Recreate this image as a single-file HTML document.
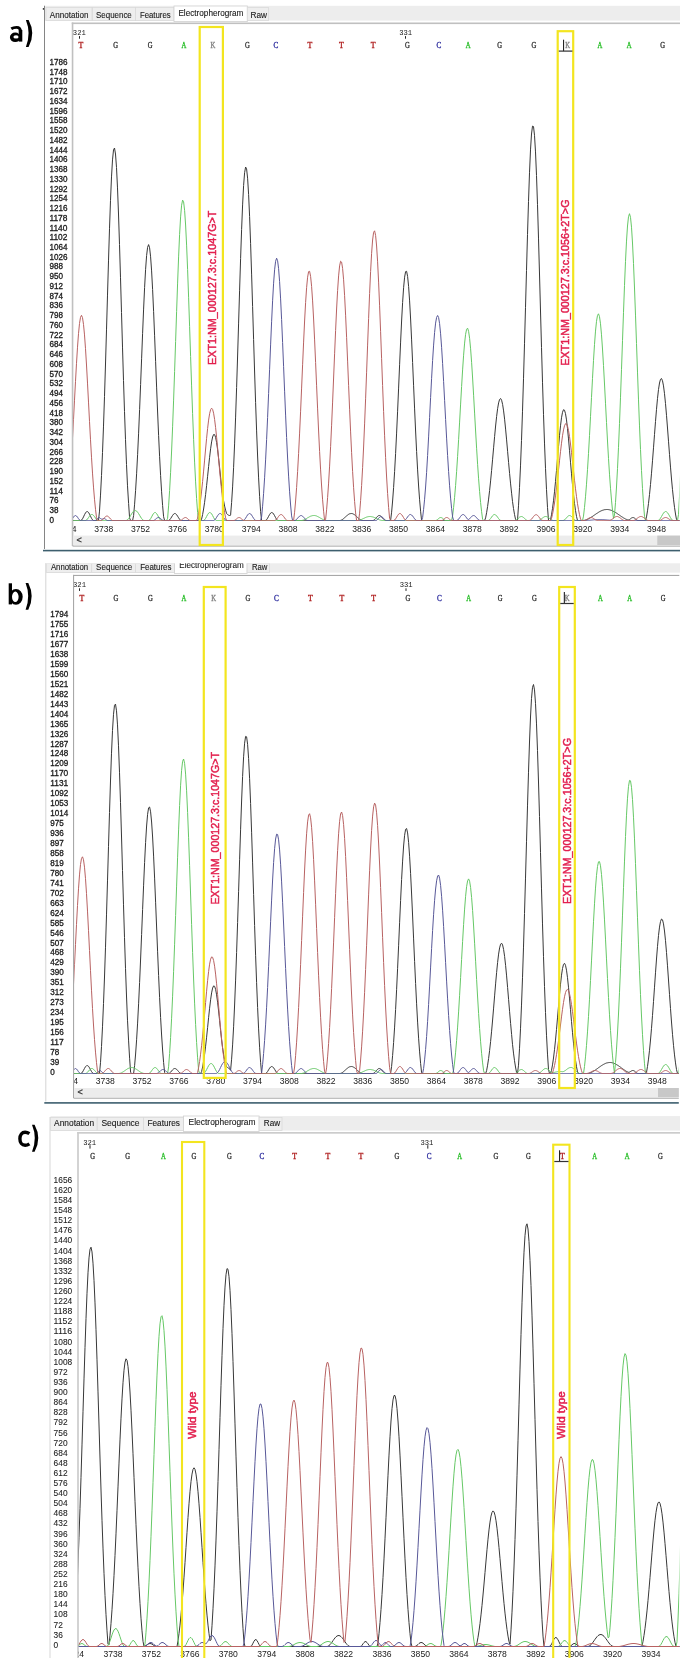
<!DOCTYPE html><html><head><meta charset="utf-8"><style>html,body{margin:0;padding:0;background:#fff;overflow:hidden;width:685px;height:1658px;}svg{display:block;will-change:transform;}</style></head><body>
<svg width="685" height="1658" viewBox="0 0 685 1658" font-family="Liberation Sans, sans-serif">
<rect width="685" height="1658" fill="#fff"/>
<rect x="44" y="5.7" width="1" height="543.3" fill="#858585"/>
<rect x="42.8" y="8" width="1.2" height="1.8" fill="#444"/>
<rect x="45" y="5.8" width="635" height="14.8" fill="#ededed"/>
<rect x="46" y="7.5" width="46" height="13.100000000000001" fill="#eeeeee" stroke="#dadada" stroke-width="0.8"/>
<text x="49.8" y="17.5" font-size="9" textLength="38.6" lengthAdjust="spacingAndGlyphs" fill="#202020" stroke="#202020" stroke-width="0.12">Annotation</text>
<rect x="92.5" y="7.5" width="43.0" height="13.100000000000001" fill="#eeeeee" stroke="#dadada" stroke-width="0.8"/>
<text x="96" y="17.5" font-size="9" textLength="35.8" lengthAdjust="spacingAndGlyphs" fill="#202020" stroke="#202020" stroke-width="0.12">Sequence</text>
<rect x="135.5" y="7.5" width="38.5" height="13.100000000000001" fill="#eeeeee" stroke="#dadada" stroke-width="0.8"/>
<text x="139.9" y="17.5" font-size="9" textLength="30.8" lengthAdjust="spacingAndGlyphs" fill="#202020" stroke="#202020" stroke-width="0.12">Features</text>
<rect x="174" y="6" width="73.30000000000001" height="15.600000000000001" fill="#ffffff" stroke="#d0d0d0" stroke-width="0.8"/>
<text x="178.4" y="16.3" font-size="9" textLength="65" lengthAdjust="spacingAndGlyphs" fill="#202020" stroke="#202020" stroke-width="0.12">Electropherogram</text>
<rect x="247.3" y="7.5" width="21.19999999999999" height="13.100000000000001" fill="#eeeeee" stroke="#dadada" stroke-width="0.8"/>
<text x="250.5" y="17.5" font-size="9" textLength="16.5" lengthAdjust="spacingAndGlyphs" fill="#202020" stroke="#202020" stroke-width="0.12">Raw</text>
<rect x="71.75" y="22.5" width="608.25" height="1.6" fill="#c0c0c0"/>
<rect x="71.75" y="22.5" width="1.6" height="523.5" fill="#c0c0c0"/>
<text x="49.4" y="64.8" font-size="8.5" textLength="18.00" lengthAdjust="spacingAndGlyphs" fill="#1a1a1a" stroke="#1a1a1a" stroke-width="0.3">1786</text>
<text x="49.4" y="74.5" font-size="8.5" textLength="18.00" lengthAdjust="spacingAndGlyphs" fill="#1a1a1a" stroke="#1a1a1a" stroke-width="0.3">1748</text>
<text x="49.4" y="84.3" font-size="8.5" textLength="18.00" lengthAdjust="spacingAndGlyphs" fill="#1a1a1a" stroke="#1a1a1a" stroke-width="0.3">1710</text>
<text x="49.4" y="94.0" font-size="8.5" textLength="18.00" lengthAdjust="spacingAndGlyphs" fill="#1a1a1a" stroke="#1a1a1a" stroke-width="0.3">1672</text>
<text x="49.4" y="103.8" font-size="8.5" textLength="18.00" lengthAdjust="spacingAndGlyphs" fill="#1a1a1a" stroke="#1a1a1a" stroke-width="0.3">1634</text>
<text x="49.4" y="113.5" font-size="8.5" textLength="18.00" lengthAdjust="spacingAndGlyphs" fill="#1a1a1a" stroke="#1a1a1a" stroke-width="0.3">1596</text>
<text x="49.4" y="123.3" font-size="8.5" textLength="18.00" lengthAdjust="spacingAndGlyphs" fill="#1a1a1a" stroke="#1a1a1a" stroke-width="0.3">1558</text>
<text x="49.4" y="133.0" font-size="8.5" textLength="18.00" lengthAdjust="spacingAndGlyphs" fill="#1a1a1a" stroke="#1a1a1a" stroke-width="0.3">1520</text>
<text x="49.4" y="142.8" font-size="8.5" textLength="18.00" lengthAdjust="spacingAndGlyphs" fill="#1a1a1a" stroke="#1a1a1a" stroke-width="0.3">1482</text>
<text x="49.4" y="152.5" font-size="8.5" textLength="18.00" lengthAdjust="spacingAndGlyphs" fill="#1a1a1a" stroke="#1a1a1a" stroke-width="0.3">1444</text>
<text x="49.4" y="162.2" font-size="8.5" textLength="18.00" lengthAdjust="spacingAndGlyphs" fill="#1a1a1a" stroke="#1a1a1a" stroke-width="0.3">1406</text>
<text x="49.4" y="172.0" font-size="8.5" textLength="18.00" lengthAdjust="spacingAndGlyphs" fill="#1a1a1a" stroke="#1a1a1a" stroke-width="0.3">1368</text>
<text x="49.4" y="181.7" font-size="8.5" textLength="18.00" lengthAdjust="spacingAndGlyphs" fill="#1a1a1a" stroke="#1a1a1a" stroke-width="0.3">1330</text>
<text x="49.4" y="191.5" font-size="8.5" textLength="18.00" lengthAdjust="spacingAndGlyphs" fill="#1a1a1a" stroke="#1a1a1a" stroke-width="0.3">1292</text>
<text x="49.4" y="201.2" font-size="8.5" textLength="18.00" lengthAdjust="spacingAndGlyphs" fill="#1a1a1a" stroke="#1a1a1a" stroke-width="0.3">1254</text>
<text x="49.4" y="211.0" font-size="8.5" textLength="18.00" lengthAdjust="spacingAndGlyphs" fill="#1a1a1a" stroke="#1a1a1a" stroke-width="0.3">1216</text>
<text x="49.4" y="220.7" font-size="8.5" textLength="18.00" lengthAdjust="spacingAndGlyphs" fill="#1a1a1a" stroke="#1a1a1a" stroke-width="0.3">1178</text>
<text x="49.4" y="230.5" font-size="8.5" textLength="18.00" lengthAdjust="spacingAndGlyphs" fill="#1a1a1a" stroke="#1a1a1a" stroke-width="0.3">1140</text>
<text x="49.4" y="240.2" font-size="8.5" textLength="18.00" lengthAdjust="spacingAndGlyphs" fill="#1a1a1a" stroke="#1a1a1a" stroke-width="0.3">1102</text>
<text x="49.4" y="250.0" font-size="8.5" textLength="18.00" lengthAdjust="spacingAndGlyphs" fill="#1a1a1a" stroke="#1a1a1a" stroke-width="0.3">1064</text>
<text x="49.4" y="259.7" font-size="8.5" textLength="18.00" lengthAdjust="spacingAndGlyphs" fill="#1a1a1a" stroke="#1a1a1a" stroke-width="0.3">1026</text>
<text x="49.4" y="269.4" font-size="8.5" textLength="13.50" lengthAdjust="spacingAndGlyphs" fill="#1a1a1a" stroke="#1a1a1a" stroke-width="0.3">988</text>
<text x="49.4" y="279.2" font-size="8.5" textLength="13.50" lengthAdjust="spacingAndGlyphs" fill="#1a1a1a" stroke="#1a1a1a" stroke-width="0.3">950</text>
<text x="49.4" y="288.9" font-size="8.5" textLength="13.50" lengthAdjust="spacingAndGlyphs" fill="#1a1a1a" stroke="#1a1a1a" stroke-width="0.3">912</text>
<text x="49.4" y="298.7" font-size="8.5" textLength="13.50" lengthAdjust="spacingAndGlyphs" fill="#1a1a1a" stroke="#1a1a1a" stroke-width="0.3">874</text>
<text x="49.4" y="308.4" font-size="8.5" textLength="13.50" lengthAdjust="spacingAndGlyphs" fill="#1a1a1a" stroke="#1a1a1a" stroke-width="0.3">836</text>
<text x="49.4" y="318.2" font-size="8.5" textLength="13.50" lengthAdjust="spacingAndGlyphs" fill="#1a1a1a" stroke="#1a1a1a" stroke-width="0.3">798</text>
<text x="49.4" y="327.9" font-size="8.5" textLength="13.50" lengthAdjust="spacingAndGlyphs" fill="#1a1a1a" stroke="#1a1a1a" stroke-width="0.3">760</text>
<text x="49.4" y="337.7" font-size="8.5" textLength="13.50" lengthAdjust="spacingAndGlyphs" fill="#1a1a1a" stroke="#1a1a1a" stroke-width="0.3">722</text>
<text x="49.4" y="347.4" font-size="8.5" textLength="13.50" lengthAdjust="spacingAndGlyphs" fill="#1a1a1a" stroke="#1a1a1a" stroke-width="0.3">684</text>
<text x="49.4" y="357.1" font-size="8.5" textLength="13.50" lengthAdjust="spacingAndGlyphs" fill="#1a1a1a" stroke="#1a1a1a" stroke-width="0.3">646</text>
<text x="49.4" y="366.9" font-size="8.5" textLength="13.50" lengthAdjust="spacingAndGlyphs" fill="#1a1a1a" stroke="#1a1a1a" stroke-width="0.3">608</text>
<text x="49.4" y="376.6" font-size="8.5" textLength="13.50" lengthAdjust="spacingAndGlyphs" fill="#1a1a1a" stroke="#1a1a1a" stroke-width="0.3">570</text>
<text x="49.4" y="386.4" font-size="8.5" textLength="13.50" lengthAdjust="spacingAndGlyphs" fill="#1a1a1a" stroke="#1a1a1a" stroke-width="0.3">532</text>
<text x="49.4" y="396.1" font-size="8.5" textLength="13.50" lengthAdjust="spacingAndGlyphs" fill="#1a1a1a" stroke="#1a1a1a" stroke-width="0.3">494</text>
<text x="49.4" y="405.9" font-size="8.5" textLength="13.50" lengthAdjust="spacingAndGlyphs" fill="#1a1a1a" stroke="#1a1a1a" stroke-width="0.3">456</text>
<text x="49.4" y="415.6" font-size="8.5" textLength="13.50" lengthAdjust="spacingAndGlyphs" fill="#1a1a1a" stroke="#1a1a1a" stroke-width="0.3">418</text>
<text x="49.4" y="425.4" font-size="8.5" textLength="13.50" lengthAdjust="spacingAndGlyphs" fill="#1a1a1a" stroke="#1a1a1a" stroke-width="0.3">380</text>
<text x="49.4" y="435.1" font-size="8.5" textLength="13.50" lengthAdjust="spacingAndGlyphs" fill="#1a1a1a" stroke="#1a1a1a" stroke-width="0.3">342</text>
<text x="49.4" y="444.9" font-size="8.5" textLength="13.50" lengthAdjust="spacingAndGlyphs" fill="#1a1a1a" stroke="#1a1a1a" stroke-width="0.3">304</text>
<text x="49.4" y="454.6" font-size="8.5" textLength="13.50" lengthAdjust="spacingAndGlyphs" fill="#1a1a1a" stroke="#1a1a1a" stroke-width="0.3">266</text>
<text x="49.4" y="464.3" font-size="8.5" textLength="13.50" lengthAdjust="spacingAndGlyphs" fill="#1a1a1a" stroke="#1a1a1a" stroke-width="0.3">228</text>
<text x="49.4" y="474.1" font-size="8.5" textLength="13.50" lengthAdjust="spacingAndGlyphs" fill="#1a1a1a" stroke="#1a1a1a" stroke-width="0.3">190</text>
<text x="49.4" y="483.8" font-size="8.5" textLength="13.50" lengthAdjust="spacingAndGlyphs" fill="#1a1a1a" stroke="#1a1a1a" stroke-width="0.3">152</text>
<text x="49.4" y="493.6" font-size="8.5" textLength="13.50" lengthAdjust="spacingAndGlyphs" fill="#1a1a1a" stroke="#1a1a1a" stroke-width="0.3">114</text>
<text x="49.4" y="503.3" font-size="8.5" textLength="9.00" lengthAdjust="spacingAndGlyphs" fill="#1a1a1a" stroke="#1a1a1a" stroke-width="0.3">76</text>
<text x="49.4" y="513.1" font-size="8.5" textLength="9.00" lengthAdjust="spacingAndGlyphs" fill="#1a1a1a" stroke="#1a1a1a" stroke-width="0.3">38</text>
<text x="49.4" y="522.8" font-size="8.5" textLength="4.50" lengthAdjust="spacingAndGlyphs" fill="#1a1a1a" stroke="#1a1a1a" stroke-width="0.3">0</text>
<clipPath id="ca"><rect x="73.14999999999999" y="23.900000000000002" width="606.25" height="511.70000000000005"/></clipPath>
<g clip-path="url(#ca)">
<text x="67.0" y="532" font-size="8.6" text-anchor="middle" fill="#1a1a1a">3724</text>
<text x="103.8" y="532" font-size="8.6" text-anchor="middle" fill="#1a1a1a">3738</text>
<text x="140.6" y="532" font-size="8.6" text-anchor="middle" fill="#1a1a1a">3752</text>
<text x="177.5" y="532" font-size="8.6" text-anchor="middle" fill="#1a1a1a">3766</text>
<text x="214.3" y="532" font-size="8.6" text-anchor="middle" fill="#1a1a1a">3780</text>
<text x="251.2" y="532" font-size="8.6" text-anchor="middle" fill="#1a1a1a">3794</text>
<text x="288.0" y="532" font-size="8.6" text-anchor="middle" fill="#1a1a1a">3808</text>
<text x="324.9" y="532" font-size="8.6" text-anchor="middle" fill="#1a1a1a">3822</text>
<text x="361.7" y="532" font-size="8.6" text-anchor="middle" fill="#1a1a1a">3836</text>
<text x="398.6" y="532" font-size="8.6" text-anchor="middle" fill="#1a1a1a">3850</text>
<text x="435.4" y="532" font-size="8.6" text-anchor="middle" fill="#1a1a1a">3864</text>
<text x="472.3" y="532" font-size="8.6" text-anchor="middle" fill="#1a1a1a">3878</text>
<text x="509.1" y="532" font-size="8.6" text-anchor="middle" fill="#1a1a1a">3892</text>
<text x="546.0" y="532" font-size="8.6" text-anchor="middle" fill="#1a1a1a">3906</text>
<text x="582.8" y="532" font-size="8.6" text-anchor="middle" fill="#1a1a1a">3920</text>
<text x="619.7" y="532" font-size="8.6" text-anchor="middle" fill="#1a1a1a">3934</text>
<text x="656.5" y="532" font-size="8.6" text-anchor="middle" fill="#1a1a1a">3948</text>
<text x="693.4" y="532" font-size="8.6" text-anchor="middle" fill="#1a1a1a">3962</text>
<text x="81" y="48.3" font-family="Liberation Serif" font-size="8.2" text-anchor="middle" textLength="4.8" lengthAdjust="spacingAndGlyphs" fill="#b02020" stroke="#b02020" stroke-width="0.35">T</text>
<text x="115.6" y="48.3" font-family="Liberation Serif" font-size="8.2" text-anchor="middle" textLength="4.8" lengthAdjust="spacingAndGlyphs" fill="#303030" stroke="#303030" stroke-width="0.35">G</text>
<text x="150.1" y="48.3" font-family="Liberation Serif" font-size="8.2" text-anchor="middle" textLength="4.8" lengthAdjust="spacingAndGlyphs" fill="#303030" stroke="#303030" stroke-width="0.35">G</text>
<text x="183.8" y="48.3" font-family="Liberation Serif" font-size="8.2" text-anchor="middle" textLength="4.8" lengthAdjust="spacingAndGlyphs" fill="#30c030" stroke="#30c030" stroke-width="0.35">A</text>
<text x="213" y="48.3" font-family="Liberation Serif" font-size="8.2" text-anchor="middle" textLength="4.8" lengthAdjust="spacingAndGlyphs" fill="#808080" stroke="#808080" stroke-width="0.35">K</text>
<text x="247.3" y="48.3" font-family="Liberation Serif" font-size="8.2" text-anchor="middle" textLength="4.8" lengthAdjust="spacingAndGlyphs" fill="#303030" stroke="#303030" stroke-width="0.35">G</text>
<text x="276" y="48.3" font-family="Liberation Serif" font-size="8.2" text-anchor="middle" textLength="4.8" lengthAdjust="spacingAndGlyphs" fill="#3030a0" stroke="#3030a0" stroke-width="0.35">C</text>
<text x="310" y="48.3" font-family="Liberation Serif" font-size="8.2" text-anchor="middle" textLength="4.8" lengthAdjust="spacingAndGlyphs" fill="#b02020" stroke="#b02020" stroke-width="0.35">T</text>
<text x="341.5" y="48.3" font-family="Liberation Serif" font-size="8.2" text-anchor="middle" textLength="4.8" lengthAdjust="spacingAndGlyphs" fill="#b02020" stroke="#b02020" stroke-width="0.35">T</text>
<text x="373.2" y="48.3" font-family="Liberation Serif" font-size="8.2" text-anchor="middle" textLength="4.8" lengthAdjust="spacingAndGlyphs" fill="#b02020" stroke="#b02020" stroke-width="0.35">T</text>
<text x="407.4" y="48.3" font-family="Liberation Serif" font-size="8.2" text-anchor="middle" textLength="4.8" lengthAdjust="spacingAndGlyphs" fill="#303030" stroke="#303030" stroke-width="0.35">G</text>
<text x="438.9" y="48.3" font-family="Liberation Serif" font-size="8.2" text-anchor="middle" textLength="4.8" lengthAdjust="spacingAndGlyphs" fill="#3030a0" stroke="#3030a0" stroke-width="0.35">C</text>
<text x="468.1" y="48.3" font-family="Liberation Serif" font-size="8.2" text-anchor="middle" textLength="4.8" lengthAdjust="spacingAndGlyphs" fill="#30c030" stroke="#30c030" stroke-width="0.35">A</text>
<text x="499.7" y="48.3" font-family="Liberation Serif" font-size="8.2" text-anchor="middle" textLength="4.8" lengthAdjust="spacingAndGlyphs" fill="#303030" stroke="#303030" stroke-width="0.35">G</text>
<text x="533.8" y="48.3" font-family="Liberation Serif" font-size="8.2" text-anchor="middle" textLength="4.8" lengthAdjust="spacingAndGlyphs" fill="#303030" stroke="#303030" stroke-width="0.35">G</text>
<text x="567.6" y="48.3" font-family="Liberation Serif" font-size="8.2" text-anchor="middle" textLength="4.8" lengthAdjust="spacingAndGlyphs" fill="#808080" stroke="#808080" stroke-width="0.35">K</text>
<text x="600" y="48.3" font-family="Liberation Serif" font-size="8.2" text-anchor="middle" textLength="4.8" lengthAdjust="spacingAndGlyphs" fill="#30c030" stroke="#30c030" stroke-width="0.35">A</text>
<text x="629.2" y="48.3" font-family="Liberation Serif" font-size="8.2" text-anchor="middle" textLength="4.8" lengthAdjust="spacingAndGlyphs" fill="#30c030" stroke="#30c030" stroke-width="0.35">A</text>
<text x="662.7" y="48.3" font-family="Liberation Serif" font-size="8.2" text-anchor="middle" textLength="4.8" lengthAdjust="spacingAndGlyphs" fill="#303030" stroke="#303030" stroke-width="0.35">G</text>
<text x="72.8" y="34.8" font-family="Liberation Mono" font-size="7.6" textLength="13" lengthAdjust="spacingAndGlyphs" fill="#1a1a1a">321</text>
<text x="399.2" y="34.8" font-family="Liberation Mono" font-size="7.6" textLength="13" lengthAdjust="spacingAndGlyphs" fill="#1a1a1a">331</text>
<rect x="79" y="36.1" width="1" height="2.6" fill="#222"/>
<rect x="405" y="36.1" width="1" height="2.6" fill="#222"/>
<path d="M70.5,520.5 L71.5,520.5 L72.5,520.5 L73.5,520.5 L74.5,520.5 L75.5,520.5 L76.5,520.5 L77.5,520.5 L78.5,520.5 L79.5,520.5 L80.5,520.5 L81.5,520.1 L82.5,518.8 L83.5,516.9 L84.5,514.7 L85.5,512.9 L86.5,511.7 L87.5,511.6 L88.5,512.4 L89.5,514.1 L90.5,516.2 L91.5,518.3 L92.5,519.8 L93.5,520.5 L94.5,520.5 L95.5,520.5 L96.5,520.5 L97.5,520.5 L98.5,520.5 L99.5,511.1 L100.5,495.1 L101.5,475.6 L102.5,452.6 L103.5,426.1 L104.5,396.4 L105.5,364.0 L106.5,329.9 L107.5,295.1 L108.5,260.9 L109.5,228.8 L110.5,200.3 L111.5,176.9 L112.5,159.9 L113.5,150.0 L114.5,148.0 L115.5,154.0 L116.5,167.5 L117.5,187.9 L118.5,214.0 L119.5,244.5 L120.5,277.8 L121.5,312.5 L122.5,347.1 L123.5,380.5 L124.5,411.6 L125.5,439.7 L126.5,464.5 L127.5,485.8 L128.6,503.5 L129.6,518.0 L130.6,520.5 L131.6,520.5 L132.6,520.5 L133.6,515.6 L134.6,504.2 L135.6,490.3 L136.6,473.8 L137.6,454.7 L138.6,433.2 L139.6,409.6 L140.6,384.5 L141.6,358.8 L142.6,333.3 L143.6,309.1 L144.6,287.4 L145.6,269.3 L146.6,255.6 L147.6,247.3 L148.6,244.6 L149.6,247.8 L150.6,256.8 L151.6,270.9 L152.6,289.5 L153.6,311.4 L154.6,335.8 L155.6,361.3 L156.6,387.1 L157.6,412.0 L158.6,435.4 L159.6,456.7 L160.6,475.6 L161.6,491.8 L162.6,505.5 L163.6,516.7 L164.6,520.5 L165.6,520.5 L166.6,520.5 L167.6,520.5 L168.6,520.5 L169.6,519.9 L170.6,518.6 L171.6,517.0 L172.6,515.4 L173.6,514.1 L174.6,513.5 L175.6,513.7 L176.6,514.7 L177.6,516.2 L178.6,517.8 L179.6,519.3 L180.6,520.3 L181.6,520.5 L182.6,520.5 L183.6,520.5 L184.6,520.5 L185.6,520.5 L186.6,520.5 L187.6,520.5 L188.6,520.5 L189.6,520.5 L190.6,520.5 L191.6,520.5 L192.6,520.5 L193.6,520.5 L194.6,520.5 L195.6,520.5 L196.6,520.5 L197.6,520.5 L198.6,520.5 L199.6,520.5 L200.6,520.5 L201.6,519.0 L202.6,514.6 L203.6,509.0 L204.6,502.3 L205.6,494.5 L206.6,485.7 L207.6,476.3 L208.6,466.6 L209.6,457.3 L210.6,448.8 L211.6,441.9 L212.6,437.0 L213.6,434.5 L214.6,434.6 L215.6,437.3 L216.6,442.5 L217.6,449.6 L218.6,458.2 L219.6,467.6 L220.6,477.2 L221.6,486.5 L222.6,494.4 L223.6,500.9 L224.6,506.1 L225.6,510.2 L226.6,513.6 L227.6,514.5 L228.6,515.0 L229.6,516.0 L230.6,514.9 L231.6,502.6 L232.6,486.9 L233.6,467.3 L234.6,443.9 L235.6,417.1 L236.6,387.6 L237.6,356.0 L238.6,323.1 L239.6,290.2 L240.6,258.5 L241.6,229.6 L242.6,204.9 L243.6,185.5 L244.6,172.7 L245.6,167.0 L246.6,168.9 L247.6,178.2 L248.6,194.4 L249.6,216.6 L250.6,243.7 L251.6,274.1 L252.6,306.6 L253.6,339.6 L254.6,372.0 L255.6,402.7 L256.6,430.9 L257.6,456.0 L258.6,477.9 L259.6,496.3 L260.6,511.6 L261.6,520.5 L262.6,520.5 L263.6,520.5 L264.6,520.5 L265.6,520.4 L266.6,519.7 L267.6,518.2 L268.6,516.3 L269.6,514.5 L270.6,513.1 L271.6,512.5 L272.6,512.8 L273.6,514.0 L274.6,515.7 L275.6,517.6 L276.6,519.3 L277.6,520.3 L278.6,520.5 L279.6,520.5 L280.6,520.5 L281.6,520.5 L282.6,520.5 L283.6,520.5 L284.6,520.5 L285.6,520.5 L286.6,520.5 L287.6,520.5 L288.6,520.5 L289.6,520.5 L290.6,520.5 L291.6,520.5 L292.6,520.5 L293.6,520.5 L294.6,520.5 L295.6,520.5 L296.6,520.5 L297.6,520.5 L298.6,520.5 L299.6,520.5 L300.6,520.5 L301.6,520.5 L302.6,520.5 L303.6,520.5 L304.6,520.5 L305.6,520.5 L306.6,520.5 L307.6,520.5 L308.6,520.5 L309.6,520.5 L310.6,520.5 L311.6,520.5 L312.6,520.5 L313.6,520.5 L314.6,520.5 L315.6,520.5 L316.6,520.5 L317.6,520.5 L318.6,520.5 L319.6,520.5 L320.6,520.5 L321.6,520.5 L322.6,520.5 L323.6,520.5 L324.6,520.5 L325.6,520.5 L326.6,520.5 L327.6,520.5 L328.6,520.5 L329.6,520.5 L330.6,520.5 L331.6,520.5 L332.6,520.5 L333.6,520.5 L334.6,520.5 L335.6,520.5 L336.6,520.5 L337.6,520.5 L338.6,520.5 L339.6,520.5 L340.6,520.4 L341.6,520.0 L342.6,519.4 L343.6,518.6 L344.6,517.7 L345.6,516.8 L346.6,515.9 L347.6,515.1 L348.6,514.3 L349.6,513.8 L350.6,513.6 L351.6,513.5 L352.6,513.7 L353.6,514.2 L354.6,514.8 L355.6,515.6 L356.6,516.5 L357.6,517.5 L358.6,518.4 L359.6,519.2 L360.6,519.8 L361.6,520.3 L362.6,520.5 L363.6,520.5 L364.6,520.5 L365.6,520.5 L366.6,520.5 L367.6,520.5 L368.6,520.5 L369.6,520.5 L370.6,520.5 L371.6,520.5 L372.6,520.5 L373.6,520.3 L374.6,519.6 L375.6,518.5 L376.6,517.3 L377.6,516.3 L378.6,515.6 L379.6,515.5 L380.6,516.0 L381.6,516.9 L382.6,518.1 L383.6,519.3 L384.6,520.1 L385.6,520.5 L386.6,520.5 L387.6,520.5 L388.6,520.5 L389.6,520.5 L390.6,520.5 L391.6,512.2 L392.6,501.0 L393.6,487.5 L394.6,471.6 L395.6,453.4 L396.6,433.1 L397.6,411.2 L398.6,388.1 L399.6,364.8 L400.6,342.1 L401.6,321.0 L402.6,302.6 L403.6,287.7 L404.6,277.2 L405.6,271.6 L406.6,271.3 L407.6,276.4 L408.6,286.4 L409.6,300.9 L410.6,319.0 L411.6,339.9 L412.6,362.5 L413.6,385.8 L414.6,408.9 L415.6,431.0 L416.6,451.5 L417.6,469.9 L418.6,486.0 L419.6,499.8 L420.6,511.2 L421.6,520.5 L422.6,520.5 L423.6,520.5 L424.6,520.5 L425.6,520.5 L426.6,520.5 L427.6,520.5 L428.6,520.5 L429.6,520.5 L430.6,520.5 L431.6,520.5 L432.6,520.5 L433.6,520.5 L434.6,520.5 L435.6,520.5 L436.6,520.5 L437.6,520.5 L438.6,520.5 L439.6,520.5 L440.6,520.5 L441.6,520.5 L442.6,520.5 L443.6,520.5 L444.6,520.5 L445.6,520.5 L446.6,520.5 L447.6,520.5 L448.6,520.5 L449.6,520.5 L450.6,520.5 L451.6,520.5 L452.6,520.5 L453.6,520.5 L454.6,520.5 L455.6,520.5 L456.6,520.5 L457.6,520.5 L458.6,520.5 L459.6,520.5 L460.6,520.5 L461.6,520.5 L462.6,520.5 L463.6,520.5 L464.6,520.5 L465.6,520.5 L466.6,520.5 L467.6,520.5 L468.6,520.5 L469.6,520.5 L470.6,520.5 L471.6,520.5 L472.6,520.5 L473.6,520.5 L474.6,520.5 L475.6,520.5 L476.6,520.5 L477.6,520.5 L478.6,520.5 L479.6,520.5 L480.6,520.5 L481.6,520.5 L482.6,520.5 L483.6,520.5 L484.6,520.5 L485.6,517.9 L486.6,512.7 L487.6,506.5 L488.6,499.1 L489.6,490.5 L490.6,480.9 L491.6,470.4 L492.6,459.2 L493.6,447.8 L494.6,436.6 L495.6,426.0 L496.6,416.6 L497.6,408.7 L498.6,402.9 L499.6,399.4 L500.6,398.5 L501.6,400.2 L502.6,404.4 L503.6,410.9 L504.6,419.2 L505.6,429.1 L506.6,439.9 L507.6,451.3 L508.6,462.6 L509.6,473.6 L510.6,483.9 L511.6,493.2 L512.5,501.4 L513.5,508.5 L514.5,514.4 L515.5,519.2 L516.5,520.5 L517.5,520.5 L518.5,505.8 L519.5,487.7 L520.5,465.9 L521.5,440.4 L522.5,411.2 L523.5,378.8 L524.5,343.8 L525.5,307.3 L526.5,270.4 L527.5,234.6 L528.5,201.6 L529.5,172.8 L530.5,149.9 L531.5,134.0 L532.5,126.1 L533.5,126.5 L534.5,135.3 L535.5,151.9 L536.5,175.5 L537.5,204.7 L538.5,238.1 L539.5,274.0 L540.5,311.0 L541.5,347.4 L542.5,382.2 L543.5,414.3 L544.5,443.1 L545.5,468.3 L546.5,489.7 L547.5,507.4 L548.5,520.5 L549.5,520.5 L550.5,519.8 L551.5,514.8 L552.5,508.5 L553.5,500.8 L554.5,491.8 L555.5,481.6 L556.5,470.4 L557.5,458.6 L558.5,446.8 L559.5,435.7 L560.5,425.8 L561.5,417.8 L562.5,412.3 L563.5,409.7 L564.5,410.2 L565.5,413.7 L566.5,419.9 L567.5,428.6 L568.5,438.9 L569.5,450.3 L570.5,462.2 L571.5,473.8 L572.5,484.8 L573.5,494.7 L574.5,503.3 L575.5,510.5 L576.5,516.4 L577.5,520.5 L578.5,520.5 L579.5,520.5 L580.5,520.5 L581.5,520.5 L582.5,520.5 L583.5,520.4 L584.5,520.3 L585.5,520.0 L586.5,519.7 L587.5,519.3 L588.5,518.8 L589.5,518.3 L590.5,517.7 L591.5,517.0 L592.5,516.4 L593.5,515.7 L594.5,515.0 L595.5,514.3 L596.5,513.6 L597.5,513.0 L598.5,512.3 L599.5,511.7 L600.5,511.2 L601.5,510.7 L602.5,510.3 L603.5,510.0 L604.5,509.7 L605.5,509.6 L606.5,509.5 L607.5,509.5 L608.5,509.6 L609.5,509.8 L610.5,510.1 L611.5,510.4 L612.5,510.9 L613.5,511.4 L614.5,511.9 L615.5,512.5 L616.5,513.1 L617.5,513.8 L618.5,514.5 L619.5,515.2 L620.5,515.9 L621.5,516.6 L622.5,517.2 L623.5,517.9 L624.5,518.4 L625.5,519.0 L626.5,519.4 L627.5,519.8 L628.5,519.9 L629.5,519.6 L630.5,518.8 L631.5,518.0 L632.5,517.6 L633.5,517.6 L634.5,518.1 L635.5,519.0 L636.5,519.8 L637.5,520.4 L638.5,520.5 L639.5,520.5 L640.5,520.5 L641.5,520.5 L642.5,520.5 L643.5,520.5 L644.5,520.5 L645.5,520.5 L646.5,516.9 L647.5,510.8 L648.5,503.4 L649.5,494.6 L650.5,484.5 L651.5,473.2 L652.5,460.8 L653.5,447.8 L654.5,434.5 L655.5,421.5 L656.5,409.3 L657.5,398.4 L658.5,389.5 L659.5,383.0 L660.5,379.3 L661.5,378.5 L662.5,380.8 L663.5,385.9 L664.5,393.7 L665.5,403.6 L666.5,415.3 L667.5,428.0 L668.5,441.2 L669.5,454.4 L670.5,467.1 L671.5,479.0 L672.5,489.7 L673.5,499.2 L674.5,507.3 L675.5,514.0 L676.5,519.5 L677.5,520.5 L678.5,520.5 L679.5,520.5 L680.5,520.5 L681.5,520.5 L682.0,520.5" fill="none" stroke="#383838" stroke-width="1" stroke-linejoin="round"/>
<path d="M70.5,520.5 L71.5,520.5 L72.5,520.5 L73.5,520.5 L74.5,520.5 L75.5,520.5 L76.5,520.5 L77.5,520.5 L78.5,520.5 L79.5,520.5 L80.5,520.5 L81.5,520.5 L82.5,520.5 L83.5,520.5 L84.5,520.5 L85.5,520.5 L86.5,520.0 L87.5,519.0 L88.5,517.6 L89.5,516.2 L90.5,515.1 L91.5,514.5 L92.5,514.6 L93.5,515.4 L94.5,516.6 L95.5,518.1 L96.5,519.4 L97.5,520.3 L98.5,520.5 L99.5,520.5 L100.5,520.5 L101.5,520.5 L102.5,520.5 L103.5,520.5 L104.5,520.5 L105.5,520.5 L106.5,520.5 L107.5,520.5 L108.5,520.5 L109.5,520.5 L110.5,520.5 L111.5,520.5 L112.5,520.5 L113.5,520.5 L114.5,520.5 L115.5,520.5 L116.5,520.5 L117.5,520.5 L118.5,520.5 L119.5,520.5 L120.5,520.5 L121.5,520.5 L122.5,520.5 L123.5,520.5 L124.5,520.5 L125.5,520.5 L126.5,520.4 L127.5,519.8 L128.6,518.7 L129.6,517.2 L130.6,515.5 L131.6,513.8 L132.6,512.3 L133.6,511.2 L134.6,510.6 L135.6,510.6 L136.6,511.1 L137.6,512.2 L138.6,513.6 L139.6,515.3 L140.6,517.0 L141.6,518.5 L142.6,519.7 L143.6,520.4 L144.6,520.5 L145.6,520.5 L146.6,520.5 L147.6,520.5 L148.6,520.5 L149.6,520.0 L150.6,518.7 L151.6,516.9 L152.6,515.0 L153.6,513.4 L154.6,512.6 L155.6,512.6 L156.6,513.6 L157.6,515.2 L158.6,517.1 L159.6,518.9 L160.6,520.1 L161.6,520.5 L162.6,520.5 L163.6,520.5 L164.6,520.5 L165.6,520.5 L166.6,520.5 L167.6,518.3 L168.6,505.9 L169.6,490.6 L170.6,472.3 L171.6,451.0 L172.6,426.8 L173.6,400.1 L174.6,371.4 L175.6,341.6 L176.6,311.7 L177.6,283.1 L178.6,256.9 L179.6,234.4 L180.6,216.9 L181.6,205.2 L182.6,200.1 L183.6,201.8 L184.6,210.3 L185.6,225.0 L186.6,245.1 L187.6,269.6 L188.6,297.2 L189.6,326.6 L190.6,356.5 L191.6,385.9 L192.6,413.7 L193.6,439.3 L194.6,462.1 L195.6,481.9 L196.6,498.6 L197.6,512.4 L198.6,520.5 L199.6,520.5 L200.6,520.5 L201.6,520.5 L202.6,520.5 L203.6,520.5 L204.6,519.8 L205.6,518.4 L206.6,516.5 L207.6,514.6 L208.6,513.2 L209.6,512.5 L210.6,512.8 L211.6,513.8 L212.6,515.5 L213.6,517.5 L214.6,519.2 L215.6,520.2 L216.6,520.5 L217.6,520.5 L218.6,520.5 L219.6,520.5 L220.6,520.5 L221.6,520.5 L222.6,520.5 L223.6,520.5 L224.6,520.5 L225.6,520.5 L226.6,520.5 L227.6,520.5 L228.6,520.5 L229.6,520.5 L230.6,520.5 L231.6,520.5 L232.6,520.5 L233.6,520.5 L234.6,520.5 L235.6,520.5 L236.6,520.5 L237.6,520.5 L238.6,520.5 L239.6,520.5 L240.6,520.5 L241.6,520.5 L242.6,520.5 L243.6,520.5 L244.6,520.5 L245.6,520.5 L246.6,520.5 L247.6,520.5 L248.6,520.5 L249.6,520.5 L250.6,520.5 L251.6,520.5 L252.6,520.5 L253.6,520.5 L254.6,520.5 L255.6,520.5 L256.6,520.5 L257.6,520.5 L258.6,520.5 L259.6,520.5 L260.6,520.5 L261.6,520.5 L262.6,520.5 L263.6,520.5 L264.6,520.5 L265.6,520.5 L266.6,520.5 L267.6,520.5 L268.6,520.5 L269.6,520.5 L270.6,520.5 L271.6,520.5 L272.6,520.5 L273.6,520.5 L274.6,520.5 L275.6,520.5 L276.6,520.5 L277.6,520.5 L278.6,520.5 L279.6,520.5 L280.6,520.5 L281.6,520.5 L282.6,520.5 L283.6,520.5 L284.6,520.5 L285.6,520.5 L286.6,520.5 L287.6,520.5 L288.6,520.5 L289.6,520.5 L290.6,520.5 L291.6,520.5 L292.6,520.5 L293.6,520.5 L294.6,520.5 L295.6,520.5 L296.6,520.5 L297.6,520.5 L298.6,520.5 L299.6,520.5 L300.6,520.5 L301.6,520.5 L302.6,520.3 L303.6,520.0 L304.6,519.5 L305.6,519.0 L306.6,518.5 L307.6,517.8 L308.6,517.3 L309.6,516.7 L310.6,516.2 L311.6,515.9 L312.6,515.6 L313.6,515.5 L314.6,515.5 L315.6,515.7 L316.6,516.0 L317.6,516.5 L318.6,517.0 L319.6,517.5 L320.6,518.2 L321.6,518.7 L322.6,519.3 L323.6,519.8 L324.6,520.1 L325.6,520.4 L326.6,520.5 L327.6,520.5 L328.6,520.5 L329.6,520.5 L330.6,520.5 L331.6,520.5 L332.6,520.5 L333.6,520.5 L334.6,520.5 L335.6,520.5 L336.6,520.5 L337.6,520.5 L338.6,520.5 L339.6,520.5 L340.6,520.5 L341.6,520.5 L342.6,520.5 L343.6,520.5 L344.6,520.5 L345.6,520.5 L346.6,520.5 L347.6,520.5 L348.6,520.5 L349.6,520.5 L350.6,520.5 L351.6,520.5 L352.6,520.5 L353.6,520.5 L354.6,520.5 L355.6,520.5 L356.6,520.5 L357.6,520.5 L358.6,520.3 L359.6,520.1 L360.6,519.8 L361.6,519.4 L362.6,518.9 L363.6,518.4 L364.6,518.0 L365.6,517.5 L366.6,517.1 L367.6,516.8 L368.6,516.6 L369.6,516.5 L370.6,516.5 L371.6,516.7 L372.6,516.9 L373.6,517.2 L374.6,517.6 L375.6,518.1 L376.6,518.6 L377.6,519.0 L378.6,519.5 L379.6,519.9 L380.6,520.2 L381.6,520.4 L382.6,520.5 L383.6,520.5 L384.6,520.5 L385.6,520.5 L386.6,520.5 L387.6,520.5 L388.6,520.5 L389.6,520.5 L390.6,520.5 L391.6,520.5 L392.6,520.5 L393.6,520.5 L394.6,520.5 L395.6,520.5 L396.6,520.5 L397.6,520.5 L398.6,520.5 L399.6,520.5 L400.6,520.5 L401.6,520.5 L402.6,520.5 L403.6,520.5 L404.6,520.5 L405.6,520.5 L406.6,520.5 L407.6,520.5 L408.6,520.5 L409.6,520.5 L410.6,520.5 L411.6,520.5 L412.6,520.5 L413.6,520.5 L414.6,520.5 L415.6,520.5 L416.6,520.5 L417.6,520.5 L418.6,520.5 L419.6,520.5 L420.6,520.5 L421.6,520.5 L422.6,520.5 L423.6,520.5 L424.6,520.5 L425.6,520.5 L426.6,520.5 L427.6,520.5 L428.6,520.5 L429.6,520.5 L430.6,520.5 L431.6,520.5 L432.6,520.5 L433.6,520.5 L434.6,520.5 L435.6,520.5 L436.6,520.2 L437.6,519.5 L438.6,518.6 L439.6,517.8 L440.6,517.5 L441.6,517.7 L442.6,518.3 L443.6,519.2 L444.6,520.0 L445.6,520.5 L446.6,520.5 L447.6,520.5 L448.6,520.5 L449.6,520.5 L450.6,520.5 L451.6,520.5 L452.6,515.7 L453.6,507.4 L454.6,497.3 L455.6,485.4 L456.6,471.7 L457.6,456.4 L458.6,439.7 L459.6,422.1 L460.6,404.1 L461.6,386.5 L462.6,369.9 L463.6,355.2 L464.6,343.1 L465.6,334.3 L466.6,329.3 L467.6,328.2 L468.6,331.3 L469.6,338.3 L470.6,348.8 L471.6,362.3 L472.6,378.0 L473.6,395.2 L474.6,413.1 L475.6,431.0 L476.6,448.2 L477.6,464.3 L478.6,478.8 L479.6,491.6 L480.6,502.6 L481.6,511.7 L482.6,519.2 L483.6,520.5 L484.6,520.5 L485.6,520.5 L486.6,520.5 L487.6,520.5 L488.6,520.4 L489.6,519.7 L490.6,518.5 L491.6,517.1 L492.6,515.7 L493.6,514.8 L494.6,514.5 L495.6,514.9 L496.6,515.9 L497.6,517.2 L498.6,518.6 L499.6,519.8 L500.6,520.4 L501.6,520.5 L502.6,520.5 L503.6,520.5 L504.6,520.5 L505.6,520.5 L506.6,520.5 L507.6,520.5 L508.6,520.5 L509.6,520.5 L510.6,520.5 L511.6,520.5 L512.5,520.5 L513.5,520.5 L514.5,520.5 L515.5,520.4 L516.5,519.9 L517.5,519.1 L518.5,518.1 L519.5,517.2 L520.5,516.7 L521.5,516.5 L522.5,516.8 L523.5,517.5 L524.5,518.4 L525.5,519.3 L526.5,520.1 L527.5,520.5 L528.5,520.5 L529.5,520.5 L530.5,520.5 L531.5,520.5 L532.5,520.5 L533.5,520.5 L534.5,520.5 L535.5,520.5 L536.5,520.5 L537.5,520.5 L538.5,520.5 L539.5,520.1 L540.5,519.5 L541.5,518.8 L542.5,518.0 L543.5,517.3 L544.5,516.7 L545.5,516.5 L546.5,516.6 L547.5,517.0 L548.5,517.6 L549.5,518.4 L550.5,519.2 L551.5,519.9 L552.5,520.3 L553.5,520.5 L554.5,520.5 L555.5,520.5 L556.5,520.5 L557.5,520.5 L558.5,520.5 L559.5,520.5 L560.5,520.5 L561.5,520.5 L562.5,520.5 L563.5,520.4 L564.5,519.9 L565.5,518.9 L566.5,517.8 L567.5,516.6 L568.5,515.8 L569.5,515.5 L570.5,515.8 L571.5,516.5 L572.5,517.6 L573.5,518.8 L574.5,519.8 L575.5,520.4 L576.5,520.5 L577.5,520.5 L578.5,520.5 L579.5,520.5 L580.5,520.5 L581.5,520.5 L582.5,520.5 L583.5,516.1 L584.5,507.4 L585.5,496.8 L586.5,484.2 L587.5,469.7 L588.5,453.4 L589.5,435.6 L590.5,416.7 L591.5,397.4 L592.5,378.4 L593.5,360.4 L594.5,344.4 L595.5,331.1 L596.5,321.3 L597.5,315.4 L598.5,313.8 L599.5,316.7 L600.5,323.8 L601.5,334.8 L602.5,349.0 L603.5,365.6 L604.5,384.0 L605.5,403.2 L606.5,422.4 L607.5,441.0 L608.5,458.4 L609.5,474.2 L610.5,488.2 L611.5,500.1 L612.5,510.2 L613.5,518.4 L614.5,515.1 L615.5,502.4 L616.5,487.0 L617.5,468.6 L618.5,447.3 L619.5,423.4 L620.5,397.2 L621.5,369.3 L622.5,340.7 L623.5,312.3 L624.5,285.4 L625.5,261.3 L626.5,241.1 L627.5,226.0 L628.5,216.7 L629.5,213.7 L630.5,217.3 L631.5,227.2 L632.5,243.0 L633.5,263.6 L634.5,288.0 L635.5,315.1 L636.5,343.5 L637.5,372.1 L638.5,399.9 L639.5,425.9 L640.5,449.6 L641.5,470.6 L642.5,488.6 L643.5,503.8 L644.5,516.2 L645.5,520.5 L646.5,520.5 L647.5,520.5 L648.5,520.5 L649.5,520.5 L650.5,520.5 L651.5,520.5 L652.5,520.5 L653.5,520.5 L654.5,520.5 L655.5,520.5 L656.5,520.5 L657.5,520.5 L658.5,520.3 L659.5,519.5 L660.5,518.2 L661.5,516.5 L662.5,514.7 L663.5,513.1 L664.5,512.0 L665.5,511.5 L666.5,511.8 L667.5,512.7 L668.5,514.2 L669.5,515.9 L670.5,517.7 L671.5,519.2 L672.5,520.2 L673.5,520.5 L674.5,520.5 L675.5,520.5 L676.5,520.5 L677.5,520.5 L678.5,514.4 L679.5,496.5 L680.5,474.7 L681.5,448.8 L682.0,435.8" fill="none" stroke="#66c866" stroke-width="1" stroke-linejoin="round"/>
<path d="M70.5,520.5 L71.5,519.8 L72.5,518.5 L73.5,517.0 L74.5,515.9 L75.5,515.5 L76.5,516.0 L77.5,517.2 L78.5,518.7 L79.5,519.9 L80.5,520.5 L81.5,520.5 L82.5,520.5 L83.5,520.5 L84.5,520.5 L85.5,520.5 L86.5,520.5 L87.5,520.5 L88.5,520.5 L89.5,520.5 L90.5,520.5 L91.5,520.5 L92.5,520.5 L93.5,520.5 L94.5,520.5 L95.5,520.4 L96.5,519.6 L97.5,518.4 L98.5,517.6 L99.5,517.6 L100.5,518.5 L101.5,519.1 L102.5,519.0 L103.5,518.6 L104.5,518.6 L105.5,519.2 L106.5,520.0 L107.5,520.5 L108.5,520.5 L109.5,520.5 L110.5,520.5 L111.5,520.5 L112.5,520.5 L113.5,520.5 L114.5,520.5 L115.5,520.5 L116.5,520.5 L117.5,520.5 L118.5,520.5 L119.5,520.5 L120.5,520.5 L121.5,520.5 L122.5,520.5 L123.5,520.5 L124.5,520.5 L125.5,520.5 L126.5,520.5 L127.5,520.5 L128.6,520.5 L129.6,520.5 L130.6,520.5 L131.6,520.5 L132.6,520.5 L133.6,520.5 L134.6,520.5 L135.6,520.5 L136.6,520.5 L137.6,520.5 L138.6,520.5 L139.6,520.5 L140.6,520.5 L141.6,520.5 L142.6,520.5 L143.6,520.5 L144.6,520.5 L145.6,520.5 L146.6,520.5 L147.6,520.5 L148.6,520.5 L149.6,520.5 L150.6,520.5 L151.6,520.5 L152.6,520.5 L153.6,520.5 L154.6,520.0 L155.6,519.2 L156.6,518.3 L157.6,517.7 L158.6,517.5 L159.6,517.8 L160.6,518.6 L161.6,519.5 L162.6,520.2 L163.6,520.5 L164.6,520.5 L165.6,520.5 L166.6,520.5 L167.6,520.5 L168.6,520.5 L169.6,520.5 L170.6,520.5 L171.6,520.5 L172.6,520.5 L173.6,520.5 L174.6,520.5 L175.6,520.5 L176.6,520.5 L177.6,520.5 L178.6,520.5 L179.6,520.5 L180.6,520.5 L181.6,520.5 L182.6,520.5 L183.6,520.5 L184.6,520.5 L185.6,520.5 L186.6,520.5 L187.6,520.5 L188.6,520.5 L189.6,520.5 L190.6,520.5 L191.6,520.5 L192.6,520.5 L193.6,520.5 L194.6,520.5 L195.6,520.5 L196.6,520.5 L197.6,520.5 L198.6,520.5 L199.6,520.5 L200.6,520.5 L201.6,520.5 L202.6,520.5 L203.6,520.5 L204.6,520.5 L205.6,520.5 L206.6,520.5 L207.6,520.5 L208.6,520.5 L209.6,520.5 L210.6,520.5 L211.6,520.5 L212.6,520.5 L213.6,520.5 L214.6,520.1 L215.6,518.9 L216.6,517.3 L217.6,515.7 L218.6,514.3 L219.6,513.6 L220.6,513.6 L221.6,514.4 L222.6,515.8 L223.6,517.5 L224.6,519.1 L225.6,520.1 L226.6,520.5 L227.6,520.5 L228.6,520.5 L229.6,520.5 L230.6,520.5 L231.6,520.5 L232.6,520.5 L233.6,520.5 L234.6,520.5 L235.6,520.5 L236.6,520.5 L237.6,520.5 L238.6,520.5 L239.6,520.5 L240.6,520.5 L241.6,520.5 L242.6,520.5 L243.6,520.4 L244.6,519.6 L245.6,518.2 L246.6,516.5 L247.6,514.9 L248.6,513.9 L249.6,513.5 L250.6,513.9 L251.6,515.1 L252.6,516.7 L253.6,518.3 L254.6,519.7 L255.6,520.4 L256.6,520.5 L257.6,520.5 L258.6,520.5 L259.6,520.5 L260.6,520.5 L261.6,516.9 L262.6,506.2 L263.6,493.3 L264.6,477.8 L265.6,459.9 L266.6,439.6 L267.6,417.4 L268.6,393.6 L269.6,369.2 L270.6,344.9 L271.6,321.8 L272.6,300.8 L273.6,283.2 L274.6,269.8 L275.6,261.3 L276.6,258.2 L277.6,260.7 L278.6,268.7 L279.6,281.7 L280.6,298.9 L281.6,319.5 L282.6,342.5 L283.6,366.7 L284.6,391.2 L285.6,415.1 L286.6,437.5 L287.6,458.0 L288.6,476.1 L289.6,491.8 L290.6,505.0 L291.6,515.9 L292.6,520.5 L293.6,520.5 L294.6,520.5 L295.6,520.2 L296.6,519.4 L297.6,518.2 L298.6,517.1 L299.6,516.1 L300.6,515.6 L301.6,515.6 L302.6,516.2 L303.6,517.2 L304.6,518.4 L305.6,519.5 L306.6,520.2 L307.6,520.5 L308.6,520.5 L309.6,520.5 L310.6,520.5 L311.6,520.5 L312.6,520.5 L313.6,520.5 L314.6,520.5 L315.6,520.5 L316.6,520.5 L317.6,520.5 L318.6,520.5 L319.6,520.5 L320.6,520.5 L321.6,520.5 L322.6,520.5 L323.6,520.5 L324.6,520.5 L325.6,520.5 L326.6,520.5 L327.6,520.5 L328.6,520.5 L329.6,520.5 L330.6,520.5 L331.6,520.5 L332.6,520.5 L333.6,520.5 L334.6,520.5 L335.6,520.5 L336.6,520.5 L337.6,520.5 L338.6,520.5 L339.6,520.5 L340.6,520.5 L341.6,520.5 L342.6,520.5 L343.6,520.5 L344.6,520.5 L345.6,520.5 L346.6,520.5 L347.6,520.5 L348.6,520.5 L349.6,520.5 L350.6,520.5 L351.6,520.5 L352.6,520.5 L353.6,520.5 L354.6,520.5 L355.6,520.5 L356.6,520.5 L357.6,520.5 L358.6,520.5 L359.6,520.5 L360.6,520.5 L361.6,520.5 L362.6,520.5 L363.6,520.5 L364.6,520.5 L365.6,520.5 L366.6,520.5 L367.6,520.5 L368.6,520.5 L369.6,520.5 L370.6,520.5 L371.6,520.5 L372.6,520.5 L373.6,520.5 L374.6,520.5 L375.6,520.5 L376.6,520.3 L377.6,519.5 L378.6,518.3 L379.6,517.2 L380.6,516.6 L381.6,516.6 L382.6,517.3 L383.6,518.4 L384.6,519.6 L385.6,520.3 L386.6,520.5 L387.6,520.5 L388.6,520.5 L389.6,520.5 L390.6,520.5 L391.6,520.5 L392.6,520.5 L393.6,520.5 L394.6,520.5 L395.6,520.5 L396.6,520.5 L397.6,520.5 L398.6,520.5 L399.6,520.5 L400.6,520.5 L401.6,520.5 L402.6,520.5 L403.6,520.5 L404.6,520.4 L405.6,519.6 L406.6,518.4 L407.6,516.9 L408.6,515.6 L409.6,514.7 L410.6,514.5 L411.6,515.0 L412.6,516.0 L413.6,517.4 L414.6,518.8 L415.6,519.9 L416.6,520.5 L417.6,520.5 L418.6,520.5 L419.6,520.5 L420.6,520.5 L421.6,520.5 L422.6,517.6 L423.6,509.3 L424.6,499.2 L425.6,487.0 L426.6,472.4 L427.6,455.5 L428.6,436.9 L429.6,417.3 L430.6,397.5 L431.6,378.3 L432.6,360.5 L433.6,345.1 L434.6,332.4 L435.6,323.1 L436.6,317.4 L437.6,315.5 L438.6,317.5 L439.6,323.7 L440.6,333.8 L441.6,347.3 L442.6,363.4 L443.6,381.4 L444.6,400.3 L445.6,419.5 L446.6,438.1 L447.6,455.6 L448.6,471.6 L449.6,485.8 L450.6,498.1 L451.6,508.4 L452.6,516.9 L453.6,520.5 L454.6,520.5 L455.6,520.5 L456.6,520.5 L457.6,520.1 L458.6,519.1 L459.6,517.8 L460.6,516.4 L461.6,515.2 L462.6,514.6 L463.6,514.6 L464.6,515.3 L465.6,516.5 L466.6,517.9 L467.6,519.2 L468.6,519.5 L469.6,518.8 L470.6,517.6 L471.6,516.5 L472.6,515.8 L473.6,515.5 L474.6,515.8 L475.6,516.6 L476.6,517.8 L477.6,518.9 L478.6,519.9 L479.6,520.4 L480.6,520.5 L481.6,520.5 L482.6,520.5 L483.6,520.5 L484.6,520.5 L485.6,520.5 L486.6,520.5 L487.6,520.5 L488.6,520.5 L489.6,520.5 L490.6,520.5 L491.6,520.5 L492.6,520.5 L493.6,520.5 L494.6,520.5 L495.6,520.5 L496.6,520.5 L497.6,520.5 L498.6,520.5 L499.6,520.5 L500.6,520.5 L501.6,520.5 L502.6,520.5 L503.6,520.5 L504.6,520.5 L505.6,520.5 L506.6,520.5 L507.6,520.5 L508.6,520.5 L509.6,520.5 L510.6,520.5 L511.6,520.5 L512.5,520.5 L513.5,520.5 L514.5,520.5 L515.5,520.5 L516.5,520.5 L517.5,520.5 L518.5,520.5 L519.5,520.5 L520.5,520.5 L521.5,520.5 L522.5,520.5 L523.5,520.5 L524.5,520.5 L525.5,520.5 L526.5,520.5 L527.5,520.5 L528.5,520.5 L529.5,520.5 L530.5,520.5 L531.5,520.5 L532.5,520.5 L533.5,520.5 L534.5,520.5 L535.5,520.5 L536.5,520.5 L537.5,520.5 L538.5,520.5 L539.5,520.5 L540.5,520.5 L541.5,520.5 L542.5,520.5 L543.5,520.5 L544.5,520.5 L545.5,520.5 L546.5,520.5 L547.5,520.5 L548.5,520.5 L549.5,520.5 L550.5,520.5 L551.5,520.5 L552.5,520.5 L553.5,520.5 L554.5,520.5 L555.5,520.5 L556.5,520.5 L557.5,520.5 L558.5,520.5 L559.5,520.5 L560.5,520.5 L561.5,520.5 L562.5,520.5 L563.5,520.5 L564.5,520.5 L565.5,520.5 L566.5,520.5 L567.5,520.5 L568.5,520.5 L569.5,520.5 L570.5,520.5 L571.5,520.5 L572.5,520.5 L573.5,520.5 L574.5,520.5 L575.5,520.5 L576.5,520.5 L577.5,520.5 L578.5,520.5 L579.5,520.5 L580.5,520.5 L581.5,520.5 L582.5,520.5 L583.5,520.5 L584.5,520.5 L585.5,520.5 L586.5,520.5 L587.5,520.4 L588.5,520.3 L589.5,520.3 L590.5,520.2 L591.5,520.1 L592.5,520.0 L593.5,519.9 L594.5,519.8 L595.5,519.7 L596.5,519.6 L597.5,519.6 L598.5,519.5 L599.5,519.5 L600.5,519.5 L601.5,519.5 L602.5,519.6 L603.5,519.6 L604.5,519.7 L605.5,519.8 L606.5,519.9 L607.5,520.0 L608.5,520.1 L609.5,520.2 L610.5,520.3 L611.5,520.3 L612.5,520.4 L613.5,520.5 L614.5,520.5 L615.5,520.5 L616.5,520.5 L617.5,520.5 L618.5,520.5 L619.5,520.5 L620.5,520.5 L621.5,520.5 L622.5,520.5 L623.5,520.5 L624.5,520.5 L625.5,520.5 L626.5,520.5 L627.5,520.5 L628.5,520.5 L629.5,520.5 L630.5,520.5 L631.5,520.5 L632.5,520.5 L633.5,520.5 L634.5,520.5 L635.5,520.5 L636.5,520.5 L637.5,520.5 L638.5,520.5 L639.5,520.5 L640.5,520.5 L641.5,520.5 L642.5,520.5 L643.5,520.5 L644.5,520.5 L645.5,520.5 L646.5,520.5 L647.5,520.5 L648.5,520.5 L649.5,520.5 L650.5,520.5 L651.5,520.5 L652.5,520.5 L653.5,520.5 L654.5,520.5 L655.5,520.5 L656.5,520.5 L657.5,520.5 L658.5,520.5 L659.5,520.5 L660.5,520.5 L661.5,520.5 L662.5,520.5 L663.5,520.5 L664.5,520.5 L665.5,520.5 L666.5,520.5 L667.5,520.5 L668.5,520.5 L669.5,520.5 L670.5,520.5 L671.5,520.5 L672.5,520.5 L673.5,520.5 L674.5,520.5 L675.5,520.5 L676.5,520.5 L677.5,520.5 L678.5,520.5 L679.5,520.5 L680.5,520.5 L681.5,520.5 L682.0,520.5" fill="none" stroke="#585898" stroke-width="1" stroke-linejoin="round"/>
<path d="M70.5,471.6 L71.5,455.6 L72.5,438.0 L73.5,419.4 L74.5,400.2 L75.5,381.3 L76.5,363.3 L77.5,347.2 L78.5,333.7 L79.5,323.5 L80.5,317.3 L81.5,315.3 L82.5,317.7 L83.5,324.4 L84.5,334.9 L85.5,348.7 L86.5,365.0 L87.5,383.1 L88.5,402.1 L89.5,421.3 L90.5,439.8 L91.5,457.2 L92.5,473.1 L93.5,487.1 L94.5,499.2 L95.5,509.3 L96.5,517.6 L97.5,520.5 L98.5,520.5 L99.5,520.5 L100.5,520.5 L101.5,520.4 L102.5,519.9 L103.5,518.8 L104.5,517.7 L105.5,516.6 L106.5,516.1 L107.5,516.1 L108.5,516.7 L109.5,517.8 L110.5,519.0 L111.5,519.9 L112.5,520.5 L113.5,520.5 L114.5,520.5 L115.5,520.5 L116.5,520.5 L117.5,520.5 L118.5,520.5 L119.5,520.5 L120.5,520.5 L121.5,520.5 L122.5,520.5 L123.5,520.5 L124.5,520.5 L125.5,520.5 L126.5,520.5 L127.5,520.5 L128.6,520.5 L129.6,520.5 L130.6,520.5 L131.6,520.5 L132.6,520.5 L133.6,520.5 L134.6,520.5 L135.6,520.5 L136.6,520.5 L137.6,520.5 L138.6,520.5 L139.6,520.5 L140.6,520.5 L141.6,520.5 L142.6,520.5 L143.6,520.5 L144.6,520.5 L145.6,520.5 L146.6,520.5 L147.6,520.5 L148.6,520.5 L149.6,520.5 L150.6,520.5 L151.6,520.5 L152.6,520.5 L153.6,520.5 L154.6,520.5 L155.6,520.5 L156.6,520.5 L157.6,520.5 L158.6,520.5 L159.6,520.5 L160.6,520.5 L161.6,520.5 L162.6,520.5 L163.6,520.5 L164.6,520.5 L165.6,520.5 L166.6,520.5 L167.6,520.5 L168.6,520.5 L169.6,520.5 L170.6,520.5 L171.6,520.5 L172.6,520.5 L173.6,520.5 L174.6,520.5 L175.6,520.5 L176.6,520.5 L177.6,520.5 L178.6,520.5 L179.6,520.5 L180.6,520.4 L181.6,520.0 L182.6,519.1 L183.6,518.3 L184.6,517.7 L185.6,517.5 L186.6,517.9 L187.6,518.7 L188.6,519.6 L189.6,520.3 L190.6,520.5 L191.6,520.5 L192.6,520.5 L193.6,520.5 L194.6,520.5 L195.6,520.5 L196.6,520.5 L197.6,518.2 L198.6,513.2 L199.6,507.0 L200.6,499.7 L201.6,491.1 L202.6,481.5 L203.6,471.1 L204.6,460.1 L205.6,449.0 L206.6,438.3 L207.6,428.5 L208.6,420.1 L209.6,413.7 L210.6,409.7 L211.6,408.2 L212.6,409.4 L213.6,413.2 L214.6,419.4 L215.6,427.6 L216.6,437.2 L217.6,447.9 L218.6,459.0 L219.6,470.0 L220.6,480.5 L221.6,490.2 L222.6,498.9 L223.6,506.3 L224.6,512.6 L225.6,517.8 L226.6,520.5 L227.6,520.5 L228.6,520.5 L229.6,520.5 L230.6,520.5 L231.6,520.5 L232.6,520.5 L233.6,520.5 L234.6,520.3 L235.6,519.7 L236.6,518.9 L237.6,518.0 L238.6,517.6 L239.6,517.6 L240.6,518.1 L241.6,519.0 L242.6,519.8 L243.6,520.4 L244.6,520.5 L245.6,520.5 L246.6,520.5 L247.6,520.5 L248.6,520.5 L249.6,520.5 L250.6,520.5 L251.6,520.5 L252.6,520.5 L253.6,520.5 L254.6,520.5 L255.6,520.5 L256.6,520.5 L257.6,520.5 L258.6,520.5 L259.6,520.5 L260.6,520.5 L261.6,520.5 L262.6,520.5 L263.6,520.5 L264.6,520.5 L265.6,520.5 L266.6,520.5 L267.6,520.5 L268.6,520.5 L269.6,520.5 L270.6,520.5 L271.6,520.5 L272.6,520.5 L273.6,520.5 L274.6,520.5 L275.6,520.1 L276.6,519.1 L277.6,517.8 L278.6,516.4 L279.6,515.2 L280.6,514.6 L281.6,514.6 L282.6,515.3 L283.6,516.5 L284.6,517.9 L285.6,519.3 L286.6,520.2 L287.6,520.5 L288.6,520.5 L289.6,520.5 L290.6,520.5 L291.6,520.5 L292.6,520.5 L293.6,520.5 L294.6,512.2 L295.6,501.0 L296.6,487.5 L297.6,471.6 L298.6,453.4 L299.6,433.1 L300.6,411.2 L301.6,388.1 L302.6,364.8 L303.6,342.1 L304.6,321.0 L305.6,302.6 L306.6,287.7 L307.6,277.2 L308.6,271.6 L309.6,271.3 L310.6,276.4 L311.6,286.4 L312.6,300.9 L313.6,319.0 L314.6,339.9 L315.6,362.5 L316.6,385.8 L317.6,408.9 L318.6,431.0 L319.6,451.5 L320.6,469.9 L321.6,486.0 L322.6,499.8 L323.6,511.2 L324.6,520.5 L325.6,519.6 L326.6,509.8 L327.6,497.6 L328.6,483.1 L329.6,466.1 L330.6,446.7 L331.6,425.2 L332.6,402.1 L333.6,378.0 L334.6,353.8 L335.6,330.5 L336.6,309.0 L337.6,290.5 L338.6,275.9 L339.6,265.9 L340.6,261.2 L341.6,262.1 L342.6,268.4 L343.6,279.8 L344.6,295.7 L345.6,315.2 L346.6,337.3 L347.6,361.1 L348.6,385.3 L349.6,409.2 L350.6,431.9 L351.6,452.7 L352.6,471.4 L353.6,487.7 L354.6,501.5 L355.6,512.9 L356.6,520.5 L357.6,520.5 L358.6,520.5 L359.6,513.2 L360.6,500.7 L361.6,485.6 L362.6,467.7 L363.6,447.0 L364.6,423.9 L365.6,398.8 L366.6,372.2 L367.6,345.1 L368.6,318.6 L369.6,293.6 L370.6,271.5 L371.6,253.3 L372.6,240.0 L373.6,232.3 L374.6,230.8 L375.6,235.4 L376.6,246.0 L377.6,261.8 L378.6,282.1 L379.6,305.8 L380.6,331.7 L381.6,358.7 L382.6,385.6 L383.6,411.6 L384.6,435.8 L385.6,457.7 L386.6,477.0 L387.6,493.5 L388.6,507.3 L389.6,518.5 L390.6,520.5 L391.6,520.5 L392.6,520.5 L393.6,520.5 L394.6,520.0 L395.6,518.8 L396.6,517.2 L397.6,515.5 L398.6,514.2 L399.6,513.5 L400.6,513.7 L401.6,514.6 L402.6,516.0 L403.6,517.7 L404.6,519.2 L405.6,520.2 L406.6,520.5 L407.6,520.5 L408.6,520.5 L409.6,520.5 L410.6,520.5 L411.6,520.5 L412.6,520.5 L413.6,520.5 L414.6,520.5 L415.6,520.5 L416.6,520.5 L417.6,520.5 L418.6,520.5 L419.6,520.5 L420.6,520.5 L421.6,520.5 L422.6,520.5 L423.6,520.5 L424.6,520.5 L425.6,520.5 L426.6,520.5 L427.6,520.5 L428.6,520.5 L429.6,520.5 L430.6,520.5 L431.6,520.5 L432.6,520.5 L433.6,520.5 L434.6,520.5 L435.6,520.5 L436.6,520.5 L437.6,520.5 L438.6,520.5 L439.6,520.5 L440.6,520.5 L441.6,520.5 L442.6,520.2 L443.6,519.4 L444.6,518.5 L445.6,517.8 L446.6,517.5 L447.6,517.7 L448.6,518.4 L449.6,519.3 L450.6,520.1 L451.6,520.5 L452.6,520.5 L453.6,520.5 L454.6,520.5 L455.6,520.5 L456.6,520.5 L457.6,520.5 L458.6,520.5 L459.6,520.5 L460.6,520.5 L461.6,520.5 L462.6,520.5 L463.6,520.5 L464.6,520.5 L465.6,520.5 L466.6,520.5 L467.6,520.5 L468.6,520.5 L469.6,520.5 L470.6,520.5 L471.6,520.5 L472.6,520.5 L473.6,520.5 L474.6,520.5 L475.6,520.5 L476.6,520.5 L477.6,520.5 L478.6,520.5 L479.6,520.5 L480.6,520.5 L481.6,520.5 L482.6,520.5 L483.6,520.5 L484.6,520.5 L485.6,520.5 L486.6,520.5 L487.6,520.5 L488.6,520.5 L489.6,520.5 L490.6,520.5 L491.6,520.5 L492.6,520.5 L493.6,520.5 L494.6,520.5 L495.6,520.5 L496.6,520.5 L497.6,520.5 L498.6,520.5 L499.6,520.5 L500.6,520.5 L501.6,520.5 L502.6,520.5 L503.6,520.5 L504.6,520.5 L505.6,520.5 L506.6,520.5 L507.6,520.5 L508.6,520.5 L509.6,520.5 L510.6,520.5 L511.6,520.5 L512.5,520.5 L513.5,520.5 L514.5,520.5 L515.5,520.5 L516.5,520.5 L517.5,520.5 L518.5,520.5 L519.5,520.5 L520.5,520.5 L521.5,520.5 L522.5,520.5 L523.5,520.5 L524.5,520.5 L525.5,520.5 L526.5,520.5 L527.5,520.5 L528.5,520.5 L529.5,520.4 L530.5,520.0 L531.5,519.2 L532.5,517.9 L533.5,516.6 L534.5,515.4 L535.5,514.8 L536.5,514.7 L537.5,515.3 L538.5,516.4 L539.5,517.8 L540.5,519.1 L541.5,520.0 L542.5,520.4 L543.5,520.5 L544.5,520.5 L545.5,520.5 L546.5,520.5 L547.5,520.5 L548.5,520.5 L549.5,520.5 L550.5,520.5 L551.5,518.5 L552.5,514.3 L553.5,509.1 L554.5,503.0 L555.5,495.9 L556.5,487.9 L557.5,479.3 L558.5,470.1 L559.5,460.8 L560.5,451.7 L561.5,443.2 L562.5,435.8 L563.5,429.9 L564.5,425.8 L565.5,423.7 L566.5,423.8 L567.5,426.1 L568.5,430.4 L569.5,436.5 L570.5,444.0 L571.5,452.6 L572.5,461.7 L573.5,471.0 L574.5,480.2 L575.5,488.8 L576.5,496.7 L577.5,503.7 L578.5,509.7 L579.5,514.7 L580.5,518.9 L581.5,520.5 L582.5,520.5 L583.5,520.5 L584.5,520.5 L585.5,520.3 L586.5,519.8 L587.5,519.1 L588.5,518.4 L589.5,517.9 L590.5,517.5 L591.5,517.6 L592.5,517.9 L593.5,518.5 L594.5,519.2 L595.5,519.9 L596.5,520.3 L597.5,520.5 L598.5,520.5 L599.5,520.5 L600.5,520.5 L601.5,520.5 L602.5,520.5 L603.5,520.5 L604.5,520.5 L605.5,520.5 L606.5,520.5 L607.5,520.5 L608.5,520.5 L609.5,520.5 L610.5,520.2 L611.5,519.7 L612.5,518.9 L613.5,518.1 L614.5,517.4 L615.5,516.8 L616.5,516.5 L617.5,516.5 L618.5,516.9 L619.5,517.5 L620.5,518.2 L621.5,519.0 L622.5,519.7 L623.5,520.3 L624.5,520.5 L625.5,520.5 L626.5,520.5 L627.5,520.5 L628.5,520.5 L629.5,520.5 L630.5,520.5 L631.5,520.5 L632.5,520.5 L633.5,520.5 L634.5,520.2 L635.5,519.7 L636.5,518.9 L637.5,518.1 L638.5,517.4 L639.5,516.8 L640.5,516.5 L641.5,516.5 L642.5,516.9 L643.5,517.5 L644.5,518.2 L645.5,519.0 L646.5,519.7 L647.5,520.3 L648.5,520.5 L649.5,520.5 L650.5,520.5 L651.5,520.5 L652.5,520.5 L653.5,520.5 L654.5,520.5 L655.5,520.5 L656.5,520.5 L657.5,520.5 L658.5,520.5 L659.5,520.5 L660.5,520.2 L661.5,519.6 L662.5,518.9 L663.5,518.2 L664.5,517.7 L665.5,517.5 L666.5,517.6 L667.5,518.1 L668.5,518.7 L669.5,519.4 L670.5,520.0 L671.5,520.4 L672.5,520.5 L673.5,520.5 L674.5,520.5 L675.5,520.5 L676.5,520.5 L677.5,520.5 L678.5,520.5 L679.5,520.5 L680.5,520.5 L681.5,520.5 L682.0,520.5" fill="none" stroke="#b86262" stroke-width="1" stroke-linejoin="round"/>
</g>
<rect x="73.14999999999999" y="535.6" width="606.85" height="9.399999999999977" fill="#ececec"/>
<rect x="657.3" y="535.6" width="22.700000000000045" height="9.399999999999977" fill="#c8c8c8"/>
<rect x="72.55" y="545.6" width="607.45" height="1" fill="#a4a4a4"/>
<text x="76.55" y="543.2" font-size="9" fill="#333" stroke="#333" stroke-width="0.3">&lt;</text>
<rect x="43" y="549.8" width="637" height="1.6" fill="#3d5f6e"/>
<rect x="199.7" y="27" width="23.200000000000017" height="518" fill="none" stroke="#f3e51f" stroke-width="2.2"/>
<rect x="557.7" y="31.2" width="15.5" height="513.8" fill="none" stroke="#f3e51f" stroke-width="2.2"/>
<rect x="563.0" y="39.7" width="1.1" height="11.399999999999999" fill="#222"/>
<rect x="558.8" y="50.5" width="13.600000000000023" height="1.2" fill="#333"/>
<text x="0" y="0" transform="translate(216.2,364.9) rotate(-90)" font-size="11.6" textLength="154.3" lengthAdjust="spacingAndGlyphs" fill="#e2204e" stroke="#e2204e" stroke-width="0.5">EXT1:NM_000127.3:c.1047G&gt;T</text>
<text x="0" y="0" transform="translate(569.2,365.7) rotate(-90)" font-size="11.6" textLength="166.2" lengthAdjust="spacingAndGlyphs" fill="#e2204e" stroke="#e2204e" stroke-width="0.5">EXT1:NM_000127.3:c.1056+2T&gt;G</text>
<path d="M28.6,20 Q36,33.45 28.6,46.9 L25.9,46.9 Q31.3,33.45 25.9,20 Z" fill="#000"/>
<rect x="18.7" y="30" width="3.6" height="11.6" fill="#000"/>
<path d="M11.3,28.7 C13.2,27.5 15,27.4 16.6,27.4 C19.3,27.4 20.5,28.8 20.5,31.6" fill="none" stroke="#000" stroke-width="2.9"/>
<path fill-rule="evenodd" fill="#000" d="M9.9,37.35 A5.3,4.75 0 1 0 20.5,37.35 A5.3,4.75 0 1 0 9.9,37.35 Z M13.4,36.95 A2.65,1.65 0 1 0 18.7,36.95 A2.65,1.65 0 1 0 13.4,36.95 Z"/>
<rect x="45.3" y="563" width="1" height="538.5" fill="#d4d4d4"/>
<rect x="46.3" y="562.8" width="633.7" height="9.800000000000068" fill="#ededed"/>
<rect x="46.3" y="563.3" width="45.400000000000006" height="9.300000000000068" fill="#eeeeee" stroke="#dadada" stroke-width="0.8"/>
<text x="50.9" y="569.7" font-size="9" textLength="37.3" lengthAdjust="spacingAndGlyphs" fill="#202020" stroke="#202020" stroke-width="0.12">Annotation</text>
<rect x="91.7" y="563.3" width="43.8" height="9.300000000000068" fill="#eeeeee" stroke="#dadada" stroke-width="0.8"/>
<text x="96.1" y="569.7" font-size="9" textLength="36.2" lengthAdjust="spacingAndGlyphs" fill="#202020" stroke="#202020" stroke-width="0.12">Sequence</text>
<rect x="135.5" y="563.3" width="39.0" height="9.300000000000068" fill="#eeeeee" stroke="#dadada" stroke-width="0.8"/>
<text x="140.2" y="569.7" font-size="9" textLength="31.3" lengthAdjust="spacingAndGlyphs" fill="#202020" stroke="#202020" stroke-width="0.12">Features</text>
<rect x="174.5" y="561.8" width="72.6" height="11.800000000000068" fill="#ffffff" stroke="#d0d0d0" stroke-width="0.8"/>
<text x="179.3" y="567.7" font-size="9" textLength="64.4" lengthAdjust="spacingAndGlyphs" fill="#202020" stroke="#202020" stroke-width="0.12">Electropherogram</text>
<rect x="247.1" y="563.3" width="22.50000000000003" height="9.300000000000068" fill="#eeeeee" stroke="#dadada" stroke-width="0.8"/>
<text x="251.9" y="570" font-size="9" textLength="15.5" lengthAdjust="spacingAndGlyphs" fill="#202020" stroke="#202020" stroke-width="0.12">Raw</text>
<rect x="73.0" y="574.9000000000001" width="606.3" height="1.1" fill="#a8a8a8"/>
<rect x="73.0" y="574.9000000000001" width="1.1" height="523.0999999999999" fill="#a8a8a8"/>
<text x="50.2" y="617.1" font-size="8.5" textLength="18.00" lengthAdjust="spacingAndGlyphs" fill="#1a1a1a" stroke="#1a1a1a" stroke-width="0.3">1794</text>
<text x="50.2" y="627.1" font-size="8.5" textLength="18.00" lengthAdjust="spacingAndGlyphs" fill="#1a1a1a" stroke="#1a1a1a" stroke-width="0.3">1755</text>
<text x="50.2" y="637.0" font-size="8.5" textLength="18.00" lengthAdjust="spacingAndGlyphs" fill="#1a1a1a" stroke="#1a1a1a" stroke-width="0.3">1716</text>
<text x="50.2" y="647.0" font-size="8.5" textLength="18.00" lengthAdjust="spacingAndGlyphs" fill="#1a1a1a" stroke="#1a1a1a" stroke-width="0.3">1677</text>
<text x="50.2" y="656.9" font-size="8.5" textLength="18.00" lengthAdjust="spacingAndGlyphs" fill="#1a1a1a" stroke="#1a1a1a" stroke-width="0.3">1638</text>
<text x="50.2" y="666.9" font-size="8.5" textLength="18.00" lengthAdjust="spacingAndGlyphs" fill="#1a1a1a" stroke="#1a1a1a" stroke-width="0.3">1599</text>
<text x="50.2" y="676.8" font-size="8.5" textLength="18.00" lengthAdjust="spacingAndGlyphs" fill="#1a1a1a" stroke="#1a1a1a" stroke-width="0.3">1560</text>
<text x="50.2" y="686.8" font-size="8.5" textLength="18.00" lengthAdjust="spacingAndGlyphs" fill="#1a1a1a" stroke="#1a1a1a" stroke-width="0.3">1521</text>
<text x="50.2" y="696.7" font-size="8.5" textLength="18.00" lengthAdjust="spacingAndGlyphs" fill="#1a1a1a" stroke="#1a1a1a" stroke-width="0.3">1482</text>
<text x="50.2" y="706.6" font-size="8.5" textLength="18.00" lengthAdjust="spacingAndGlyphs" fill="#1a1a1a" stroke="#1a1a1a" stroke-width="0.3">1443</text>
<text x="50.2" y="716.6" font-size="8.5" textLength="18.00" lengthAdjust="spacingAndGlyphs" fill="#1a1a1a" stroke="#1a1a1a" stroke-width="0.3">1404</text>
<text x="50.2" y="726.5" font-size="8.5" textLength="18.00" lengthAdjust="spacingAndGlyphs" fill="#1a1a1a" stroke="#1a1a1a" stroke-width="0.3">1365</text>
<text x="50.2" y="736.5" font-size="8.5" textLength="18.00" lengthAdjust="spacingAndGlyphs" fill="#1a1a1a" stroke="#1a1a1a" stroke-width="0.3">1326</text>
<text x="50.2" y="746.5" font-size="8.5" textLength="18.00" lengthAdjust="spacingAndGlyphs" fill="#1a1a1a" stroke="#1a1a1a" stroke-width="0.3">1287</text>
<text x="50.2" y="756.4" font-size="8.5" textLength="18.00" lengthAdjust="spacingAndGlyphs" fill="#1a1a1a" stroke="#1a1a1a" stroke-width="0.3">1248</text>
<text x="50.2" y="766.4" font-size="8.5" textLength="18.00" lengthAdjust="spacingAndGlyphs" fill="#1a1a1a" stroke="#1a1a1a" stroke-width="0.3">1209</text>
<text x="50.2" y="776.3" font-size="8.5" textLength="18.00" lengthAdjust="spacingAndGlyphs" fill="#1a1a1a" stroke="#1a1a1a" stroke-width="0.3">1170</text>
<text x="50.2" y="786.2" font-size="8.5" textLength="18.00" lengthAdjust="spacingAndGlyphs" fill="#1a1a1a" stroke="#1a1a1a" stroke-width="0.3">1131</text>
<text x="50.2" y="796.2" font-size="8.5" textLength="18.00" lengthAdjust="spacingAndGlyphs" fill="#1a1a1a" stroke="#1a1a1a" stroke-width="0.3">1092</text>
<text x="50.2" y="806.1" font-size="8.5" textLength="18.00" lengthAdjust="spacingAndGlyphs" fill="#1a1a1a" stroke="#1a1a1a" stroke-width="0.3">1053</text>
<text x="50.2" y="816.1" font-size="8.5" textLength="18.00" lengthAdjust="spacingAndGlyphs" fill="#1a1a1a" stroke="#1a1a1a" stroke-width="0.3">1014</text>
<text x="50.2" y="826.0" font-size="8.5" textLength="13.50" lengthAdjust="spacingAndGlyphs" fill="#1a1a1a" stroke="#1a1a1a" stroke-width="0.3">975</text>
<text x="50.2" y="836.0" font-size="8.5" textLength="13.50" lengthAdjust="spacingAndGlyphs" fill="#1a1a1a" stroke="#1a1a1a" stroke-width="0.3">936</text>
<text x="50.2" y="846.0" font-size="8.5" textLength="13.50" lengthAdjust="spacingAndGlyphs" fill="#1a1a1a" stroke="#1a1a1a" stroke-width="0.3">897</text>
<text x="50.2" y="855.9" font-size="8.5" textLength="13.50" lengthAdjust="spacingAndGlyphs" fill="#1a1a1a" stroke="#1a1a1a" stroke-width="0.3">858</text>
<text x="50.2" y="865.9" font-size="8.5" textLength="13.50" lengthAdjust="spacingAndGlyphs" fill="#1a1a1a" stroke="#1a1a1a" stroke-width="0.3">819</text>
<text x="50.2" y="875.8" font-size="8.5" textLength="13.50" lengthAdjust="spacingAndGlyphs" fill="#1a1a1a" stroke="#1a1a1a" stroke-width="0.3">780</text>
<text x="50.2" y="885.8" font-size="8.5" textLength="13.50" lengthAdjust="spacingAndGlyphs" fill="#1a1a1a" stroke="#1a1a1a" stroke-width="0.3">741</text>
<text x="50.2" y="895.7" font-size="8.5" textLength="13.50" lengthAdjust="spacingAndGlyphs" fill="#1a1a1a" stroke="#1a1a1a" stroke-width="0.3">702</text>
<text x="50.2" y="905.6" font-size="8.5" textLength="13.50" lengthAdjust="spacingAndGlyphs" fill="#1a1a1a" stroke="#1a1a1a" stroke-width="0.3">663</text>
<text x="50.2" y="915.6" font-size="8.5" textLength="13.50" lengthAdjust="spacingAndGlyphs" fill="#1a1a1a" stroke="#1a1a1a" stroke-width="0.3">624</text>
<text x="50.2" y="925.5" font-size="8.5" textLength="13.50" lengthAdjust="spacingAndGlyphs" fill="#1a1a1a" stroke="#1a1a1a" stroke-width="0.3">585</text>
<text x="50.2" y="935.5" font-size="8.5" textLength="13.50" lengthAdjust="spacingAndGlyphs" fill="#1a1a1a" stroke="#1a1a1a" stroke-width="0.3">546</text>
<text x="50.2" y="945.5" font-size="8.5" textLength="13.50" lengthAdjust="spacingAndGlyphs" fill="#1a1a1a" stroke="#1a1a1a" stroke-width="0.3">507</text>
<text x="50.2" y="955.4" font-size="8.5" textLength="13.50" lengthAdjust="spacingAndGlyphs" fill="#1a1a1a" stroke="#1a1a1a" stroke-width="0.3">468</text>
<text x="50.2" y="965.4" font-size="8.5" textLength="13.50" lengthAdjust="spacingAndGlyphs" fill="#1a1a1a" stroke="#1a1a1a" stroke-width="0.3">429</text>
<text x="50.2" y="975.3" font-size="8.5" textLength="13.50" lengthAdjust="spacingAndGlyphs" fill="#1a1a1a" stroke="#1a1a1a" stroke-width="0.3">390</text>
<text x="50.2" y="985.2" font-size="8.5" textLength="13.50" lengthAdjust="spacingAndGlyphs" fill="#1a1a1a" stroke="#1a1a1a" stroke-width="0.3">351</text>
<text x="50.2" y="995.2" font-size="8.5" textLength="13.50" lengthAdjust="spacingAndGlyphs" fill="#1a1a1a" stroke="#1a1a1a" stroke-width="0.3">312</text>
<text x="50.2" y="1005.1" font-size="8.5" textLength="13.50" lengthAdjust="spacingAndGlyphs" fill="#1a1a1a" stroke="#1a1a1a" stroke-width="0.3">273</text>
<text x="50.2" y="1015.1" font-size="8.5" textLength="13.50" lengthAdjust="spacingAndGlyphs" fill="#1a1a1a" stroke="#1a1a1a" stroke-width="0.3">234</text>
<text x="50.2" y="1025.0" font-size="8.5" textLength="13.50" lengthAdjust="spacingAndGlyphs" fill="#1a1a1a" stroke="#1a1a1a" stroke-width="0.3">195</text>
<text x="50.2" y="1035.0" font-size="8.5" textLength="13.50" lengthAdjust="spacingAndGlyphs" fill="#1a1a1a" stroke="#1a1a1a" stroke-width="0.3">156</text>
<text x="50.2" y="1045.0" font-size="8.5" textLength="13.50" lengthAdjust="spacingAndGlyphs" fill="#1a1a1a" stroke="#1a1a1a" stroke-width="0.3">117</text>
<text x="50.2" y="1054.9" font-size="8.5" textLength="9.00" lengthAdjust="spacingAndGlyphs" fill="#1a1a1a" stroke="#1a1a1a" stroke-width="0.3">78</text>
<text x="50.2" y="1064.8" font-size="8.5" textLength="9.00" lengthAdjust="spacingAndGlyphs" fill="#1a1a1a" stroke="#1a1a1a" stroke-width="0.3">39</text>
<text x="50.2" y="1074.8" font-size="8.5" textLength="4.50" lengthAdjust="spacingAndGlyphs" fill="#1a1a1a" stroke="#1a1a1a" stroke-width="0.3">0</text>
<clipPath id="cb"><rect x="74.14999999999999" y="576.0500000000001" width="604.55" height="511.94999999999993"/></clipPath>
<g clip-path="url(#cb)">
<text x="68.5" y="1084.3" font-size="8.6" text-anchor="middle" fill="#1a1a1a">3724</text>
<text x="105.3" y="1084.3" font-size="8.6" text-anchor="middle" fill="#1a1a1a">3738</text>
<text x="142.1" y="1084.3" font-size="8.6" text-anchor="middle" fill="#1a1a1a">3752</text>
<text x="178.9" y="1084.3" font-size="8.6" text-anchor="middle" fill="#1a1a1a">3766</text>
<text x="215.7" y="1084.3" font-size="8.6" text-anchor="middle" fill="#1a1a1a">3780</text>
<text x="252.5" y="1084.3" font-size="8.6" text-anchor="middle" fill="#1a1a1a">3794</text>
<text x="289.3" y="1084.3" font-size="8.6" text-anchor="middle" fill="#1a1a1a">3808</text>
<text x="326.1" y="1084.3" font-size="8.6" text-anchor="middle" fill="#1a1a1a">3822</text>
<text x="362.8" y="1084.3" font-size="8.6" text-anchor="middle" fill="#1a1a1a">3836</text>
<text x="399.6" y="1084.3" font-size="8.6" text-anchor="middle" fill="#1a1a1a">3850</text>
<text x="436.4" y="1084.3" font-size="8.6" text-anchor="middle" fill="#1a1a1a">3864</text>
<text x="473.2" y="1084.3" font-size="8.6" text-anchor="middle" fill="#1a1a1a">3878</text>
<text x="510.0" y="1084.3" font-size="8.6" text-anchor="middle" fill="#1a1a1a">3892</text>
<text x="546.8" y="1084.3" font-size="8.6" text-anchor="middle" fill="#1a1a1a">3906</text>
<text x="583.6" y="1084.3" font-size="8.6" text-anchor="middle" fill="#1a1a1a">3920</text>
<text x="620.4" y="1084.3" font-size="8.6" text-anchor="middle" fill="#1a1a1a">3934</text>
<text x="657.2" y="1084.3" font-size="8.6" text-anchor="middle" fill="#1a1a1a">3948</text>
<text x="694.0" y="1084.3" font-size="8.6" text-anchor="middle" fill="#1a1a1a">3962</text>
<text x="81.8" y="600.8" font-family="Liberation Serif" font-size="8.2" text-anchor="middle" textLength="4.8" lengthAdjust="spacingAndGlyphs" fill="#b02020" stroke="#b02020" stroke-width="0.35">T</text>
<text x="115.9" y="600.8" font-family="Liberation Serif" font-size="8.2" text-anchor="middle" textLength="4.8" lengthAdjust="spacingAndGlyphs" fill="#303030" stroke="#303030" stroke-width="0.35">G</text>
<text x="150.4" y="600.8" font-family="Liberation Serif" font-size="8.2" text-anchor="middle" textLength="4.8" lengthAdjust="spacingAndGlyphs" fill="#303030" stroke="#303030" stroke-width="0.35">G</text>
<text x="184" y="600.8" font-family="Liberation Serif" font-size="8.2" text-anchor="middle" textLength="4.8" lengthAdjust="spacingAndGlyphs" fill="#30c030" stroke="#30c030" stroke-width="0.35">A</text>
<text x="213.6" y="600.8" font-family="Liberation Serif" font-size="8.2" text-anchor="middle" textLength="4.8" lengthAdjust="spacingAndGlyphs" fill="#808080" stroke="#808080" stroke-width="0.35">K</text>
<text x="247.8" y="600.8" font-family="Liberation Serif" font-size="8.2" text-anchor="middle" textLength="4.8" lengthAdjust="spacingAndGlyphs" fill="#303030" stroke="#303030" stroke-width="0.35">G</text>
<text x="276.5" y="600.8" font-family="Liberation Serif" font-size="8.2" text-anchor="middle" textLength="4.8" lengthAdjust="spacingAndGlyphs" fill="#3030a0" stroke="#3030a0" stroke-width="0.35">C</text>
<text x="310.5" y="600.8" font-family="Liberation Serif" font-size="8.2" text-anchor="middle" textLength="4.8" lengthAdjust="spacingAndGlyphs" fill="#b02020" stroke="#b02020" stroke-width="0.35">T</text>
<text x="342" y="600.8" font-family="Liberation Serif" font-size="8.2" text-anchor="middle" textLength="4.8" lengthAdjust="spacingAndGlyphs" fill="#b02020" stroke="#b02020" stroke-width="0.35">T</text>
<text x="373.7" y="600.8" font-family="Liberation Serif" font-size="8.2" text-anchor="middle" textLength="4.8" lengthAdjust="spacingAndGlyphs" fill="#b02020" stroke="#b02020" stroke-width="0.35">T</text>
<text x="407.9" y="600.8" font-family="Liberation Serif" font-size="8.2" text-anchor="middle" textLength="4.8" lengthAdjust="spacingAndGlyphs" fill="#303030" stroke="#303030" stroke-width="0.35">G</text>
<text x="439.4" y="600.8" font-family="Liberation Serif" font-size="8.2" text-anchor="middle" textLength="4.8" lengthAdjust="spacingAndGlyphs" fill="#3030a0" stroke="#3030a0" stroke-width="0.35">C</text>
<text x="468.6" y="600.8" font-family="Liberation Serif" font-size="8.2" text-anchor="middle" textLength="4.8" lengthAdjust="spacingAndGlyphs" fill="#30c030" stroke="#30c030" stroke-width="0.35">A</text>
<text x="500.2" y="600.8" font-family="Liberation Serif" font-size="8.2" text-anchor="middle" textLength="4.8" lengthAdjust="spacingAndGlyphs" fill="#303030" stroke="#303030" stroke-width="0.35">G</text>
<text x="534.3" y="600.8" font-family="Liberation Serif" font-size="8.2" text-anchor="middle" textLength="4.8" lengthAdjust="spacingAndGlyphs" fill="#303030" stroke="#303030" stroke-width="0.35">G</text>
<text x="567.1" y="600.8" font-family="Liberation Serif" font-size="8.2" text-anchor="middle" textLength="4.8" lengthAdjust="spacingAndGlyphs" fill="#808080" stroke="#808080" stroke-width="0.35">K</text>
<text x="600.5" y="600.8" font-family="Liberation Serif" font-size="8.2" text-anchor="middle" textLength="4.8" lengthAdjust="spacingAndGlyphs" fill="#30c030" stroke="#30c030" stroke-width="0.35">A</text>
<text x="629.7" y="600.8" font-family="Liberation Serif" font-size="8.2" text-anchor="middle" textLength="4.8" lengthAdjust="spacingAndGlyphs" fill="#30c030" stroke="#30c030" stroke-width="0.35">A</text>
<text x="663.2" y="600.8" font-family="Liberation Serif" font-size="8.2" text-anchor="middle" textLength="4.8" lengthAdjust="spacingAndGlyphs" fill="#303030" stroke="#303030" stroke-width="0.35">G</text>
<text x="73" y="587.0" font-family="Liberation Mono" font-size="7.6" textLength="13" lengthAdjust="spacingAndGlyphs" fill="#1a1a1a">321</text>
<text x="399.7" y="587.0" font-family="Liberation Mono" font-size="7.6" textLength="13" lengthAdjust="spacingAndGlyphs" fill="#1a1a1a">331</text>
<rect x="79" y="588.3" width="1" height="2.6" fill="#222"/>
<rect x="405.5" y="588.3" width="1" height="2.6" fill="#222"/>
<path d="M71.5,1073.5 L72.5,1073.5 L73.5,1073.5 L74.5,1073.5 L75.5,1073.5 L76.5,1073.5 L77.5,1073.5 L78.5,1073.5 L79.5,1073.5 L80.5,1073.5 L81.5,1073.2 L82.5,1072.0 L83.5,1070.3 L84.5,1068.4 L85.5,1066.7 L86.5,1065.7 L87.5,1065.6 L88.5,1066.3 L89.5,1067.8 L90.5,1069.7 L91.5,1071.5 L92.5,1072.9 L93.5,1073.5 L94.5,1073.5 L95.5,1073.5 L96.5,1073.5 L97.5,1073.5 L98.5,1073.5 L99.5,1073.5 L100.5,1062.7 L101.5,1046.5 L102.5,1026.8 L103.5,1003.6 L104.5,977.0 L105.5,947.2 L106.5,914.9 L107.5,880.9 L108.5,846.3 L109.5,812.5 L110.5,781.0 L111.5,753.2 L112.5,730.5 L113.5,714.3 L114.5,705.3 L115.5,704.1 L116.5,710.8 L117.5,724.9 L118.5,745.8 L119.5,772.2 L120.5,802.7 L121.5,836.0 L122.5,870.5 L123.5,904.8 L124.5,937.7 L125.5,968.3 L126.5,996.0 L127.5,1020.2 L128.6,1040.9 L129.6,1058.2 L130.6,1072.2 L131.6,1073.5 L132.6,1073.5 L133.6,1073.5 L134.6,1065.7 L135.6,1054.0 L136.6,1039.8 L137.6,1023.1 L138.6,1003.8 L139.6,982.4 L140.6,959.0 L141.6,934.5 L142.6,909.6 L143.6,885.2 L144.6,862.4 L145.6,842.4 L146.6,826.0 L147.6,814.3 L148.6,807.8 L149.6,807.0 L150.6,811.8 L151.6,822.0 L152.6,837.0 L153.6,856.1 L154.6,878.1 L155.6,902.2 L156.6,927.0 L157.6,951.8 L158.6,975.5 L159.6,997.6 L160.6,1017.6 L161.6,1035.0 L162.6,1050.0 L163.6,1062.5 L164.6,1072.6 L165.6,1073.5 L166.6,1073.5 L167.6,1073.5 L168.6,1073.5 L169.6,1073.1 L170.6,1072.2 L171.6,1071.0 L172.6,1069.8 L173.6,1068.9 L174.6,1068.5 L175.6,1068.7 L176.6,1069.3 L177.6,1070.4 L178.6,1071.6 L179.6,1072.7 L180.6,1073.3 L181.6,1073.5 L182.6,1073.5 L183.6,1073.5 L184.6,1073.5 L185.6,1073.5 L186.6,1073.5 L187.6,1073.5 L188.6,1073.5 L189.6,1073.5 L190.6,1073.5 L191.6,1073.5 L192.6,1073.5 L193.6,1073.5 L194.6,1073.5 L195.6,1073.5 L196.6,1073.5 L197.6,1073.5 L198.6,1073.5 L199.6,1073.5 L200.6,1073.5 L201.6,1071.5 L202.6,1067.0 L203.6,1061.2 L204.6,1054.3 L205.6,1046.2 L206.6,1037.2 L207.6,1027.5 L208.6,1017.7 L209.6,1008.2 L210.6,999.8 L211.6,992.9 L212.6,988.1 L213.6,985.9 L214.6,986.3 L215.6,989.3 L216.6,994.8 L217.6,1002.2 L218.6,1011.0 L219.6,1020.6 L220.6,1030.5 L221.6,1039.8 L222.6,1047.8 L223.6,1054.3 L224.6,1059.5 L225.6,1063.6 L226.6,1066.9 L227.6,1067.5 L228.6,1068.0 L229.6,1069.0 L230.6,1070.3 L231.6,1059.2 L232.6,1044.9 L233.6,1026.8 L234.6,1005.0 L235.6,980.1 L236.6,952.4 L237.6,922.5 L238.6,891.3 L239.6,859.8 L240.6,829.2 L241.6,801.0 L242.6,776.4 L243.6,756.8 L244.6,743.2 L245.6,736.4 L246.6,736.8 L247.6,744.3 L248.6,758.5 L249.6,778.7 L250.6,803.6 L251.6,832.2 L252.6,862.9 L253.6,894.4 L254.6,925.6 L255.6,955.3 L256.6,982.7 L257.6,1007.4 L258.6,1028.9 L259.6,1047.2 L260.6,1062.3 L261.6,1073.5 L262.6,1073.5 L263.6,1073.5 L264.6,1073.5 L265.6,1073.5 L266.6,1072.8 L267.6,1071.5 L268.6,1069.8 L269.6,1068.2 L270.6,1067.0 L271.6,1066.5 L272.6,1066.8 L273.6,1067.8 L274.6,1069.3 L275.6,1071.0 L276.6,1072.4 L277.6,1073.3 L278.6,1073.5 L279.6,1073.5 L280.6,1073.5 L281.6,1073.5 L282.6,1073.5 L283.6,1073.5 L284.6,1073.5 L285.6,1073.5 L286.6,1073.5 L287.6,1073.5 L288.6,1073.5 L289.6,1073.5 L290.6,1073.5 L291.6,1073.5 L292.6,1073.5 L293.6,1073.5 L294.6,1073.5 L295.6,1073.5 L296.6,1073.5 L297.6,1073.5 L298.6,1073.5 L299.6,1073.5 L300.6,1073.5 L301.6,1073.5 L302.6,1073.5 L303.6,1073.5 L304.6,1073.5 L305.6,1073.5 L306.6,1073.5 L307.6,1073.5 L308.6,1073.5 L309.6,1073.5 L310.6,1073.5 L311.6,1073.5 L312.6,1073.5 L313.6,1073.5 L314.6,1073.5 L315.6,1073.5 L316.6,1073.5 L317.6,1073.5 L318.6,1073.5 L319.6,1073.5 L320.6,1073.5 L321.6,1073.5 L322.6,1073.5 L323.6,1073.5 L324.6,1073.5 L325.6,1073.5 L326.6,1073.5 L327.6,1073.5 L328.6,1073.5 L329.6,1073.5 L330.6,1073.5 L331.6,1073.5 L332.6,1073.5 L333.6,1073.5 L334.6,1073.5 L335.6,1073.5 L336.6,1073.5 L337.6,1073.5 L338.6,1073.5 L339.6,1073.5 L340.6,1073.4 L341.6,1073.0 L342.6,1072.4 L343.6,1071.6 L344.6,1070.7 L345.6,1069.8 L346.6,1068.9 L347.6,1068.1 L348.6,1067.3 L349.6,1066.8 L350.6,1066.6 L351.6,1066.5 L352.6,1066.7 L353.6,1067.2 L354.6,1067.8 L355.6,1068.6 L356.6,1069.5 L357.6,1070.5 L358.6,1071.4 L359.6,1072.2 L360.6,1072.8 L361.6,1073.3 L362.6,1073.5 L363.6,1073.5 L364.6,1073.5 L365.6,1073.5 L366.6,1073.5 L367.6,1073.5 L368.6,1073.5 L369.6,1073.5 L370.6,1073.5 L371.6,1073.5 L372.6,1073.5 L373.6,1073.3 L374.6,1072.6 L375.6,1071.5 L376.6,1070.3 L377.6,1069.3 L378.6,1068.6 L379.6,1068.5 L380.6,1069.0 L381.6,1069.9 L382.6,1071.1 L383.6,1072.3 L384.6,1073.1 L385.6,1073.5 L386.6,1073.5 L387.6,1073.5 L388.6,1073.5 L389.6,1073.5 L390.6,1073.5 L391.6,1066.4 L392.6,1055.6 L393.6,1042.5 L394.6,1027.1 L395.6,1009.5 L396.6,989.7 L397.6,968.3 L398.6,945.8 L399.6,922.8 L400.6,900.4 L401.6,879.5 L402.6,861.1 L403.6,846.0 L404.6,835.3 L405.6,829.3 L406.6,828.5 L407.6,832.9 L408.6,842.3 L409.6,856.2 L410.6,873.7 L411.6,894.0 L412.6,916.0 L413.6,938.9 L414.6,961.6 L415.6,983.5 L416.6,1003.8 L417.6,1022.1 L418.6,1038.2 L419.6,1051.9 L420.6,1063.4 L421.6,1072.7 L422.6,1073.5 L423.6,1073.5 L424.6,1073.5 L425.6,1073.5 L426.6,1073.5 L427.6,1073.5 L428.6,1073.5 L429.6,1073.5 L430.6,1073.5 L431.6,1073.5 L432.6,1073.5 L433.6,1073.5 L434.6,1073.5 L435.6,1073.5 L436.6,1073.5 L437.6,1073.5 L438.6,1073.5 L439.6,1073.5 L440.6,1073.5 L441.6,1073.5 L442.6,1073.5 L443.6,1073.5 L444.6,1073.5 L445.6,1073.5 L446.6,1073.5 L447.6,1073.5 L448.6,1073.5 L449.6,1073.5 L450.6,1073.5 L451.6,1073.5 L452.6,1073.5 L453.6,1073.5 L454.6,1073.5 L455.6,1073.5 L456.6,1073.5 L457.6,1073.5 L458.6,1073.5 L459.6,1073.5 L460.6,1073.5 L461.6,1073.5 L462.6,1073.5 L463.6,1073.5 L464.6,1073.5 L465.6,1073.5 L466.6,1073.5 L467.6,1073.5 L468.6,1073.5 L469.6,1073.5 L470.6,1073.5 L471.6,1073.5 L472.6,1073.5 L473.6,1073.5 L474.6,1073.5 L475.6,1073.5 L476.6,1073.5 L477.6,1073.5 L478.6,1073.5 L479.6,1073.5 L480.6,1073.5 L481.6,1073.5 L482.6,1073.5 L483.6,1073.5 L484.6,1073.5 L485.6,1073.5 L486.6,1070.7 L487.6,1065.2 L488.6,1058.5 L489.6,1050.6 L490.6,1041.5 L491.6,1031.2 L492.6,1020.0 L493.6,1008.1 L494.6,995.9 L495.6,983.9 L496.6,972.6 L497.6,962.5 L498.6,954.1 L499.6,947.9 L500.6,944.2 L501.6,943.2 L502.6,945.0 L503.6,949.5 L504.6,956.4 L505.6,965.4 L506.6,975.9 L507.6,987.5 L508.6,999.6 L509.6,1011.7 L510.6,1023.4 L511.6,1034.4 L512.5,1044.3 L513.5,1053.1 L514.5,1060.7 L515.5,1067.0 L516.5,1072.2 L517.5,1073.5 L518.5,1065.2 L519.5,1048.8 L520.5,1028.8 L521.5,1005.1 L522.5,977.8 L523.5,947.1 L524.5,913.6 L525.5,878.1 L526.5,841.8 L527.5,805.9 L528.5,772.2 L529.5,742.0 L530.5,717.0 L531.5,698.4 L532.5,687.4 L533.5,684.5 L534.5,689.9 L535.5,703.3 L536.5,723.9 L537.5,750.6 L538.5,782.0 L539.5,816.5 L540.5,852.7 L541.5,888.9 L542.5,923.9 L543.5,956.7 L544.5,986.4 L545.5,1012.6 L546.5,1035.2 L547.5,1054.1 L548.5,1069.5 L549.5,1073.5 L550.5,1073.5 L551.5,1070.4 L552.5,1064.9 L553.5,1058.0 L554.5,1049.7 L555.5,1040.1 L556.5,1029.4 L557.5,1017.9 L558.5,1006.2 L559.5,994.7 L560.5,984.2 L561.5,975.2 L562.5,968.5 L563.5,964.4 L564.5,963.3 L565.5,965.3 L566.5,970.2 L567.5,977.7 L568.5,987.2 L569.5,998.1 L570.5,1009.7 L571.5,1021.4 L572.5,1032.7 L573.5,1043.1 L574.5,1052.3 L575.5,1060.2 L576.5,1066.7 L577.5,1071.9 L578.5,1073.5 L579.5,1073.5 L580.5,1073.5 L581.5,1073.5 L582.5,1073.5 L583.5,1073.5 L584.5,1073.5 L585.5,1073.5 L586.5,1073.5 L587.5,1073.4 L588.5,1073.3 L589.5,1073.0 L590.5,1072.7 L591.5,1072.3 L592.5,1071.8 L593.5,1071.2 L594.5,1070.6 L595.5,1069.9 L596.5,1069.2 L597.5,1068.5 L598.5,1067.7 L599.5,1067.0 L600.5,1066.3 L601.5,1065.6 L602.5,1065.0 L603.5,1064.4 L604.5,1063.9 L605.5,1063.4 L606.5,1063.0 L607.5,1062.8 L608.5,1062.6 L609.5,1062.5 L610.5,1062.5 L611.5,1062.6 L612.5,1062.8 L613.5,1063.1 L614.5,1063.5 L615.5,1064.0 L616.5,1064.6 L617.5,1065.2 L618.5,1065.8 L619.5,1066.5 L620.5,1067.2 L621.5,1068.0 L622.5,1068.7 L623.5,1069.4 L624.5,1070.1 L625.5,1070.8 L626.5,1071.4 L627.5,1071.9 L628.5,1072.3 L629.5,1072.1 L630.5,1071.5 L631.5,1070.9 L632.5,1070.5 L633.5,1070.6 L634.5,1071.1 L635.5,1072.0 L636.5,1072.8 L637.5,1073.4 L638.5,1073.5 L639.5,1073.5 L640.5,1073.5 L641.5,1073.5 L642.5,1073.5 L643.5,1073.5 L644.5,1073.5 L645.5,1073.5 L646.5,1072.4 L647.5,1066.4 L648.5,1059.1 L649.5,1050.3 L650.5,1040.0 L651.5,1028.3 L652.5,1015.4 L653.5,1001.6 L654.5,987.2 L655.5,972.8 L656.5,959.0 L657.5,946.4 L658.5,935.5 L659.5,927.1 L660.5,921.5 L661.5,919.0 L662.5,919.8 L663.5,923.9 L664.5,931.0 L665.5,940.7 L666.5,952.5 L667.5,965.8 L668.5,980.0 L669.5,994.4 L670.5,1008.6 L671.5,1022.0 L672.5,1034.3 L673.5,1045.3 L674.5,1054.9 L675.5,1062.9 L676.5,1069.6 L677.5,1073.5 L678.5,1073.5 L679.5,1073.5 L680.5,1073.5 L681.3,1073.5" fill="none" stroke="#383838" stroke-width="1" stroke-linejoin="round"/>
<path d="M71.5,1073.5 L72.5,1073.5 L73.5,1073.5 L74.5,1073.5 L75.5,1073.5 L76.5,1073.5 L77.5,1073.5 L78.5,1073.5 L79.5,1073.5 L80.5,1073.5 L81.5,1073.5 L82.5,1073.5 L83.5,1073.5 L84.5,1073.5 L85.5,1073.5 L86.5,1073.1 L87.5,1072.3 L88.5,1071.1 L89.5,1069.9 L90.5,1069.0 L91.5,1068.5 L92.5,1068.6 L93.5,1069.3 L94.5,1070.3 L95.5,1071.5 L96.5,1072.6 L97.5,1073.3 L98.5,1073.5 L99.5,1073.5 L100.5,1073.5 L101.5,1073.5 L102.5,1073.5 L103.5,1073.5 L104.5,1073.5 L105.5,1073.5 L106.5,1073.5 L107.5,1073.5 L108.5,1073.5 L109.5,1073.5 L110.5,1073.5 L111.5,1073.5 L112.5,1073.5 L113.5,1073.5 L114.5,1073.5 L115.5,1073.5 L116.5,1073.5 L117.5,1073.5 L118.5,1073.5 L119.5,1073.4 L120.5,1073.2 L121.5,1072.8 L122.5,1072.2 L123.5,1071.6 L124.5,1070.9 L125.5,1070.2 L126.5,1069.5 L127.5,1068.8 L128.6,1068.3 L129.6,1067.9 L130.6,1067.6 L131.6,1067.5 L132.6,1067.6 L133.6,1067.8 L134.6,1068.2 L135.6,1068.8 L136.6,1069.4 L137.6,1070.1 L138.6,1070.8 L139.6,1071.5 L140.6,1072.2 L141.6,1072.7 L142.6,1073.1 L143.6,1073.4 L144.6,1073.5 L145.6,1073.5 L146.6,1073.5 L147.6,1073.5 L148.6,1073.5 L149.6,1073.1 L150.6,1072.1 L151.6,1070.8 L152.6,1069.4 L153.6,1068.2 L154.6,1067.6 L155.6,1067.6 L156.6,1068.3 L157.6,1069.5 L158.6,1070.9 L159.6,1072.3 L160.6,1073.2 L161.6,1073.5 L162.6,1073.5 L163.6,1073.5 L164.6,1073.5 L165.6,1073.5 L166.6,1073.5 L167.6,1073.5 L168.6,1066.8 L169.6,1053.5 L170.6,1037.4 L171.6,1018.2 L172.6,996.2 L173.6,971.3 L174.6,944.2 L175.6,915.5 L176.6,886.1 L177.6,857.2 L178.6,829.9 L179.6,805.5 L180.6,785.2 L181.6,770.3 L182.6,761.3 L183.6,759.0 L184.6,763.3 L185.6,774.1 L186.6,790.8 L187.6,812.4 L188.6,837.8 L189.6,865.7 L190.6,895.0 L191.6,924.3 L192.6,952.6 L193.6,979.0 L194.6,1003.1 L195.6,1024.3 L196.6,1042.5 L197.6,1057.8 L198.6,1070.3 L199.6,1073.5 L200.6,1073.5 L201.6,1073.5 L202.6,1073.5 L203.6,1073.5 L204.6,1072.8 L205.6,1071.4 L206.6,1069.6 L207.6,1067.6 L208.6,1065.7 L209.6,1064.3 L210.6,1063.6 L211.6,1063.6 L212.6,1064.4 L213.6,1065.9 L214.6,1067.8 L215.6,1069.8 L216.6,1071.6 L217.6,1072.9 L218.6,1073.5 L219.6,1073.5 L220.6,1073.5 L221.6,1073.5 L222.6,1073.5 L223.6,1073.5 L224.6,1073.5 L225.6,1073.5 L226.6,1073.5 L227.6,1073.5 L228.6,1073.5 L229.6,1073.5 L230.6,1073.5 L231.6,1073.5 L232.6,1073.5 L233.6,1073.5 L234.6,1073.5 L235.6,1073.5 L236.6,1073.5 L237.6,1073.5 L238.6,1073.5 L239.6,1073.5 L240.6,1073.5 L241.6,1073.5 L242.6,1073.5 L243.6,1073.5 L244.6,1073.5 L245.6,1073.5 L246.6,1073.5 L247.6,1073.5 L248.6,1073.5 L249.6,1073.5 L250.6,1073.5 L251.6,1073.5 L252.6,1073.5 L253.6,1073.5 L254.6,1073.5 L255.6,1073.5 L256.6,1073.5 L257.6,1073.5 L258.6,1073.5 L259.6,1073.5 L260.6,1073.5 L261.6,1073.5 L262.6,1073.5 L263.6,1073.5 L264.6,1073.5 L265.6,1073.5 L266.6,1073.5 L267.6,1073.5 L268.6,1073.5 L269.6,1073.5 L270.6,1073.5 L271.6,1073.5 L272.6,1073.5 L273.6,1073.5 L274.6,1073.5 L275.6,1073.5 L276.6,1073.5 L277.6,1073.5 L278.6,1073.5 L279.6,1073.5 L280.6,1073.5 L281.6,1073.5 L282.6,1073.5 L283.6,1073.5 L284.6,1073.5 L285.6,1073.5 L286.6,1073.5 L287.6,1073.5 L288.6,1073.5 L289.6,1073.5 L290.6,1073.5 L291.6,1073.5 L292.6,1073.5 L293.6,1073.5 L294.6,1073.5 L295.6,1073.5 L296.6,1073.5 L297.6,1073.5 L298.6,1073.5 L299.6,1073.5 L300.6,1073.5 L301.6,1073.5 L302.6,1073.3 L303.6,1073.0 L304.6,1072.5 L305.6,1072.0 L306.6,1071.5 L307.6,1070.8 L308.6,1070.3 L309.6,1069.7 L310.6,1069.2 L311.6,1068.9 L312.6,1068.6 L313.6,1068.5 L314.6,1068.5 L315.6,1068.7 L316.6,1069.0 L317.6,1069.5 L318.6,1070.0 L319.6,1070.5 L320.6,1071.2 L321.6,1071.7 L322.6,1072.3 L323.6,1072.8 L324.6,1073.1 L325.6,1073.4 L326.6,1073.5 L327.6,1073.5 L328.6,1073.5 L329.6,1073.5 L330.6,1073.5 L331.6,1073.5 L332.6,1073.5 L333.6,1073.5 L334.6,1073.5 L335.6,1073.5 L336.6,1073.5 L337.6,1073.5 L338.6,1073.5 L339.6,1073.5 L340.6,1073.5 L341.6,1073.5 L342.6,1073.5 L343.6,1073.5 L344.6,1073.5 L345.6,1073.5 L346.6,1073.5 L347.6,1073.5 L348.6,1073.5 L349.6,1073.5 L350.6,1073.5 L351.6,1073.5 L352.6,1073.5 L353.6,1073.5 L354.6,1073.5 L355.6,1073.5 L356.6,1073.5 L357.6,1073.5 L358.6,1073.3 L359.6,1073.1 L360.6,1072.8 L361.6,1072.4 L362.6,1071.9 L363.6,1071.4 L364.6,1071.0 L365.6,1070.5 L366.6,1070.1 L367.6,1069.8 L368.6,1069.6 L369.6,1069.5 L370.6,1069.5 L371.6,1069.7 L372.6,1069.9 L373.6,1070.2 L374.6,1070.6 L375.6,1071.1 L376.6,1071.6 L377.6,1072.0 L378.6,1072.5 L379.6,1072.9 L380.6,1073.2 L381.6,1073.4 L382.6,1073.5 L383.6,1073.5 L384.6,1073.5 L385.6,1073.5 L386.6,1073.5 L387.6,1073.5 L388.6,1073.5 L389.6,1073.5 L390.6,1073.5 L391.6,1073.5 L392.6,1073.5 L393.6,1073.5 L394.6,1073.5 L395.6,1073.5 L396.6,1073.5 L397.6,1073.5 L398.6,1073.5 L399.6,1073.5 L400.6,1073.5 L401.6,1073.5 L402.6,1073.5 L403.6,1073.5 L404.6,1073.5 L405.6,1073.5 L406.6,1073.5 L407.6,1073.5 L408.6,1073.5 L409.6,1073.5 L410.6,1073.5 L411.6,1073.5 L412.6,1073.5 L413.6,1073.5 L414.6,1073.5 L415.6,1073.5 L416.6,1073.5 L417.6,1073.5 L418.6,1073.5 L419.6,1073.5 L420.6,1073.5 L421.6,1073.5 L422.6,1073.5 L423.6,1073.5 L424.6,1073.5 L425.6,1073.5 L426.6,1073.5 L427.6,1073.5 L428.6,1073.5 L429.6,1073.5 L430.6,1073.5 L431.6,1073.5 L432.6,1073.5 L433.6,1073.5 L434.6,1073.5 L435.6,1073.5 L436.6,1073.2 L437.6,1072.5 L438.6,1071.6 L439.6,1070.8 L440.6,1070.5 L441.6,1070.7 L442.6,1071.3 L443.6,1072.2 L444.6,1073.0 L445.6,1073.5 L446.6,1073.5 L447.6,1073.5 L448.6,1073.5 L449.6,1073.5 L450.6,1073.5 L451.6,1073.5 L452.6,1073.5 L453.6,1070.1 L454.6,1062.0 L455.6,1052.2 L456.6,1040.6 L457.6,1027.1 L458.6,1011.9 L459.6,995.3 L460.6,977.6 L461.6,959.4 L462.6,941.4 L463.6,924.4 L464.6,909.1 L465.6,896.3 L466.6,886.7 L467.6,880.8 L468.6,878.9 L469.6,881.2 L470.6,887.5 L471.6,897.5 L472.6,910.5 L473.6,926.0 L474.6,943.2 L475.6,961.2 L476.6,979.4 L477.6,997.0 L478.6,1013.5 L479.6,1028.5 L480.6,1041.8 L481.6,1053.3 L482.6,1062.9 L483.6,1070.8 L484.6,1073.5 L485.6,1073.5 L486.6,1073.5 L487.6,1073.5 L488.6,1073.4 L489.6,1072.7 L490.6,1071.5 L491.6,1070.1 L492.6,1068.7 L493.6,1067.8 L494.6,1067.5 L495.6,1067.9 L496.6,1068.9 L497.6,1070.2 L498.6,1071.6 L499.6,1072.8 L500.6,1073.4 L501.6,1073.5 L502.6,1073.5 L503.6,1073.5 L504.6,1073.5 L505.6,1073.5 L506.6,1073.5 L507.6,1073.5 L508.6,1073.5 L509.6,1073.5 L510.6,1073.5 L511.6,1073.5 L512.5,1073.5 L513.5,1073.5 L514.5,1073.5 L515.5,1073.4 L516.5,1072.9 L517.5,1072.1 L518.5,1071.1 L519.5,1070.2 L520.5,1069.7 L521.5,1069.5 L522.5,1069.8 L523.5,1070.5 L524.5,1071.4 L525.5,1072.3 L526.5,1073.1 L527.5,1073.5 L528.5,1073.5 L529.5,1073.5 L530.5,1073.5 L531.5,1073.5 L532.5,1073.5 L533.5,1073.5 L534.5,1073.5 L535.5,1073.5 L536.5,1073.5 L537.5,1073.5 L538.5,1073.4 L539.5,1073.0 L540.5,1072.3 L541.5,1071.4 L542.5,1070.4 L543.5,1069.5 L544.5,1068.8 L545.5,1068.5 L546.5,1068.6 L547.5,1069.1 L548.5,1069.9 L549.5,1070.8 L550.5,1071.6 L551.5,1072.3 L552.5,1072.7 L553.5,1072.6 L554.5,1072.4 L555.5,1072.1 L556.5,1071.9 L557.5,1071.7 L558.5,1071.6 L559.5,1071.5 L560.5,1071.5 L561.5,1071.6 L562.5,1071.7 L563.5,1071.5 L564.5,1071.0 L565.5,1070.4 L566.5,1069.6 L567.5,1068.8 L568.5,1068.2 L569.5,1067.7 L570.5,1067.5 L571.5,1067.5 L572.5,1067.9 L573.5,1068.6 L574.5,1069.5 L575.5,1070.6 L576.5,1071.6 L577.5,1072.5 L578.5,1073.1 L579.5,1073.5 L580.5,1073.5 L581.5,1073.5 L582.5,1073.5 L583.5,1073.5 L584.5,1066.5 L585.5,1056.9 L586.5,1045.4 L587.5,1031.9 L588.5,1016.4 L589.5,999.2 L590.5,980.5 L591.5,960.9 L592.5,941.1 L593.5,921.8 L594.5,903.8 L595.5,888.1 L596.5,875.4 L597.5,866.5 L598.5,861.8 L599.5,861.6 L600.5,865.8 L601.5,874.4 L602.5,886.7 L603.5,902.1 L604.5,919.9 L605.5,939.1 L606.5,958.9 L607.5,978.6 L608.5,997.4 L609.5,1014.8 L610.5,1030.5 L611.5,1044.2 L612.5,1055.9 L613.5,1065.6 L614.5,1073.5 L615.5,1062.6 L616.5,1049.1 L617.5,1033.0 L618.5,1014.0 L619.5,992.3 L620.5,968.2 L621.5,942.2 L622.5,915.1 L623.5,887.7 L624.5,861.1 L625.5,836.5 L626.5,815.2 L627.5,798.2 L628.5,786.4 L629.5,780.4 L630.5,780.8 L631.5,787.3 L632.5,799.6 L633.5,817.2 L634.5,838.9 L635.5,863.7 L636.5,890.4 L637.5,917.8 L638.5,944.9 L639.5,970.7 L640.5,994.6 L641.5,1016.0 L642.5,1034.7 L643.5,1050.6 L644.5,1063.8 L645.5,1073.5 L646.5,1073.5 L647.5,1073.5 L648.5,1073.5 L649.5,1073.5 L650.5,1073.5 L651.5,1073.5 L652.5,1073.5 L653.5,1073.5 L654.5,1073.5 L655.5,1073.5 L656.5,1073.5 L657.5,1073.5 L658.5,1073.3 L659.5,1072.5 L660.5,1071.2 L661.5,1069.5 L662.5,1067.7 L663.5,1066.1 L664.5,1065.0 L665.5,1064.5 L666.5,1064.8 L667.5,1065.7 L668.5,1067.2 L669.5,1068.9 L670.5,1070.7 L671.5,1072.2 L672.5,1073.2 L673.5,1073.5 L674.5,1073.5 L675.5,1073.5 L676.5,1073.5 L677.5,1073.5 L678.5,1073.5 L679.5,1066.2 L680.5,1048.9 L681.3,1033.6" fill="none" stroke="#66c866" stroke-width="1" stroke-linejoin="round"/>
<path d="M71.5,1072.8 L72.5,1071.5 L73.5,1070.0 L74.5,1068.9 L75.5,1068.5 L76.5,1069.0 L77.5,1070.2 L78.5,1071.7 L79.5,1072.9 L80.5,1073.5 L81.5,1073.5 L82.5,1073.5 L83.5,1073.5 L84.5,1073.5 L85.5,1073.5 L86.5,1073.5 L87.5,1073.5 L88.5,1073.5 L89.5,1073.5 L90.5,1073.5 L91.5,1073.5 L92.5,1073.5 L93.5,1073.5 L94.5,1073.5 L95.5,1073.5 L96.5,1073.4 L97.5,1072.6 L98.5,1071.4 L99.5,1070.6 L100.5,1070.6 L101.5,1071.5 L102.5,1072.7 L103.5,1073.4 L104.5,1073.5 L105.5,1073.5 L106.5,1073.5 L107.5,1073.5 L108.5,1073.5 L109.5,1073.5 L110.5,1073.5 L111.5,1073.5 L112.5,1073.5 L113.5,1073.5 L114.5,1073.5 L115.5,1073.5 L116.5,1073.5 L117.5,1073.5 L118.5,1073.5 L119.5,1073.5 L120.5,1073.5 L121.5,1073.5 L122.5,1073.5 L123.5,1073.5 L124.5,1073.5 L125.5,1073.5 L126.5,1073.5 L127.5,1073.5 L128.6,1073.5 L129.6,1073.5 L130.6,1073.5 L131.6,1073.5 L132.6,1073.5 L133.6,1073.5 L134.6,1073.5 L135.6,1073.5 L136.6,1073.5 L137.6,1073.5 L138.6,1073.5 L139.6,1073.5 L140.6,1073.5 L141.6,1073.5 L142.6,1073.5 L143.6,1073.5 L144.6,1073.5 L145.6,1073.5 L146.6,1073.5 L147.6,1073.5 L148.6,1073.5 L149.6,1073.5 L150.6,1073.5 L151.6,1073.5 L152.6,1073.5 L153.6,1073.5 L154.6,1073.5 L155.6,1073.5 L156.6,1073.5 L157.6,1073.2 L158.6,1072.6 L159.6,1071.7 L160.6,1070.7 L161.6,1070.0 L162.6,1069.5 L163.6,1069.6 L164.6,1070.0 L165.6,1070.8 L166.6,1071.8 L167.6,1072.7 L168.6,1073.3 L169.6,1073.5 L170.6,1073.5 L171.6,1073.5 L172.6,1073.5 L173.6,1073.5 L174.6,1073.5 L175.6,1073.5 L176.6,1073.5 L177.6,1073.5 L178.6,1073.5 L179.6,1073.5 L180.6,1073.5 L181.6,1073.5 L182.6,1073.5 L183.6,1073.5 L184.6,1073.5 L185.6,1073.5 L186.6,1073.5 L187.6,1073.5 L188.6,1073.5 L189.6,1073.5 L190.6,1073.5 L191.6,1073.5 L192.6,1073.5 L193.6,1073.5 L194.6,1073.5 L195.6,1073.5 L196.6,1073.5 L197.6,1073.5 L198.6,1073.5 L199.6,1073.5 L200.6,1073.5 L201.6,1073.5 L202.6,1073.5 L203.6,1073.5 L204.6,1073.5 L205.6,1073.5 L206.6,1073.5 L207.6,1073.5 L208.6,1073.5 L209.6,1073.5 L210.6,1073.5 L211.6,1073.5 L212.6,1073.5 L213.6,1073.5 L214.6,1073.5 L215.6,1073.5 L216.6,1073.4 L217.6,1072.6 L218.6,1071.3 L219.6,1069.5 L220.6,1067.4 L221.6,1065.3 L222.6,1063.6 L223.6,1062.3 L224.6,1061.6 L225.6,1061.6 L226.6,1062.4 L227.6,1063.7 L228.6,1065.5 L229.6,1067.6 L230.6,1069.7 L231.6,1071.4 L232.6,1072.7 L233.6,1073.4 L234.6,1073.5 L235.6,1073.5 L236.6,1073.5 L237.6,1073.5 L238.6,1073.5 L239.6,1073.5 L240.6,1073.5 L241.6,1073.5 L242.6,1073.5 L243.6,1073.4 L244.6,1072.7 L245.6,1071.5 L246.6,1070.1 L247.6,1068.7 L248.6,1067.8 L249.6,1067.5 L250.6,1067.9 L251.6,1068.9 L252.6,1070.2 L253.6,1071.6 L254.6,1072.8 L255.6,1073.4 L256.6,1073.5 L257.6,1073.5 L258.6,1073.5 L259.6,1073.5 L260.6,1073.5 L261.6,1073.5 L262.6,1064.6 L263.6,1053.6 L264.6,1040.4 L265.6,1024.9 L266.6,1007.2 L267.6,987.5 L268.6,966.3 L269.6,944.1 L270.6,921.8 L271.6,900.1 L272.6,880.0 L273.6,862.6 L274.6,848.7 L275.6,839.0 L276.6,834.2 L277.6,834.5 L278.6,839.8 L279.6,849.9 L280.6,864.2 L281.6,881.9 L282.6,902.2 L283.6,924.0 L284.6,946.4 L285.6,968.5 L286.6,989.6 L287.6,1009.1 L288.6,1026.6 L289.6,1041.8 L290.6,1054.8 L291.6,1065.6 L292.6,1073.5 L293.6,1073.5 L294.6,1073.5 L295.6,1073.2 L296.6,1072.4 L297.6,1071.2 L298.6,1070.1 L299.6,1069.1 L300.6,1068.6 L301.6,1068.6 L302.6,1069.2 L303.6,1070.2 L304.6,1071.4 L305.6,1072.5 L306.6,1073.2 L307.6,1073.5 L308.6,1073.5 L309.6,1073.5 L310.6,1073.5 L311.6,1073.5 L312.6,1073.5 L313.6,1073.5 L314.6,1073.5 L315.6,1073.5 L316.6,1073.5 L317.6,1073.5 L318.6,1073.5 L319.6,1073.5 L320.6,1073.5 L321.6,1073.5 L322.6,1073.5 L323.6,1073.5 L324.6,1073.5 L325.6,1073.5 L326.6,1073.5 L327.6,1073.5 L328.6,1073.5 L329.6,1073.5 L330.6,1073.5 L331.6,1073.5 L332.6,1073.5 L333.6,1073.5 L334.6,1073.5 L335.6,1073.5 L336.6,1073.5 L337.6,1073.5 L338.6,1073.5 L339.6,1073.5 L340.6,1073.5 L341.6,1073.5 L342.6,1073.5 L343.6,1073.5 L344.6,1073.5 L345.6,1073.5 L346.6,1073.5 L347.6,1073.5 L348.6,1073.5 L349.6,1073.5 L350.6,1073.5 L351.6,1073.5 L352.6,1073.5 L353.6,1073.5 L354.6,1073.5 L355.6,1073.5 L356.6,1073.5 L357.6,1073.5 L358.6,1073.5 L359.6,1073.5 L360.6,1073.5 L361.6,1073.5 L362.6,1073.5 L363.6,1073.5 L364.6,1073.5 L365.6,1073.5 L366.6,1073.5 L367.6,1073.5 L368.6,1073.5 L369.6,1073.5 L370.6,1073.5 L371.6,1073.5 L372.6,1073.5 L373.6,1073.5 L374.6,1073.5 L375.6,1073.5 L376.6,1073.3 L377.6,1072.5 L378.6,1071.3 L379.6,1070.2 L380.6,1069.6 L381.6,1069.6 L382.6,1070.3 L383.6,1071.4 L384.6,1072.6 L385.6,1073.3 L386.6,1073.5 L387.6,1073.5 L388.6,1073.5 L389.6,1073.5 L390.6,1073.5 L391.6,1073.5 L392.6,1073.5 L393.6,1073.5 L394.6,1073.5 L395.6,1073.5 L396.6,1073.5 L397.6,1073.5 L398.6,1073.5 L399.6,1073.5 L400.6,1073.5 L401.6,1073.5 L402.6,1073.5 L403.6,1073.5 L404.6,1073.4 L405.6,1072.6 L406.6,1071.4 L407.6,1069.9 L408.6,1068.6 L409.6,1067.7 L410.6,1067.5 L411.6,1068.0 L412.6,1069.0 L413.6,1070.4 L414.6,1071.8 L415.6,1072.9 L416.6,1073.5 L417.6,1073.5 L418.6,1073.5 L419.6,1073.5 L420.6,1073.5 L421.6,1073.5 L422.6,1073.5 L423.6,1068.5 L424.6,1059.9 L425.6,1049.4 L426.6,1036.5 L427.6,1021.4 L428.6,1004.4 L429.6,986.1 L430.6,967.1 L431.6,948.4 L432.6,930.5 L433.6,914.3 L434.6,900.3 L435.6,889.0 L436.6,880.8 L437.6,876.1 L438.6,875.0 L439.6,878.2 L440.6,885.4 L441.6,896.3 L442.6,910.2 L443.6,926.4 L444.6,944.2 L445.6,962.7 L446.6,981.1 L447.6,998.9 L448.6,1015.5 L449.6,1030.5 L450.6,1043.7 L451.6,1055.0 L452.6,1064.4 L453.6,1072.1 L454.6,1073.5 L455.6,1073.5 L456.6,1073.5 L457.6,1073.1 L458.6,1072.1 L459.6,1070.8 L460.6,1069.4 L461.6,1068.2 L462.6,1067.6 L463.6,1067.6 L464.6,1068.3 L465.6,1069.5 L466.6,1070.9 L467.6,1072.2 L468.6,1072.5 L469.6,1071.8 L470.6,1070.6 L471.6,1069.5 L472.6,1068.8 L473.6,1068.5 L474.6,1068.8 L475.6,1069.6 L476.6,1070.8 L477.6,1071.9 L478.6,1072.9 L479.6,1073.4 L480.6,1073.5 L481.6,1073.5 L482.6,1073.5 L483.6,1073.5 L484.6,1073.5 L485.6,1073.5 L486.6,1073.5 L487.6,1073.5 L488.6,1073.5 L489.6,1073.5 L490.6,1073.5 L491.6,1073.5 L492.6,1073.5 L493.6,1073.5 L494.6,1073.5 L495.6,1073.5 L496.6,1073.5 L497.6,1073.5 L498.6,1073.5 L499.6,1073.5 L500.6,1073.5 L501.6,1073.5 L502.6,1073.5 L503.6,1073.5 L504.6,1073.5 L505.6,1073.5 L506.6,1073.5 L507.6,1073.5 L508.6,1073.5 L509.6,1073.5 L510.6,1073.5 L511.6,1073.5 L512.5,1073.5 L513.5,1073.5 L514.5,1073.5 L515.5,1073.5 L516.5,1073.5 L517.5,1073.5 L518.5,1073.5 L519.5,1073.5 L520.5,1073.5 L521.5,1073.5 L522.5,1073.5 L523.5,1073.5 L524.5,1073.5 L525.5,1073.5 L526.5,1073.5 L527.5,1073.5 L528.5,1073.5 L529.5,1073.5 L530.5,1073.5 L531.5,1073.5 L532.5,1073.5 L533.5,1073.5 L534.5,1073.5 L535.5,1073.5 L536.5,1073.5 L537.5,1073.5 L538.5,1073.5 L539.5,1073.5 L540.5,1073.5 L541.5,1073.5 L542.5,1073.5 L543.5,1073.5 L544.5,1073.5 L545.5,1073.5 L546.5,1073.5 L547.5,1073.5 L548.5,1073.5 L549.5,1073.5 L550.5,1073.5 L551.5,1073.5 L552.5,1073.5 L553.5,1073.5 L554.5,1073.5 L555.5,1073.5 L556.5,1073.5 L557.5,1073.5 L558.5,1073.5 L559.5,1073.5 L560.5,1073.5 L561.5,1073.5 L562.5,1073.5 L563.5,1073.5 L564.5,1073.5 L565.5,1073.5 L566.5,1073.5 L567.5,1073.5 L568.5,1073.5 L569.5,1073.5 L570.5,1073.5 L571.5,1073.5 L572.5,1073.5 L573.5,1073.5 L574.5,1073.5 L575.5,1073.5 L576.5,1073.5 L577.5,1073.5 L578.5,1073.5 L579.5,1073.5 L580.5,1073.5 L581.5,1073.5 L582.5,1073.5 L583.5,1073.5 L584.5,1073.5 L585.5,1073.5 L586.5,1073.5 L587.5,1073.5 L588.5,1073.5 L589.5,1073.5 L590.5,1073.5 L591.5,1073.5 L592.5,1073.5 L593.5,1073.5 L594.5,1073.5 L595.5,1073.5 L596.5,1073.5 L597.5,1073.5 L598.5,1073.5 L599.5,1073.5 L600.5,1073.5 L601.5,1073.5 L602.5,1073.5 L603.5,1073.5 L604.5,1073.5 L605.5,1073.5 L606.5,1073.5 L607.5,1073.5 L608.5,1073.5 L609.5,1073.5 L610.5,1073.5 L611.5,1073.5 L612.5,1073.5 L613.5,1073.5 L614.5,1073.5 L615.5,1073.5 L616.5,1073.5 L617.5,1073.5 L618.5,1073.5 L619.5,1073.5 L620.5,1073.5 L621.5,1073.5 L622.5,1073.5 L623.5,1073.5 L624.5,1073.5 L625.5,1073.5 L626.5,1073.5 L627.5,1073.5 L628.5,1073.5 L629.5,1073.5 L630.5,1073.5 L631.5,1073.5 L632.5,1073.5 L633.5,1073.5 L634.5,1073.5 L635.5,1073.5 L636.5,1073.5 L637.5,1073.5 L638.5,1073.5 L639.5,1073.5 L640.5,1073.5 L641.5,1073.5 L642.5,1073.5 L643.5,1073.5 L644.5,1073.5 L645.5,1073.5 L646.5,1073.5 L647.5,1073.5 L648.5,1073.5 L649.5,1073.5 L650.5,1073.5 L651.5,1073.5 L652.5,1073.5 L653.5,1073.5 L654.5,1073.5 L655.5,1073.5 L656.5,1073.5 L657.5,1073.5 L658.5,1073.5 L659.5,1073.5 L660.5,1073.5 L661.5,1073.5 L662.5,1073.5 L663.5,1073.5 L664.5,1073.5 L665.5,1073.5 L666.5,1073.5 L667.5,1073.5 L668.5,1073.5 L669.5,1073.5 L670.5,1073.5 L671.5,1073.5 L672.5,1073.5 L673.5,1073.5 L674.5,1073.5 L675.5,1073.5 L676.5,1073.5 L677.5,1073.5 L678.5,1073.5 L679.5,1073.5 L680.5,1073.5 L681.3,1073.5" fill="none" stroke="#585898" stroke-width="1" stroke-linejoin="round"/>
<path d="M71.5,1020.2 L72.5,1003.1 L73.5,984.4 L74.5,964.6 L75.5,944.4 L76.5,924.4 L77.5,905.6 L78.5,888.8 L79.5,874.9 L80.5,864.5 L81.5,858.4 L82.5,856.8 L83.5,859.8 L84.5,867.2 L85.5,878.7 L86.5,893.6 L87.5,911.1 L88.5,930.3 L89.5,950.5 L90.5,970.7 L91.5,990.2 L92.5,1008.4 L93.5,1025.0 L94.5,1039.6 L95.5,1052.1 L96.5,1062.7 L97.5,1071.3 L98.5,1073.5 L99.5,1073.5 L100.5,1073.5 L101.5,1073.5 L102.5,1073.3 L103.5,1072.6 L104.5,1071.5 L105.5,1070.3 L106.5,1069.3 L107.5,1068.6 L108.5,1068.5 L109.5,1069.0 L110.5,1069.9 L111.5,1071.1 L112.5,1072.3 L113.5,1073.1 L114.5,1073.5 L115.5,1073.5 L116.5,1073.5 L117.5,1073.5 L118.5,1073.5 L119.5,1073.5 L120.5,1073.5 L121.5,1073.5 L122.5,1073.5 L123.5,1073.5 L124.5,1073.5 L125.5,1073.5 L126.5,1073.5 L127.5,1073.5 L128.6,1073.5 L129.6,1073.5 L130.6,1073.5 L131.6,1073.5 L132.6,1073.5 L133.6,1073.5 L134.6,1073.5 L135.6,1073.5 L136.6,1073.5 L137.6,1073.5 L138.6,1073.5 L139.6,1073.5 L140.6,1073.5 L141.6,1073.5 L142.6,1073.5 L143.6,1073.5 L144.6,1073.5 L145.6,1073.5 L146.6,1073.5 L147.6,1073.5 L148.6,1073.5 L149.6,1073.5 L150.6,1073.5 L151.6,1073.5 L152.6,1073.5 L153.6,1073.5 L154.6,1073.5 L155.6,1073.5 L156.6,1073.5 L157.6,1073.5 L158.6,1073.5 L159.6,1073.5 L160.6,1073.5 L161.6,1073.5 L162.6,1073.5 L163.6,1073.5 L164.6,1073.5 L165.6,1073.5 L166.6,1073.5 L167.6,1073.5 L168.6,1073.5 L169.6,1073.5 L170.6,1073.5 L171.6,1073.5 L172.6,1073.5 L173.6,1073.5 L174.6,1073.5 L175.6,1073.5 L176.6,1073.5 L177.6,1073.5 L178.6,1073.5 L179.6,1073.5 L180.6,1073.4 L181.6,1073.0 L182.6,1072.2 L183.6,1071.2 L184.6,1070.3 L185.6,1069.7 L186.6,1069.5 L187.6,1069.8 L188.6,1070.4 L189.6,1071.3 L190.6,1072.3 L191.6,1073.0 L192.6,1073.5 L193.6,1073.5 L194.6,1073.5 L195.6,1073.5 L196.6,1073.5 L197.6,1072.5 L198.6,1067.6 L199.6,1061.5 L200.6,1054.2 L201.6,1045.7 L202.6,1036.1 L203.6,1025.4 L204.6,1014.1 L205.6,1002.6 L206.6,991.2 L207.6,980.7 L208.6,971.5 L209.6,964.2 L210.6,959.2 L211.6,956.9 L212.6,957.3 L213.6,960.5 L214.6,966.2 L215.6,974.1 L216.6,983.8 L217.6,994.6 L218.6,1006.0 L219.6,1017.6 L220.6,1028.7 L221.6,1039.1 L222.6,1048.4 L223.6,1056.6 L224.6,1063.5 L225.6,1069.2 L226.6,1073.5 L227.6,1073.5 L228.6,1073.5 L229.6,1073.5 L230.6,1073.5 L231.6,1073.5 L232.6,1073.5 L233.6,1073.5 L234.6,1073.3 L235.6,1072.7 L236.6,1071.9 L237.6,1071.0 L238.6,1070.6 L239.6,1070.6 L240.6,1071.1 L241.6,1072.0 L242.6,1072.8 L243.6,1073.4 L244.6,1073.5 L245.6,1073.5 L246.6,1073.5 L247.6,1073.5 L248.6,1073.5 L249.6,1073.5 L250.6,1073.5 L251.6,1073.5 L252.6,1073.5 L253.6,1073.5 L254.6,1073.5 L255.6,1073.5 L256.6,1073.5 L257.6,1073.5 L258.6,1073.5 L259.6,1073.5 L260.6,1073.5 L261.6,1073.5 L262.6,1073.5 L263.6,1073.5 L264.6,1073.5 L265.6,1073.5 L266.6,1073.5 L267.6,1073.5 L268.6,1073.5 L269.6,1073.5 L270.6,1073.5 L271.6,1073.5 L272.6,1073.5 L273.6,1073.5 L274.6,1073.5 L275.6,1073.2 L276.6,1072.4 L277.6,1071.2 L278.6,1070.1 L279.6,1069.1 L280.6,1068.6 L281.6,1068.6 L282.6,1069.2 L283.6,1070.2 L284.6,1071.4 L285.6,1072.5 L286.6,1073.2 L287.6,1073.5 L288.6,1073.5 L289.6,1073.5 L290.6,1073.5 L291.6,1073.5 L292.6,1073.5 L293.6,1073.5 L294.6,1067.0 L295.6,1055.7 L296.6,1042.2 L297.6,1026.1 L298.6,1007.6 L299.6,986.9 L300.6,964.3 L301.6,940.5 L302.6,916.2 L303.6,892.4 L304.6,870.0 L305.6,850.1 L306.6,833.8 L307.6,821.9 L308.6,815.1 L309.6,813.7 L310.6,817.8 L311.6,827.3 L312.6,841.5 L313.6,859.7 L314.6,880.9 L315.6,904.2 L316.6,928.4 L317.6,952.5 L318.6,975.8 L319.6,997.5 L320.6,1017.2 L321.6,1034.4 L322.6,1049.3 L323.6,1061.6 L324.6,1071.7 L325.6,1073.5 L326.6,1067.9 L327.6,1056.9 L328.6,1043.4 L329.6,1027.5 L330.6,1009.2 L331.6,988.5 L332.6,966.0 L333.6,942.1 L334.6,917.7 L335.6,893.6 L336.6,870.9 L337.6,850.6 L338.6,833.8 L339.6,821.3 L340.6,813.9 L341.6,812.0 L342.6,815.6 L343.6,824.6 L344.6,838.4 L345.6,856.4 L346.6,877.5 L347.6,900.7 L348.6,925.0 L349.6,949.4 L350.6,972.9 L351.6,995.0 L352.6,1014.9 L353.6,1032.6 L354.6,1047.7 L355.6,1060.4 L356.6,1070.8 L357.6,1073.5 L358.6,1073.5 L359.6,1070.7 L360.6,1060.0 L361.6,1046.9 L362.6,1031.2 L363.6,1012.9 L364.6,992.3 L365.6,969.5 L366.6,945.2 L367.6,920.0 L368.6,894.9 L369.6,870.8 L370.6,849.0 L371.6,830.4 L372.6,816.1 L373.6,806.8 L374.6,803.1 L375.6,805.1 L376.6,812.8 L377.6,825.6 L378.6,843.0 L379.6,864.0 L380.6,887.5 L381.6,912.4 L382.6,937.7 L383.6,962.4 L384.6,985.7 L385.6,1007.0 L386.6,1026.0 L387.6,1042.4 L388.6,1056.3 L389.6,1067.7 L390.6,1073.5 L391.6,1073.5 L392.6,1073.5 L393.6,1073.5 L394.6,1073.0 L395.6,1071.8 L396.6,1070.2 L397.6,1068.5 L398.6,1067.2 L399.6,1066.5 L400.6,1066.7 L401.6,1067.6 L402.6,1069.0 L403.6,1070.7 L404.6,1072.2 L405.6,1073.2 L406.6,1073.5 L407.6,1073.5 L408.6,1073.5 L409.6,1073.5 L410.6,1073.5 L411.6,1073.5 L412.6,1073.5 L413.6,1073.5 L414.6,1073.5 L415.6,1073.5 L416.6,1073.5 L417.6,1073.5 L418.6,1073.5 L419.6,1073.5 L420.6,1073.5 L421.6,1073.5 L422.6,1073.5 L423.6,1073.5 L424.6,1073.5 L425.6,1073.5 L426.6,1073.5 L427.6,1073.5 L428.6,1073.5 L429.6,1073.5 L430.6,1073.5 L431.6,1073.5 L432.6,1073.5 L433.6,1073.5 L434.6,1073.5 L435.6,1073.5 L436.6,1073.5 L437.6,1073.5 L438.6,1073.5 L439.6,1073.5 L440.6,1073.5 L441.6,1073.5 L442.6,1073.2 L443.6,1072.4 L444.6,1071.5 L445.6,1070.8 L446.6,1070.5 L447.6,1070.7 L448.6,1071.4 L449.6,1072.3 L450.6,1073.1 L451.6,1073.5 L452.6,1073.5 L453.6,1073.5 L454.6,1073.5 L455.6,1073.5 L456.6,1073.5 L457.6,1073.5 L458.6,1073.5 L459.6,1073.5 L460.6,1073.5 L461.6,1073.5 L462.6,1073.5 L463.6,1073.5 L464.6,1073.5 L465.6,1073.5 L466.6,1073.5 L467.6,1073.5 L468.6,1073.5 L469.6,1073.5 L470.6,1073.5 L471.6,1073.5 L472.6,1073.5 L473.6,1073.5 L474.6,1073.5 L475.6,1073.5 L476.6,1073.5 L477.6,1073.5 L478.6,1073.5 L479.6,1073.5 L480.6,1073.5 L481.6,1073.5 L482.6,1073.5 L483.6,1073.5 L484.6,1073.5 L485.6,1073.5 L486.6,1073.5 L487.6,1073.5 L488.6,1073.5 L489.6,1073.5 L490.6,1073.5 L491.6,1073.5 L492.6,1073.5 L493.6,1073.5 L494.6,1073.5 L495.6,1073.5 L496.6,1073.5 L497.6,1073.5 L498.6,1073.5 L499.6,1073.5 L500.6,1073.5 L501.6,1073.5 L502.6,1073.5 L503.6,1073.5 L504.6,1073.5 L505.6,1073.5 L506.6,1073.5 L507.6,1073.5 L508.6,1073.5 L509.6,1073.5 L510.6,1073.5 L511.6,1073.5 L512.5,1073.5 L513.5,1073.5 L514.5,1073.5 L515.5,1073.5 L516.5,1073.5 L517.5,1073.5 L518.5,1073.5 L519.5,1073.5 L520.5,1073.5 L521.5,1073.5 L522.5,1073.5 L523.5,1073.5 L524.5,1073.5 L525.5,1073.5 L526.5,1073.5 L527.5,1073.5 L528.5,1073.5 L529.5,1073.4 L530.5,1073.0 L531.5,1072.4 L532.5,1071.7 L533.5,1071.1 L534.5,1070.6 L535.5,1070.5 L536.5,1070.7 L537.5,1071.2 L538.5,1071.9 L539.5,1072.6 L540.5,1073.2 L541.5,1073.5 L542.5,1073.5 L543.5,1073.5 L544.5,1073.5 L545.5,1073.5 L546.5,1073.5 L547.5,1073.5 L548.5,1073.5 L549.5,1073.5 L550.5,1073.5 L551.5,1073.5 L552.5,1073.0 L553.5,1069.6 L554.5,1065.5 L555.5,1060.5 L556.5,1054.7 L557.5,1048.1 L558.5,1040.8 L559.5,1033.0 L560.5,1025.0 L561.5,1016.9 L562.5,1009.3 L563.5,1002.5 L564.5,996.8 L565.5,992.6 L566.5,990.1 L567.5,989.4 L568.5,990.7 L569.5,993.7 L570.5,998.4 L571.5,1004.5 L572.5,1011.6 L573.5,1019.3 L574.5,1027.4 L575.5,1035.4 L576.5,1043.1 L577.5,1050.2 L578.5,1056.6 L579.5,1062.1 L580.5,1066.8 L581.5,1070.7 L582.5,1073.5 L583.5,1073.5 L584.5,1073.5 L585.5,1073.5 L586.5,1073.5 L587.5,1073.5 L588.5,1073.3 L589.5,1072.9 L590.5,1072.3 L591.5,1071.7 L592.5,1071.2 L593.5,1070.7 L594.5,1070.5 L595.5,1070.5 L596.5,1070.8 L597.5,1071.2 L598.5,1071.8 L599.5,1072.4 L600.5,1072.9 L601.5,1073.3 L602.5,1073.5 L603.5,1073.5 L604.5,1073.5 L605.5,1073.5 L606.5,1073.5 L607.5,1073.5 L608.5,1073.5 L609.5,1073.5 L610.5,1073.5 L611.5,1073.4 L612.5,1073.1 L613.5,1072.5 L614.5,1071.8 L615.5,1070.9 L616.5,1070.1 L617.5,1069.3 L618.5,1068.8 L619.5,1068.5 L620.5,1068.5 L621.5,1068.8 L622.5,1069.4 L623.5,1070.2 L624.5,1071.0 L625.5,1071.8 L626.5,1072.6 L627.5,1073.2 L628.5,1073.5 L629.5,1073.5 L630.5,1073.5 L631.5,1073.5 L632.5,1073.5 L633.5,1073.5 L634.5,1073.2 L635.5,1072.7 L636.5,1071.9 L637.5,1071.1 L638.5,1070.4 L639.5,1069.8 L640.5,1069.5 L641.5,1069.5 L642.5,1069.9 L643.5,1070.5 L644.5,1071.2 L645.5,1072.0 L646.5,1072.7 L647.5,1073.3 L648.5,1073.5 L649.5,1073.5 L650.5,1073.5 L651.5,1073.5 L652.5,1073.5 L653.5,1073.5 L654.5,1073.5 L655.5,1073.5 L656.5,1073.5 L657.5,1073.5 L658.5,1073.5 L659.5,1073.5 L660.5,1073.2 L661.5,1072.6 L662.5,1071.9 L663.5,1071.2 L664.5,1070.7 L665.5,1070.5 L666.5,1070.6 L667.5,1071.1 L668.5,1071.7 L669.5,1072.4 L670.5,1073.0 L671.5,1073.4 L672.5,1073.5 L673.5,1073.5 L674.5,1073.5 L675.5,1073.5 L676.5,1073.5 L677.5,1073.5 L678.5,1073.5 L679.5,1073.5 L680.5,1073.5 L681.3,1073.5" fill="none" stroke="#b86262" stroke-width="1" stroke-linejoin="round"/>
</g>
<rect x="74.14999999999999" y="1088.0" width="604.65" height="9.099999999999909" fill="#ececec"/>
<rect x="658" y="1088.0" width="20.799999999999955" height="9.099999999999909" fill="#c8c8c8"/>
<rect x="73.55" y="1097.6999999999998" width="605.25" height="1" fill="#a4a4a4"/>
<text x="77.55" y="1095.3" font-size="9" fill="#333" stroke="#333" stroke-width="0.3">&lt;</text>
<rect x="44.3" y="1102.1" width="634.5" height="1.6" fill="#3d5f6e"/>
<rect x="203.8" y="587" width="21.799999999999983" height="490.9000000000001" fill="none" stroke="#f3e51f" stroke-width="2.2"/>
<rect x="559.2" y="587" width="15.599999999999909" height="501" fill="none" stroke="#f3e51f" stroke-width="2.2"/>
<rect x="563.8" y="592" width="1.1" height="11.5" fill="#222"/>
<rect x="560.3" y="602.9" width="13.400000000000091" height="1.2" fill="#333"/>
<text x="0" y="0" transform="translate(219.4,904.6) rotate(-90)" font-size="11.6" textLength="152.6" lengthAdjust="spacingAndGlyphs" fill="#e2204e" stroke="#e2204e" stroke-width="0.5">EXT1:NM_000127.3:c.1047G&gt;T</text>
<text x="0" y="0" transform="translate(570.7,904) rotate(-90)" font-size="11.6" textLength="166.0" lengthAdjust="spacingAndGlyphs" fill="#e2204e" stroke="#e2204e" stroke-width="0.5">EXT1:NM_000127.3:c.1056+2T&gt;G</text>
<path d="M28.3,583.1 Q35.1,596.45 28.3,609.8 L25.6,609.8 Q30.8,596.45 25.6,583.1 Z" fill="#000"/>
<rect x="8.7" y="583.3" width="3.3" height="21.1" fill="#000"/>
<path fill-rule="evenodd" fill="#000" d="M9.2,596.85 A6.75,7.85 0 1 0 22.7,596.85 A6.75,7.85 0 1 0 9.2,596.85 Z M12,596.85 A3.3,5.25 0 1 0 18.6,596.85 A3.3,5.25 0 1 0 12,596.85 Z"/>
<rect x="45.5" y="553" width="635.5" height="10.299999999999955" fill="#fff"/>
<rect x="49.5" y="1117" width="1" height="541" fill="#d8d8d8"/>
<rect x="50.5" y="1116.1" width="629.5" height="14.5" fill="#ededed"/>
<rect x="50.5" y="1117.5" width="46.7" height="13.099999999999909" fill="#eeeeee" stroke="#dadada" stroke-width="0.8"/>
<text x="54.1" y="1126.4" font-size="9" textLength="40" lengthAdjust="spacingAndGlyphs" fill="#202020" stroke="#202020" stroke-width="0.12">Annotation</text>
<rect x="97.2" y="1117.5" width="46.3" height="13.099999999999909" fill="#eeeeee" stroke="#dadada" stroke-width="0.8"/>
<text x="101.4" y="1126.4" font-size="9" textLength="38.2" lengthAdjust="spacingAndGlyphs" fill="#202020" stroke="#202020" stroke-width="0.12">Sequence</text>
<rect x="143.5" y="1117.5" width="40.0" height="13.099999999999909" fill="#eeeeee" stroke="#dadada" stroke-width="0.8"/>
<text x="147.5" y="1126.4" font-size="9" textLength="32.5" lengthAdjust="spacingAndGlyphs" fill="#202020" stroke="#202020" stroke-width="0.12">Features</text>
<rect x="183.5" y="1116" width="75.60000000000002" height="15.599999999999909" fill="#ffffff" stroke="#d0d0d0" stroke-width="0.8"/>
<text x="188.6" y="1125.4" font-size="9" textLength="67" lengthAdjust="spacingAndGlyphs" fill="#202020" stroke="#202020" stroke-width="0.12">Electropherogram</text>
<rect x="259.1" y="1117.5" width="22.899999999999977" height="13.099999999999909" fill="#eeeeee" stroke="#dadada" stroke-width="0.8"/>
<text x="263.8" y="1126.4" font-size="9" textLength="16.4" lengthAdjust="spacingAndGlyphs" fill="#202020" stroke="#202020" stroke-width="0.12">Raw</text>
<rect x="77.15" y="1132.0" width="602.85" height="1.7" fill="#cccccc"/>
<rect x="77.15" y="1132.0" width="1.7" height="538.0000000000001" fill="#cccccc"/>
<text x="53.6" y="1182.8" font-size="8.5" textLength="18.60" lengthAdjust="spacingAndGlyphs" fill="#1a1a1a" stroke="#1a1a1a" stroke-width="0.08">1656</text>
<text x="53.6" y="1192.9" font-size="8.5" textLength="18.60" lengthAdjust="spacingAndGlyphs" fill="#1a1a1a" stroke="#1a1a1a" stroke-width="0.08">1620</text>
<text x="53.6" y="1203.0" font-size="8.5" textLength="18.60" lengthAdjust="spacingAndGlyphs" fill="#1a1a1a" stroke="#1a1a1a" stroke-width="0.08">1584</text>
<text x="53.6" y="1213.1" font-size="8.5" textLength="18.60" lengthAdjust="spacingAndGlyphs" fill="#1a1a1a" stroke="#1a1a1a" stroke-width="0.08">1548</text>
<text x="53.6" y="1223.2" font-size="8.5" textLength="18.60" lengthAdjust="spacingAndGlyphs" fill="#1a1a1a" stroke="#1a1a1a" stroke-width="0.08">1512</text>
<text x="53.6" y="1233.3" font-size="8.5" textLength="18.60" lengthAdjust="spacingAndGlyphs" fill="#1a1a1a" stroke="#1a1a1a" stroke-width="0.08">1476</text>
<text x="53.6" y="1243.4" font-size="8.5" textLength="18.60" lengthAdjust="spacingAndGlyphs" fill="#1a1a1a" stroke="#1a1a1a" stroke-width="0.08">1440</text>
<text x="53.6" y="1253.5" font-size="8.5" textLength="18.60" lengthAdjust="spacingAndGlyphs" fill="#1a1a1a" stroke="#1a1a1a" stroke-width="0.08">1404</text>
<text x="53.6" y="1263.7" font-size="8.5" textLength="18.60" lengthAdjust="spacingAndGlyphs" fill="#1a1a1a" stroke="#1a1a1a" stroke-width="0.08">1368</text>
<text x="53.6" y="1273.8" font-size="8.5" textLength="18.60" lengthAdjust="spacingAndGlyphs" fill="#1a1a1a" stroke="#1a1a1a" stroke-width="0.08">1332</text>
<text x="53.6" y="1283.9" font-size="8.5" textLength="18.60" lengthAdjust="spacingAndGlyphs" fill="#1a1a1a" stroke="#1a1a1a" stroke-width="0.08">1296</text>
<text x="53.6" y="1294.0" font-size="8.5" textLength="18.60" lengthAdjust="spacingAndGlyphs" fill="#1a1a1a" stroke="#1a1a1a" stroke-width="0.08">1260</text>
<text x="53.6" y="1304.1" font-size="8.5" textLength="18.60" lengthAdjust="spacingAndGlyphs" fill="#1a1a1a" stroke="#1a1a1a" stroke-width="0.08">1224</text>
<text x="53.6" y="1314.2" font-size="8.5" textLength="18.60" lengthAdjust="spacingAndGlyphs" fill="#1a1a1a" stroke="#1a1a1a" stroke-width="0.08">1188</text>
<text x="53.6" y="1324.3" font-size="8.5" textLength="18.60" lengthAdjust="spacingAndGlyphs" fill="#1a1a1a" stroke="#1a1a1a" stroke-width="0.08">1152</text>
<text x="53.6" y="1334.4" font-size="8.5" textLength="18.60" lengthAdjust="spacingAndGlyphs" fill="#1a1a1a" stroke="#1a1a1a" stroke-width="0.08">1116</text>
<text x="53.6" y="1344.5" font-size="8.5" textLength="18.60" lengthAdjust="spacingAndGlyphs" fill="#1a1a1a" stroke="#1a1a1a" stroke-width="0.08">1080</text>
<text x="53.6" y="1354.6" font-size="8.5" textLength="18.60" lengthAdjust="spacingAndGlyphs" fill="#1a1a1a" stroke="#1a1a1a" stroke-width="0.08">1044</text>
<text x="53.6" y="1364.7" font-size="8.5" textLength="18.60" lengthAdjust="spacingAndGlyphs" fill="#1a1a1a" stroke="#1a1a1a" stroke-width="0.08">1008</text>
<text x="53.6" y="1374.8" font-size="8.5" textLength="13.95" lengthAdjust="spacingAndGlyphs" fill="#1a1a1a" stroke="#1a1a1a" stroke-width="0.08">972</text>
<text x="53.6" y="1384.9" font-size="8.5" textLength="13.95" lengthAdjust="spacingAndGlyphs" fill="#1a1a1a" stroke="#1a1a1a" stroke-width="0.08">936</text>
<text x="53.6" y="1395.0" font-size="8.5" textLength="13.95" lengthAdjust="spacingAndGlyphs" fill="#1a1a1a" stroke="#1a1a1a" stroke-width="0.08">900</text>
<text x="53.6" y="1405.2" font-size="8.5" textLength="13.95" lengthAdjust="spacingAndGlyphs" fill="#1a1a1a" stroke="#1a1a1a" stroke-width="0.08">864</text>
<text x="53.6" y="1415.3" font-size="8.5" textLength="13.95" lengthAdjust="spacingAndGlyphs" fill="#1a1a1a" stroke="#1a1a1a" stroke-width="0.08">828</text>
<text x="53.6" y="1425.4" font-size="8.5" textLength="13.95" lengthAdjust="spacingAndGlyphs" fill="#1a1a1a" stroke="#1a1a1a" stroke-width="0.08">792</text>
<text x="53.6" y="1435.5" font-size="8.5" textLength="13.95" lengthAdjust="spacingAndGlyphs" fill="#1a1a1a" stroke="#1a1a1a" stroke-width="0.08">756</text>
<text x="53.6" y="1445.6" font-size="8.5" textLength="13.95" lengthAdjust="spacingAndGlyphs" fill="#1a1a1a" stroke="#1a1a1a" stroke-width="0.08">720</text>
<text x="53.6" y="1455.7" font-size="8.5" textLength="13.95" lengthAdjust="spacingAndGlyphs" fill="#1a1a1a" stroke="#1a1a1a" stroke-width="0.08">684</text>
<text x="53.6" y="1465.8" font-size="8.5" textLength="13.95" lengthAdjust="spacingAndGlyphs" fill="#1a1a1a" stroke="#1a1a1a" stroke-width="0.08">648</text>
<text x="53.6" y="1475.9" font-size="8.5" textLength="13.95" lengthAdjust="spacingAndGlyphs" fill="#1a1a1a" stroke="#1a1a1a" stroke-width="0.08">612</text>
<text x="53.6" y="1486.0" font-size="8.5" textLength="13.95" lengthAdjust="spacingAndGlyphs" fill="#1a1a1a" stroke="#1a1a1a" stroke-width="0.08">576</text>
<text x="53.6" y="1496.1" font-size="8.5" textLength="13.95" lengthAdjust="spacingAndGlyphs" fill="#1a1a1a" stroke="#1a1a1a" stroke-width="0.08">540</text>
<text x="53.6" y="1506.2" font-size="8.5" textLength="13.95" lengthAdjust="spacingAndGlyphs" fill="#1a1a1a" stroke="#1a1a1a" stroke-width="0.08">504</text>
<text x="53.6" y="1516.3" font-size="8.5" textLength="13.95" lengthAdjust="spacingAndGlyphs" fill="#1a1a1a" stroke="#1a1a1a" stroke-width="0.08">468</text>
<text x="53.6" y="1526.4" font-size="8.5" textLength="13.95" lengthAdjust="spacingAndGlyphs" fill="#1a1a1a" stroke="#1a1a1a" stroke-width="0.08">432</text>
<text x="53.6" y="1536.5" font-size="8.5" textLength="13.95" lengthAdjust="spacingAndGlyphs" fill="#1a1a1a" stroke="#1a1a1a" stroke-width="0.08">396</text>
<text x="53.6" y="1546.7" font-size="8.5" textLength="13.95" lengthAdjust="spacingAndGlyphs" fill="#1a1a1a" stroke="#1a1a1a" stroke-width="0.08">360</text>
<text x="53.6" y="1556.8" font-size="8.5" textLength="13.95" lengthAdjust="spacingAndGlyphs" fill="#1a1a1a" stroke="#1a1a1a" stroke-width="0.08">324</text>
<text x="53.6" y="1566.9" font-size="8.5" textLength="13.95" lengthAdjust="spacingAndGlyphs" fill="#1a1a1a" stroke="#1a1a1a" stroke-width="0.08">288</text>
<text x="53.6" y="1577.0" font-size="8.5" textLength="13.95" lengthAdjust="spacingAndGlyphs" fill="#1a1a1a" stroke="#1a1a1a" stroke-width="0.08">252</text>
<text x="53.6" y="1587.1" font-size="8.5" textLength="13.95" lengthAdjust="spacingAndGlyphs" fill="#1a1a1a" stroke="#1a1a1a" stroke-width="0.08">216</text>
<text x="53.6" y="1597.2" font-size="8.5" textLength="13.95" lengthAdjust="spacingAndGlyphs" fill="#1a1a1a" stroke="#1a1a1a" stroke-width="0.08">180</text>
<text x="53.6" y="1607.3" font-size="8.5" textLength="13.95" lengthAdjust="spacingAndGlyphs" fill="#1a1a1a" stroke="#1a1a1a" stroke-width="0.08">144</text>
<text x="53.6" y="1617.4" font-size="8.5" textLength="13.95" lengthAdjust="spacingAndGlyphs" fill="#1a1a1a" stroke="#1a1a1a" stroke-width="0.08">108</text>
<text x="53.6" y="1627.5" font-size="8.5" textLength="9.30" lengthAdjust="spacingAndGlyphs" fill="#1a1a1a" stroke="#1a1a1a" stroke-width="0.08">72</text>
<text x="53.6" y="1637.6" font-size="8.5" textLength="9.30" lengthAdjust="spacingAndGlyphs" fill="#1a1a1a" stroke="#1a1a1a" stroke-width="0.08">36</text>
<text x="53.6" y="1647.7" font-size="8.5" textLength="4.65" lengthAdjust="spacingAndGlyphs" fill="#1a1a1a" stroke="#1a1a1a" stroke-width="0.08">0</text>
<clipPath id="cc"><rect x="78.6" y="1133.4499999999998" width="600.8" height="536.5500000000001"/></clipPath>
<g clip-path="url(#cc)">
<text x="74.6" y="1657" font-size="8.6" text-anchor="middle" fill="#1a1a1a">3724</text>
<text x="113.0" y="1657" font-size="8.6" text-anchor="middle" fill="#1a1a1a">3738</text>
<text x="151.4" y="1657" font-size="8.6" text-anchor="middle" fill="#1a1a1a">3752</text>
<text x="189.9" y="1657" font-size="8.6" text-anchor="middle" fill="#1a1a1a">3766</text>
<text x="228.3" y="1657" font-size="8.6" text-anchor="middle" fill="#1a1a1a">3780</text>
<text x="266.7" y="1657" font-size="8.6" text-anchor="middle" fill="#1a1a1a">3794</text>
<text x="305.1" y="1657" font-size="8.6" text-anchor="middle" fill="#1a1a1a">3808</text>
<text x="343.6" y="1657" font-size="8.6" text-anchor="middle" fill="#1a1a1a">3822</text>
<text x="382.0" y="1657" font-size="8.6" text-anchor="middle" fill="#1a1a1a">3836</text>
<text x="420.4" y="1657" font-size="8.6" text-anchor="middle" fill="#1a1a1a">3850</text>
<text x="458.9" y="1657" font-size="8.6" text-anchor="middle" fill="#1a1a1a">3864</text>
<text x="497.3" y="1657" font-size="8.6" text-anchor="middle" fill="#1a1a1a">3878</text>
<text x="535.7" y="1657" font-size="8.6" text-anchor="middle" fill="#1a1a1a">3892</text>
<text x="574.2" y="1657" font-size="8.6" text-anchor="middle" fill="#1a1a1a">3906</text>
<text x="612.6" y="1657" font-size="8.6" text-anchor="middle" fill="#1a1a1a">3920</text>
<text x="651.0" y="1657" font-size="8.6" text-anchor="middle" fill="#1a1a1a">3934</text>
<text x="689.5" y="1657" font-size="8.6" text-anchor="middle" fill="#1a1a1a">3948</text>
<text x="727.9" y="1657" font-size="8.6" text-anchor="middle" fill="#1a1a1a">3962</text>
<text x="92.6" y="1159" font-family="Liberation Serif" font-size="8.2" text-anchor="middle" textLength="4.8" lengthAdjust="spacingAndGlyphs" fill="#303030" stroke="#303030" stroke-width="0.35">G</text>
<text x="127.6" y="1159" font-family="Liberation Serif" font-size="8.2" text-anchor="middle" textLength="4.8" lengthAdjust="spacingAndGlyphs" fill="#303030" stroke="#303030" stroke-width="0.35">G</text>
<text x="163.5" y="1159" font-family="Liberation Serif" font-size="8.2" text-anchor="middle" textLength="4.8" lengthAdjust="spacingAndGlyphs" fill="#30c030" stroke="#30c030" stroke-width="0.35">A</text>
<text x="193.9" y="1159" font-family="Liberation Serif" font-size="8.2" text-anchor="middle" textLength="4.8" lengthAdjust="spacingAndGlyphs" fill="#303030" stroke="#303030" stroke-width="0.35">G</text>
<text x="229.5" y="1159" font-family="Liberation Serif" font-size="8.2" text-anchor="middle" textLength="4.8" lengthAdjust="spacingAndGlyphs" fill="#303030" stroke="#303030" stroke-width="0.35">G</text>
<text x="262" y="1159" font-family="Liberation Serif" font-size="8.2" text-anchor="middle" textLength="4.8" lengthAdjust="spacingAndGlyphs" fill="#3030a0" stroke="#3030a0" stroke-width="0.35">C</text>
<text x="294.6" y="1159" font-family="Liberation Serif" font-size="8.2" text-anchor="middle" textLength="4.8" lengthAdjust="spacingAndGlyphs" fill="#b02020" stroke="#b02020" stroke-width="0.35">T</text>
<text x="327.9" y="1159" font-family="Liberation Serif" font-size="8.2" text-anchor="middle" textLength="4.8" lengthAdjust="spacingAndGlyphs" fill="#b02020" stroke="#b02020" stroke-width="0.35">T</text>
<text x="360.9" y="1159" font-family="Liberation Serif" font-size="8.2" text-anchor="middle" textLength="4.8" lengthAdjust="spacingAndGlyphs" fill="#b02020" stroke="#b02020" stroke-width="0.35">T</text>
<text x="396.9" y="1159" font-family="Liberation Serif" font-size="8.2" text-anchor="middle" textLength="4.8" lengthAdjust="spacingAndGlyphs" fill="#303030" stroke="#303030" stroke-width="0.35">G</text>
<text x="429.2" y="1159" font-family="Liberation Serif" font-size="8.2" text-anchor="middle" textLength="4.8" lengthAdjust="spacingAndGlyphs" fill="#3030a0" stroke="#3030a0" stroke-width="0.35">C</text>
<text x="459.7" y="1159" font-family="Liberation Serif" font-size="8.2" text-anchor="middle" textLength="4.8" lengthAdjust="spacingAndGlyphs" fill="#30c030" stroke="#30c030" stroke-width="0.35">A</text>
<text x="495.8" y="1159" font-family="Liberation Serif" font-size="8.2" text-anchor="middle" textLength="4.8" lengthAdjust="spacingAndGlyphs" fill="#303030" stroke="#303030" stroke-width="0.35">G</text>
<text x="528.4" y="1159" font-family="Liberation Serif" font-size="8.2" text-anchor="middle" textLength="4.8" lengthAdjust="spacingAndGlyphs" fill="#303030" stroke="#303030" stroke-width="0.35">G</text>
<text x="562.3" y="1159" font-family="Liberation Serif" font-size="8.2" text-anchor="middle" textLength="4.8" lengthAdjust="spacingAndGlyphs" fill="#b02020" stroke="#b02020" stroke-width="0.35">T</text>
<text x="594.6" y="1159" font-family="Liberation Serif" font-size="8.2" text-anchor="middle" textLength="4.8" lengthAdjust="spacingAndGlyphs" fill="#30c030" stroke="#30c030" stroke-width="0.35">A</text>
<text x="627.2" y="1159" font-family="Liberation Serif" font-size="8.2" text-anchor="middle" textLength="4.8" lengthAdjust="spacingAndGlyphs" fill="#30c030" stroke="#30c030" stroke-width="0.35">A</text>
<text x="660.5" y="1159" font-family="Liberation Serif" font-size="8.2" text-anchor="middle" textLength="4.8" lengthAdjust="spacingAndGlyphs" fill="#303030" stroke="#303030" stroke-width="0.35">G</text>
<text x="83.2" y="1144.6" font-family="Liberation Mono" font-size="7.6" textLength="13" lengthAdjust="spacingAndGlyphs" fill="#1a1a1a">321</text>
<text x="420.4" y="1144.6" font-family="Liberation Mono" font-size="7.6" textLength="13" lengthAdjust="spacingAndGlyphs" fill="#1a1a1a">331</text>
<rect x="89.5" y="1145.2" width="1" height="3.4" fill="#222"/>
<rect x="427.3" y="1145.2" width="1" height="3.4" fill="#222"/>
<path d="M76.0,1607.3 L77.0,1586.9 L78.0,1563.6 L79.0,1537.3 L80.0,1508.4 L81.0,1477.4 L82.0,1444.9 L83.0,1411.7 L84.0,1378.9 L85.0,1347.5 L86.0,1318.6 L87.0,1293.3 L88.0,1272.8 L89.0,1257.9 L90.0,1249.3 L91.0,1247.2 L92.0,1251.9 L93.0,1263.2 L94.0,1280.4 L95.0,1302.9 L96.0,1329.7 L97.0,1359.8 L98.0,1391.9 L99.0,1425.0 L100.0,1458.0 L101.0,1490.0 L102.0,1520.3 L103.0,1548.1 L104.0,1573.3 L105.0,1595.4 L106.0,1614.6 L107.0,1630.8 L108.0,1644.3 L109.0,1644.9 L110.0,1635.2 L111.0,1623.5 L112.0,1609.7 L113.0,1593.7 L114.0,1575.6 L115.0,1555.5 L116.0,1533.8 L117.0,1510.7 L118.0,1486.9 L119.0,1463.1 L120.0,1439.9 L121.0,1418.2 L122.0,1398.9 L123.0,1382.7 L124.0,1370.3 L125.0,1362.2 L126.0,1358.8 L127.0,1360.3 L128.0,1366.5 L129.0,1377.2 L130.0,1392.0 L131.0,1410.2 L132.0,1431.0 L133.0,1453.7 L134.0,1477.3 L135.0,1501.2 L136.0,1524.7 L137.0,1547.0 L138.0,1567.8 L139.0,1586.7 L140.0,1603.6 L141.0,1618.2 L142.0,1630.8 L143.0,1641.3 L144.0,1646.5 L145.0,1646.1 L146.0,1645.5 L147.0,1644.8 L148.0,1644.1 L149.0,1643.7 L150.0,1643.5 L151.0,1643.7 L152.0,1644.1 L153.0,1644.8 L154.0,1645.5 L155.0,1646.1 L156.0,1646.5 L157.0,1646.5 L158.0,1646.5 L159.0,1646.5 L160.0,1646.5 L161.0,1646.5 L162.0,1646.5 L163.0,1646.5 L164.0,1646.5 L165.0,1646.5 L166.0,1646.5 L167.0,1646.5 L168.0,1646.5 L169.0,1646.5 L170.0,1646.5 L171.0,1646.5 L172.0,1646.5 L173.0,1646.5 L174.0,1646.5 L175.0,1646.5 L176.0,1646.5 L177.0,1646.5 L178.0,1640.8 L179.0,1633.6 L180.0,1625.1 L181.0,1615.1 L182.0,1603.7 L183.0,1591.0 L184.0,1577.2 L185.0,1562.6 L186.0,1547.4 L187.0,1532.3 L188.0,1517.5 L189.0,1503.8 L190.0,1491.7 L191.0,1481.6 L192.0,1474.1 L193.0,1469.4 L194.0,1467.8 L195.0,1469.4 L196.0,1474.1 L197.0,1481.6 L198.0,1491.7 L199.0,1503.8 L200.0,1517.5 L201.0,1532.3 L202.0,1547.4 L203.0,1562.6 L204.0,1577.2 L205.0,1591.0 L206.0,1603.7 L207.0,1615.1 L208.0,1625.1 L209.0,1633.6 L210.0,1640.8 L211.0,1639.8 L212.0,1625.7 L213.0,1608.7 L214.0,1588.8 L215.0,1565.9 L216.0,1540.1 L217.0,1511.8 L218.0,1481.4 L219.0,1449.7 L220.0,1417.4 L221.0,1385.7 L222.0,1355.7 L223.0,1328.5 L224.0,1305.3 L225.0,1287.1 L226.0,1274.7 L227.0,1268.6 L228.0,1269.3 L229.0,1276.6 L230.0,1290.3 L231.0,1309.6 L232.0,1333.7 L233.0,1361.5 L234.0,1392.0 L235.0,1423.9 L236.0,1456.1 L237.0,1487.6 L238.0,1517.6 L239.0,1545.5 L240.0,1570.7 L241.0,1593.0 L242.0,1612.3 L243.0,1628.7 L244.0,1642.3 L245.0,1646.5 L246.0,1646.5 L247.0,1646.5 L248.0,1646.5 L249.0,1646.5 L250.0,1646.5 L251.0,1646.3 L252.0,1645.2 L253.0,1643.2 L254.0,1641.2 L255.0,1639.8 L256.0,1639.6 L257.0,1640.5 L258.0,1642.4 L259.0,1644.4 L260.0,1646.0 L261.0,1646.5 L262.0,1646.5 L263.0,1646.5 L264.0,1646.5 L265.0,1646.5 L266.0,1646.5 L267.0,1646.5 L268.0,1646.5 L269.0,1646.5 L270.0,1646.5 L271.0,1646.5 L272.0,1646.5 L273.0,1646.5 L274.0,1646.5 L275.0,1646.5 L276.0,1646.5 L277.0,1646.5 L278.0,1646.5 L279.0,1646.5 L280.0,1646.5 L281.0,1646.5 L282.0,1646.5 L283.0,1646.5 L284.0,1646.5 L285.0,1646.5 L286.0,1646.5 L287.0,1646.5 L288.0,1646.5 L289.0,1646.5 L290.0,1646.5 L291.0,1646.5 L292.0,1646.5 L293.0,1646.5 L294.0,1646.5 L295.0,1646.5 L296.0,1646.5 L297.0,1646.5 L298.0,1646.5 L299.0,1646.5 L300.0,1646.5 L301.0,1646.5 L302.0,1646.5 L303.0,1646.5 L304.0,1646.5 L305.0,1646.5 L306.0,1646.5 L307.0,1646.5 L308.0,1646.5 L309.0,1646.5 L310.0,1646.5 L311.0,1646.5 L312.0,1646.5 L313.0,1646.5 L314.0,1646.5 L315.0,1646.5 L316.0,1646.5 L317.0,1646.5 L318.0,1646.5 L319.0,1646.5 L320.0,1646.5 L321.0,1646.5 L322.0,1646.5 L323.0,1646.5 L324.0,1646.5 L325.0,1646.5 L326.0,1646.5 L327.0,1646.5 L328.0,1646.3 L329.0,1645.6 L330.0,1644.7 L331.0,1643.5 L332.0,1642.1 L333.0,1640.6 L334.0,1639.2 L335.0,1637.9 L336.0,1636.8 L337.0,1636.0 L338.0,1635.6 L339.0,1635.5 L340.0,1635.9 L341.0,1636.6 L342.0,1637.6 L343.0,1638.9 L344.0,1640.3 L345.0,1641.8 L346.0,1643.2 L347.0,1644.5 L348.0,1645.5 L349.0,1646.2 L350.0,1646.5 L351.0,1646.5 L352.0,1646.5 L353.0,1646.5 L354.0,1646.5 L355.0,1646.5 L356.0,1646.5 L357.0,1646.5 L358.0,1646.5 L359.0,1646.5 L360.0,1646.5 L361.0,1646.3 L362.0,1645.3 L363.0,1643.8 L364.0,1642.5 L365.0,1641.6 L366.0,1641.6 L367.0,1642.5 L368.0,1643.8 L369.0,1645.3 L370.0,1646.3 L371.0,1646.5 L372.0,1646.5 L373.0,1646.5 L374.0,1646.5 L375.0,1646.5 L376.0,1646.5 L377.0,1646.5 L378.0,1642.9 L379.0,1633.7 L380.0,1622.6 L381.0,1609.5 L382.0,1594.5 L383.0,1577.6 L384.0,1558.9 L385.0,1538.8 L386.0,1517.8 L387.0,1496.3 L388.0,1475.2 L389.0,1455.1 L390.0,1436.8 L391.0,1421.0 L392.0,1408.6 L393.0,1399.9 L394.0,1395.5 L395.0,1395.5 L396.0,1399.9 L397.0,1408.6 L398.0,1421.0 L399.0,1436.8 L400.0,1455.1 L401.0,1475.2 L402.0,1496.3 L403.0,1517.8 L404.0,1538.8 L405.0,1558.9 L406.0,1577.6 L407.0,1594.5 L408.0,1609.5 L409.0,1622.6 L410.0,1633.7 L411.0,1642.9 L412.0,1646.5 L413.0,1646.5 L414.0,1646.5 L415.0,1646.5 L416.0,1646.1 L417.0,1645.4 L418.0,1644.5 L419.0,1643.5 L420.0,1642.8 L421.0,1642.5 L422.0,1642.6 L423.0,1643.2 L424.0,1644.1 L425.0,1645.0 L426.0,1645.9 L427.0,1646.4 L428.0,1646.5 L429.0,1646.5 L430.0,1646.5 L431.0,1646.5 L432.0,1646.5 L433.0,1646.5 L434.0,1646.5 L435.0,1646.5 L436.0,1646.5 L437.0,1646.5 L438.0,1646.5 L439.0,1646.5 L440.0,1646.5 L441.0,1646.5 L442.0,1646.5 L443.0,1646.5 L444.0,1646.5 L445.0,1646.5 L446.0,1646.5 L447.0,1646.5 L448.0,1646.5 L449.0,1646.5 L450.0,1646.5 L451.0,1646.5 L452.0,1646.5 L453.0,1646.5 L454.0,1646.5 L455.0,1646.5 L456.0,1646.5 L457.0,1646.5 L458.0,1646.5 L459.0,1646.5 L460.0,1646.5 L461.0,1646.5 L462.0,1646.5 L463.0,1646.5 L464.0,1646.5 L465.0,1646.5 L466.0,1646.5 L467.0,1646.5 L468.0,1646.5 L469.0,1646.5 L470.0,1646.5 L471.0,1646.5 L472.0,1646.5 L473.0,1646.5 L474.0,1646.5 L475.0,1646.5 L476.0,1646.5 L477.0,1642.7 L478.0,1637.3 L479.0,1630.9 L480.0,1623.5 L481.0,1614.9 L482.0,1605.4 L483.0,1595.0 L484.0,1584.0 L485.0,1572.5 L486.0,1561.0 L487.0,1549.7 L488.0,1539.2 L489.0,1529.9 L490.0,1522.1 L491.0,1516.1 L492.0,1512.4 L493.0,1510.9 L494.0,1511.9 L495.0,1515.2 L496.0,1520.7 L497.0,1528.2 L498.0,1537.3 L499.0,1547.6 L500.0,1558.7 L501.0,1570.2 L502.0,1581.7 L503.0,1592.9 L504.0,1603.4 L505.0,1613.1 L506.0,1621.8 L507.0,1629.5 L508.0,1636.1 L509.0,1641.7 L510.0,1644.3 L511.0,1629.9 L512.0,1612.2 L513.0,1591.3 L514.0,1567.0 L515.0,1539.5 L516.0,1508.9 L517.0,1475.8 L518.0,1440.8 L519.0,1404.9 L520.0,1369.1 L521.0,1334.6 L522.0,1302.8 L523.0,1274.9 L524.0,1252.2 L525.0,1235.6 L526.0,1226.0 L527.0,1223.8 L528.0,1229.0 L529.0,1241.5 L530.0,1260.6 L531.0,1285.5 L532.0,1315.1 L533.0,1348.1 L534.0,1383.3 L535.0,1419.3 L536.0,1455.0 L537.0,1489.3 L538.0,1521.5 L539.0,1550.9 L540.0,1577.1 L541.0,1600.1 L542.0,1619.7 L543.0,1636.1 L544.0,1646.5 L545.0,1646.5 L546.0,1646.5 L547.0,1646.5 L548.0,1646.5 L549.0,1646.5 L550.0,1646.2 L551.0,1645.1 L552.0,1643.2 L553.0,1641.0 L554.0,1639.1 L555.0,1637.8 L556.0,1637.5 L557.0,1638.2 L558.0,1639.8 L559.0,1641.9 L560.0,1644.0 L561.0,1645.6 L562.0,1646.5 L563.0,1646.5 L564.0,1646.5 L565.0,1646.5 L566.0,1646.5 L567.0,1646.5 L568.0,1646.5 L569.0,1646.5 L570.0,1646.3 L571.0,1645.7 L572.0,1644.8 L573.0,1644.0 L574.0,1643.5 L575.0,1643.6 L576.0,1644.1 L577.0,1645.0 L578.0,1645.9 L579.0,1646.4 L580.0,1646.5 L581.0,1646.5 L582.0,1646.5 L583.0,1646.5 L584.0,1646.5 L585.0,1646.5 L586.0,1646.5 L587.0,1646.5 L588.0,1646.5 L589.0,1646.2 L590.0,1645.6 L591.0,1644.7 L592.0,1643.5 L593.0,1642.2 L594.0,1640.8 L595.0,1639.3 L596.0,1638.0 L597.0,1636.7 L598.0,1635.7 L599.0,1635.0 L600.0,1634.6 L601.0,1634.5 L602.0,1634.8 L603.0,1635.4 L604.0,1636.3 L605.0,1637.5 L606.0,1638.8 L607.0,1640.2 L608.0,1641.7 L609.0,1643.0 L610.0,1644.3 L611.0,1645.3 L612.0,1646.0 L613.0,1646.4 L614.0,1646.5 L615.0,1646.5 L616.0,1646.5 L617.0,1646.5 L618.0,1646.5 L619.0,1646.5 L620.0,1646.5 L621.0,1646.5 L622.0,1646.5 L623.0,1646.5 L624.0,1646.5 L625.0,1646.5 L626.0,1646.5 L627.0,1646.5 L628.0,1646.5 L629.0,1646.5 L630.0,1646.5 L631.0,1646.5 L632.0,1646.5 L633.0,1646.5 L634.0,1646.5 L635.0,1646.5 L636.0,1646.5 L637.0,1646.5 L638.0,1646.5 L639.0,1646.5 L640.0,1646.5 L641.0,1646.5 L642.0,1646.3 L643.0,1641.4 L644.0,1635.4 L645.0,1628.4 L646.0,1620.2 L647.0,1610.9 L648.0,1600.5 L649.0,1589.3 L650.0,1577.4 L651.0,1565.1 L652.0,1552.8 L653.0,1541.0 L654.0,1530.0 L655.0,1520.3 L656.0,1512.4 L657.0,1506.5 L658.0,1502.9 L659.0,1501.9 L660.0,1503.4 L661.0,1507.5 L662.0,1513.8 L663.0,1522.1 L664.0,1532.1 L665.0,1543.3 L666.0,1555.3 L667.0,1567.6 L668.0,1579.8 L669.0,1591.6 L670.0,1602.7 L671.0,1612.8 L672.0,1621.9 L673.0,1629.9 L674.0,1636.7 L675.0,1642.4 L676.0,1646.5 L677.0,1646.5 L678.0,1646.5 L679.0,1646.5 L680.0,1646.5 L681.0,1646.5 L682.0,1646.5" fill="none" stroke="#383838" stroke-width="1" stroke-linejoin="round"/>
<path d="M76.0,1646.5 L77.0,1646.5 L78.0,1646.0 L79.0,1645.2 L80.0,1644.3 L81.0,1643.7 L82.0,1643.5 L83.0,1643.9 L84.0,1644.6 L85.0,1645.5 L86.0,1646.2 L87.0,1646.5 L88.0,1646.5 L89.0,1646.5 L90.0,1646.5 L91.0,1646.5 L92.0,1646.5 L93.0,1646.5 L94.0,1646.5 L95.0,1646.5 L96.0,1646.5 L97.0,1646.5 L98.0,1646.5 L99.0,1646.5 L100.0,1646.5 L101.0,1646.5 L102.0,1646.5 L103.0,1646.5 L104.0,1646.5 L105.0,1646.5 L106.0,1646.5 L107.0,1646.4 L108.0,1645.5 L109.0,1643.6 L110.0,1641.0 L111.0,1638.0 L112.0,1634.9 L113.0,1632.1 L114.0,1630.0 L115.0,1628.8 L116.0,1628.5 L117.0,1629.4 L118.0,1631.2 L119.0,1633.7 L120.0,1636.7 L121.0,1639.8 L122.0,1642.6 L123.0,1644.8 L124.0,1646.2 L125.0,1646.5 L126.0,1646.5 L127.0,1646.5 L128.0,1646.5 L129.0,1646.0 L130.0,1644.6 L131.0,1642.8 L132.0,1641.3 L133.0,1640.5 L134.0,1640.8 L135.0,1642.1 L136.0,1643.9 L137.0,1645.5 L138.0,1646.4 L139.0,1646.5 L140.0,1646.5 L141.0,1646.5 L142.0,1646.5 L143.0,1646.5 L144.0,1646.5 L145.0,1643.9 L146.0,1632.2 L147.0,1618.1 L148.0,1601.5 L149.0,1582.2 L150.0,1560.4 L151.0,1536.3 L152.0,1510.2 L153.0,1482.7 L154.0,1454.5 L155.0,1426.5 L156.0,1399.7 L157.0,1375.1 L158.0,1353.6 L159.0,1336.3 L160.0,1323.8 L161.0,1316.8 L162.0,1315.7 L163.0,1320.3 L164.0,1330.7 L165.0,1346.1 L166.0,1366.1 L167.0,1389.5 L168.0,1415.6 L169.0,1443.2 L170.0,1471.4 L171.0,1499.3 L172.0,1526.0 L173.0,1551.0 L174.0,1573.8 L175.0,1594.1 L176.0,1611.8 L177.0,1626.9 L178.0,1639.5 L179.0,1646.5 L180.0,1646.5 L181.0,1646.5 L182.0,1646.5 L183.0,1646.5 L184.0,1646.5 L185.0,1646.0 L186.0,1644.6 L187.0,1642.5 L188.0,1640.4 L189.0,1638.6 L190.0,1637.6 L191.0,1637.6 L192.0,1638.6 L193.0,1640.4 L194.0,1642.5 L195.0,1644.6 L196.0,1646.0 L197.0,1646.5 L198.0,1646.5 L199.0,1646.5 L200.0,1646.5 L201.0,1646.5 L202.0,1646.5 L203.0,1646.5 L204.0,1646.5 L205.0,1646.5 L206.0,1646.5 L207.0,1646.5 L208.0,1646.5 L209.0,1646.5 L210.0,1646.5 L211.0,1646.5 L212.0,1646.5 L213.0,1646.5 L214.0,1646.5 L215.0,1646.5 L216.0,1646.5 L217.0,1646.5 L218.0,1646.5 L219.0,1646.5 L220.0,1646.2 L221.0,1645.4 L222.0,1644.3 L223.0,1643.1 L224.0,1642.1 L225.0,1641.6 L226.0,1641.6 L227.0,1642.1 L228.0,1643.1 L229.0,1644.3 L230.0,1645.4 L231.0,1646.2 L232.0,1646.5 L233.0,1646.5 L234.0,1646.5 L235.0,1646.5 L236.0,1646.5 L237.0,1646.5 L238.0,1646.5 L239.0,1646.5 L240.0,1646.5 L241.0,1646.5 L242.0,1646.5 L243.0,1646.5 L244.0,1646.5 L245.0,1646.5 L246.0,1646.5 L247.0,1646.5 L248.0,1646.5 L249.0,1646.5 L250.0,1646.5 L251.0,1646.5 L252.0,1646.5 L253.0,1646.5 L254.0,1646.5 L255.0,1646.5 L256.0,1646.5 L257.0,1646.5 L258.0,1646.5 L259.0,1646.5 L260.0,1646.5 L261.0,1646.5 L262.0,1646.5 L263.0,1646.5 L264.0,1646.5 L265.0,1646.5 L266.0,1646.5 L267.0,1646.5 L268.0,1646.5 L269.0,1646.5 L270.0,1646.5 L271.0,1646.5 L272.0,1646.5 L273.0,1646.5 L274.0,1646.5 L275.0,1646.5 L276.0,1646.5 L277.0,1646.5 L278.0,1646.5 L279.0,1646.5 L280.0,1646.5 L281.0,1646.5 L282.0,1646.5 L283.0,1646.5 L284.0,1646.5 L285.0,1646.5 L286.0,1646.5 L287.0,1646.5 L288.0,1646.5 L289.0,1646.5 L290.0,1646.3 L291.0,1646.0 L292.0,1645.6 L293.0,1645.1 L294.0,1644.6 L295.0,1644.0 L296.0,1643.5 L297.0,1643.1 L298.0,1642.8 L299.0,1642.6 L300.0,1642.5 L301.0,1642.6 L302.0,1642.8 L303.0,1643.1 L304.0,1643.5 L305.0,1644.0 L306.0,1644.6 L307.0,1645.1 L308.0,1645.6 L309.0,1646.0 L310.0,1646.3 L311.0,1646.5 L312.0,1646.5 L313.0,1646.5 L314.0,1646.5 L315.0,1646.5 L316.0,1646.5 L317.0,1646.5 L318.0,1646.2 L319.0,1645.9 L320.0,1645.4 L321.0,1644.8 L322.0,1644.1 L323.0,1643.4 L324.0,1642.8 L325.0,1642.3 L326.0,1641.9 L327.0,1641.6 L328.0,1641.5 L329.0,1641.6 L330.0,1641.9 L331.0,1642.3 L332.0,1642.8 L333.0,1643.4 L334.0,1644.1 L335.0,1644.8 L336.0,1645.4 L337.0,1645.9 L338.0,1646.2 L339.0,1646.5 L340.0,1646.5 L341.0,1646.5 L342.0,1646.5 L343.0,1646.5 L344.0,1646.5 L345.0,1646.5 L346.0,1646.5 L347.0,1646.5 L348.0,1646.5 L349.0,1646.5 L350.0,1646.5 L351.0,1646.5 L352.0,1646.5 L353.0,1646.5 L354.0,1646.5 L355.0,1646.5 L356.0,1646.5 L357.0,1646.5 L358.0,1646.5 L359.0,1646.5 L360.0,1646.5 L361.0,1646.5 L362.0,1646.5 L363.0,1646.5 L364.0,1646.5 L365.0,1646.5 L366.0,1646.5 L367.0,1646.5 L368.0,1646.5 L369.0,1646.5 L370.0,1646.5 L371.0,1646.5 L372.0,1646.5 L373.0,1646.5 L374.0,1646.5 L375.0,1646.5 L376.0,1646.5 L377.0,1646.5 L378.0,1646.5 L379.0,1646.5 L380.0,1646.5 L381.0,1646.5 L382.0,1646.5 L383.0,1646.5 L384.0,1646.5 L385.0,1646.5 L386.0,1646.5 L387.0,1646.5 L388.0,1646.5 L389.0,1646.5 L390.0,1646.5 L391.0,1646.5 L392.0,1646.5 L393.0,1646.5 L394.0,1646.5 L395.0,1646.5 L396.0,1646.5 L397.0,1646.5 L398.0,1646.5 L399.0,1646.5 L400.0,1646.5 L401.0,1646.5 L402.0,1646.5 L403.0,1646.5 L404.0,1646.5 L405.0,1646.5 L406.0,1646.5 L407.0,1646.5 L408.0,1646.5 L409.0,1646.5 L410.0,1646.5 L411.0,1646.5 L412.0,1646.5 L413.0,1646.5 L414.0,1646.5 L415.0,1646.5 L416.0,1646.5 L417.0,1646.5 L418.0,1646.5 L419.0,1646.5 L420.0,1646.5 L421.0,1646.5 L422.0,1646.5 L423.0,1646.5 L424.0,1646.5 L425.0,1646.4 L426.0,1645.9 L427.0,1645.3 L428.0,1644.5 L429.0,1643.9 L430.0,1643.6 L431.0,1643.5 L432.0,1643.8 L433.0,1644.4 L434.0,1645.1 L435.0,1645.8 L436.0,1646.3 L437.0,1646.5 L438.0,1646.5 L439.0,1646.5 L440.0,1646.5 L441.0,1645.6 L442.0,1638.8 L443.0,1630.5 L444.0,1620.8 L445.0,1609.4 L446.0,1596.6 L447.0,1582.3 L448.0,1566.9 L449.0,1550.6 L450.0,1533.8 L451.0,1517.1 L452.0,1501.1 L453.0,1486.2 L454.0,1473.2 L455.0,1462.6 L456.0,1454.9 L457.0,1450.4 L458.0,1449.4 L459.0,1451.8 L460.0,1457.6 L461.0,1466.6 L462.0,1478.2 L463.0,1492.0 L464.0,1507.4 L465.0,1523.8 L466.0,1540.6 L467.0,1557.2 L468.0,1573.2 L469.0,1588.2 L470.0,1601.9 L471.0,1614.2 L472.0,1624.9 L473.0,1634.0 L474.0,1641.6 L475.0,1646.5 L476.0,1646.5 L477.0,1646.3 L478.0,1646.1 L479.0,1645.9 L480.0,1645.6 L481.0,1645.3 L482.0,1645.0 L483.0,1644.8 L484.0,1644.6 L485.0,1644.5 L486.0,1644.5 L487.0,1644.6 L488.0,1644.8 L489.0,1645.0 L490.0,1645.3 L491.0,1645.6 L492.0,1645.9 L493.0,1646.1 L494.0,1646.3 L495.0,1646.5 L496.0,1646.5 L497.0,1646.5 L498.0,1646.5 L499.0,1646.5 L500.0,1646.5 L501.0,1646.5 L502.0,1646.5 L503.0,1646.5 L504.0,1646.5 L505.0,1646.5 L506.0,1646.5 L507.0,1646.5 L508.0,1646.5 L509.0,1646.5 L510.0,1646.5 L511.0,1646.5 L512.0,1646.5 L513.0,1646.5 L514.0,1646.5 L515.0,1646.3 L516.0,1646.0 L517.0,1645.5 L518.0,1644.9 L519.0,1644.2 L520.0,1643.6 L521.0,1642.9 L522.0,1642.4 L523.0,1641.9 L524.0,1641.6 L525.0,1641.5 L526.0,1641.6 L527.0,1641.8 L528.0,1642.2 L529.0,1642.7 L530.0,1643.3 L531.0,1644.0 L532.0,1644.6 L533.0,1645.2 L534.0,1645.8 L535.0,1646.2 L536.0,1646.4 L537.0,1646.5 L538.0,1646.5 L539.0,1646.5 L540.0,1646.5 L541.0,1646.5 L542.0,1646.5 L543.0,1646.5 L544.0,1646.5 L545.0,1646.5 L546.0,1646.5 L547.0,1646.5 L548.0,1646.5 L549.0,1646.5 L550.0,1646.5 L551.0,1646.5 L552.0,1646.5 L553.0,1646.5 L554.0,1646.5 L555.0,1646.5 L556.0,1646.5 L557.0,1646.5 L558.0,1646.5 L559.0,1646.2 L560.0,1645.3 L561.0,1644.0 L562.0,1642.6 L563.0,1641.4 L564.0,1640.6 L565.0,1640.6 L566.0,1641.2 L567.0,1642.3 L568.0,1643.7 L569.0,1645.1 L570.0,1646.1 L571.0,1646.5 L572.0,1646.5 L573.0,1646.5 L574.0,1646.5 L575.0,1646.5 L576.0,1643.2 L577.0,1636.2 L578.0,1627.8 L579.0,1617.9 L580.0,1606.6 L581.0,1593.9 L582.0,1579.9 L583.0,1564.8 L584.0,1549.1 L585.0,1533.2 L586.0,1517.5 L587.0,1502.6 L588.0,1489.2 L589.0,1477.7 L590.0,1468.7 L591.0,1462.5 L592.0,1459.6 L593.0,1459.9 L594.0,1463.5 L595.0,1470.3 L596.0,1479.8 L597.0,1491.7 L598.0,1505.5 L599.0,1520.6 L600.0,1536.4 L601.0,1552.3 L602.0,1567.9 L603.0,1582.7 L604.0,1596.5 L605.0,1609.0 L606.0,1620.0 L607.0,1629.6 L608.0,1637.7 L609.0,1637.2 L610.0,1627.9 L611.0,1614.3 L612.0,1598.4 L613.0,1580.3 L614.0,1559.9 L615.0,1537.6 L616.0,1513.8 L617.0,1489.1 L618.0,1464.1 L619.0,1439.8 L620.0,1416.9 L621.0,1396.4 L622.0,1379.1 L623.0,1365.9 L624.0,1357.2 L625.0,1353.6 L626.0,1355.2 L627.0,1361.8 L628.0,1373.3 L629.0,1389.1 L630.0,1408.4 L631.0,1430.4 L632.0,1454.3 L633.0,1479.1 L634.0,1504.0 L635.0,1528.2 L636.0,1551.2 L637.0,1572.4 L638.0,1591.4 L639.0,1608.3 L640.0,1622.8 L641.0,1635.0 L642.0,1645.1 L643.0,1646.5 L644.0,1646.5 L645.0,1646.5 L646.0,1646.5 L647.0,1646.5 L648.0,1646.5 L649.0,1646.5 L650.0,1646.5 L651.0,1646.5 L652.0,1646.5 L653.0,1646.5 L654.0,1646.5 L655.0,1646.5 L656.0,1646.5 L657.0,1646.5 L658.0,1646.5 L659.0,1646.4 L660.0,1645.7 L661.0,1644.3 L662.0,1642.5 L663.0,1640.5 L664.0,1638.7 L665.0,1637.3 L666.0,1636.6 L667.0,1636.6 L668.0,1637.5 L669.0,1639.0 L670.0,1640.9 L671.0,1642.9 L672.0,1644.7 L673.0,1645.9 L674.0,1646.5 L675.0,1646.5 L676.0,1646.5 L677.0,1641.7 L678.0,1620.0 L679.0,1593.8 L680.0,1562.9 L681.0,1527.1 L682.0,1486.6" fill="none" stroke="#66c866" stroke-width="1" stroke-linejoin="round"/>
<path d="M76.0,1646.5 L77.0,1646.5 L78.0,1646.5 L79.0,1646.5 L80.0,1646.5 L81.0,1646.5 L82.0,1646.5 L83.0,1646.5 L84.0,1646.5 L85.0,1646.5 L86.0,1646.5 L87.0,1646.5 L88.0,1646.5 L89.0,1646.5 L90.0,1646.5 L91.0,1646.5 L92.0,1646.5 L93.0,1646.5 L94.0,1646.5 L95.0,1646.5 L96.0,1646.5 L97.0,1646.5 L98.0,1646.5 L99.0,1646.5 L100.0,1646.5 L101.0,1646.5 L102.0,1646.5 L103.0,1646.5 L104.0,1646.5 L105.0,1646.5 L106.0,1646.5 L107.0,1646.5 L108.0,1646.5 L109.0,1646.5 L110.0,1646.5 L111.0,1646.5 L112.0,1646.5 L113.0,1646.5 L114.0,1646.5 L115.0,1646.5 L116.0,1646.5 L117.0,1646.5 L118.0,1646.5 L119.0,1646.5 L120.0,1646.5 L121.0,1646.5 L122.0,1646.5 L123.0,1646.5 L124.0,1646.5 L125.0,1646.5 L126.0,1646.5 L127.0,1646.5 L128.0,1646.5 L129.0,1646.5 L130.0,1646.5 L131.0,1646.5 L132.0,1646.5 L133.0,1646.5 L134.0,1646.5 L135.0,1646.5 L136.0,1646.5 L137.0,1646.5 L138.0,1646.5 L139.0,1646.5 L140.0,1646.5 L141.0,1646.5 L142.0,1646.5 L143.0,1646.5 L144.0,1646.5 L145.0,1646.4 L146.0,1645.9 L147.0,1645.0 L148.0,1644.1 L149.0,1643.2 L150.0,1642.6 L151.0,1642.5 L152.0,1642.8 L153.0,1643.5 L154.0,1644.5 L155.0,1645.4 L156.0,1646.1 L157.0,1646.2 L158.0,1645.6 L159.0,1644.6 L160.0,1643.7 L161.0,1642.9 L162.0,1642.5 L163.0,1642.6 L164.0,1643.1 L165.0,1643.9 L166.0,1644.8 L167.0,1645.7 L168.0,1646.3 L169.0,1646.5 L170.0,1646.5 L171.0,1646.5 L172.0,1646.5 L173.0,1646.5 L174.0,1646.5 L175.0,1646.5 L176.0,1646.5 L177.0,1646.5 L178.0,1646.5 L179.0,1646.5 L180.0,1646.5 L181.0,1646.5 L182.0,1646.5 L183.0,1646.5 L184.0,1646.5 L185.0,1646.5 L186.0,1646.5 L187.0,1646.5 L188.0,1646.5 L189.0,1646.5 L190.0,1646.5 L191.0,1646.5 L192.0,1646.5 L193.0,1646.5 L194.0,1646.5 L195.0,1646.5 L196.0,1646.5 L197.0,1646.1 L198.0,1645.4 L199.0,1644.5 L200.0,1643.5 L201.0,1642.8 L202.0,1642.5 L203.0,1642.6 L204.0,1643.2 L205.0,1643.8 L206.0,1643.6 L207.0,1642.7 L208.0,1641.1 L209.0,1639.0 L210.0,1637.2 L211.0,1635.9 L212.0,1635.5 L213.0,1635.9 L214.0,1637.2 L215.0,1639.0 L216.0,1641.2 L217.0,1643.4 L218.0,1645.1 L219.0,1646.2 L220.0,1646.5 L221.0,1646.5 L222.0,1646.5 L223.0,1646.5 L224.0,1646.5 L225.0,1646.5 L226.0,1646.5 L227.0,1646.5 L228.0,1646.5 L229.0,1646.5 L230.0,1646.5 L231.0,1646.5 L232.0,1646.5 L233.0,1646.5 L234.0,1646.5 L235.0,1646.5 L236.0,1646.5 L237.0,1646.5 L238.0,1646.5 L239.0,1646.5 L240.0,1646.5 L241.0,1646.5 L242.0,1646.5 L243.0,1646.5 L244.0,1643.0 L245.0,1634.1 L246.0,1623.4 L247.0,1610.8 L248.0,1596.3 L249.0,1579.9 L250.0,1561.9 L251.0,1542.5 L252.0,1522.2 L253.0,1501.5 L254.0,1481.1 L255.0,1461.7 L256.0,1444.0 L257.0,1428.8 L258.0,1416.8 L259.0,1408.4 L260.0,1404.1 L261.0,1404.1 L262.0,1408.4 L263.0,1416.8 L264.0,1428.8 L265.0,1444.0 L266.0,1461.7 L267.0,1481.1 L268.0,1501.5 L269.0,1522.2 L270.0,1542.5 L271.0,1561.9 L272.0,1579.9 L273.0,1596.3 L274.0,1610.8 L275.0,1623.4 L276.0,1634.1 L277.0,1643.0 L278.0,1646.5 L279.0,1646.5 L280.0,1646.5 L281.0,1646.5 L282.0,1646.5 L283.0,1646.2 L284.0,1645.6 L285.0,1644.6 L286.0,1643.7 L287.0,1642.9 L288.0,1642.5 L289.0,1642.6 L290.0,1643.1 L291.0,1643.9 L292.0,1644.8 L293.0,1645.7 L294.0,1646.3 L295.0,1646.5 L296.0,1646.5 L297.0,1646.5 L298.0,1646.5 L299.0,1646.5 L300.0,1646.5 L301.0,1646.4 L302.0,1646.2 L303.0,1645.8 L304.0,1645.2 L305.0,1644.6 L306.0,1644.0 L307.0,1643.3 L308.0,1642.7 L309.0,1642.2 L310.0,1641.8 L311.0,1641.6 L312.0,1641.5 L313.0,1641.6 L314.0,1641.9 L315.0,1642.4 L316.0,1642.9 L317.0,1643.6 L318.0,1644.2 L319.0,1644.9 L320.0,1645.5 L321.0,1646.0 L322.0,1646.3 L323.0,1646.5 L324.0,1646.5 L325.0,1646.5 L326.0,1646.5 L327.0,1646.5 L328.0,1646.5 L329.0,1646.5 L330.0,1646.5 L331.0,1646.5 L332.0,1646.5 L333.0,1646.5 L334.0,1646.5 L335.0,1646.5 L336.0,1646.5 L337.0,1646.5 L338.0,1646.5 L339.0,1646.5 L340.0,1646.5 L341.0,1646.5 L342.0,1646.5 L343.0,1646.5 L344.0,1646.5 L345.0,1646.5 L346.0,1646.5 L347.0,1646.5 L348.0,1646.5 L349.0,1646.5 L350.0,1646.5 L351.0,1646.5 L352.0,1646.5 L353.0,1646.5 L354.0,1646.5 L355.0,1646.5 L356.0,1646.5 L357.0,1646.5 L358.0,1646.5 L359.0,1646.5 L360.0,1646.5 L361.0,1646.5 L362.0,1646.5 L363.0,1646.5 L364.0,1646.5 L365.0,1646.5 L366.0,1646.5 L367.0,1646.5 L368.0,1646.5 L369.0,1646.5 L370.0,1646.4 L371.0,1645.7 L372.0,1644.6 L373.0,1643.1 L374.0,1641.8 L375.0,1640.8 L376.0,1640.5 L377.0,1640.8 L378.0,1641.8 L379.0,1643.1 L380.0,1644.6 L381.0,1645.5 L382.0,1645.3 L383.0,1644.3 L384.0,1643.2 L385.0,1642.6 L386.0,1642.6 L387.0,1643.4 L388.0,1644.5 L389.0,1645.6 L390.0,1646.4 L391.0,1646.5 L392.0,1646.5 L393.0,1646.4 L394.0,1646.0 L395.0,1645.2 L396.0,1644.3 L397.0,1643.4 L398.0,1642.7 L399.0,1642.5 L400.0,1642.7 L401.0,1643.4 L402.0,1644.3 L403.0,1645.2 L404.0,1646.0 L405.0,1646.4 L406.0,1646.5 L407.0,1646.5 L408.0,1646.5 L409.0,1646.5 L410.0,1646.5 L411.0,1641.1 L412.0,1632.6 L413.0,1622.5 L414.0,1610.6 L415.0,1597.0 L416.0,1581.8 L417.0,1565.1 L418.0,1547.3 L419.0,1528.8 L420.0,1510.2 L421.0,1492.0 L422.0,1474.9 L423.0,1459.6 L424.0,1446.7 L425.0,1436.8 L426.0,1430.3 L427.0,1427.6 L428.0,1428.7 L429.0,1433.7 L430.0,1442.3 L431.0,1454.1 L432.0,1468.5 L433.0,1485.0 L434.0,1502.8 L435.0,1521.4 L436.0,1540.0 L437.0,1558.1 L438.0,1575.3 L439.0,1591.1 L440.0,1605.3 L441.0,1617.9 L442.0,1628.8 L443.0,1637.9 L444.0,1645.5 L445.0,1646.5 L446.0,1646.5 L447.0,1646.5 L448.0,1646.5 L449.0,1646.4 L450.0,1646.0 L451.0,1645.2 L452.0,1644.3 L453.0,1643.4 L454.0,1642.7 L455.0,1642.5 L456.0,1642.7 L457.0,1643.4 L458.0,1644.3 L459.0,1645.2 L460.0,1645.8 L461.0,1645.6 L462.0,1644.8 L463.0,1644.0 L464.0,1643.5 L465.0,1643.6 L466.0,1644.1 L467.0,1645.0 L468.0,1645.9 L469.0,1646.4 L470.0,1646.5 L471.0,1646.5 L472.0,1646.5 L473.0,1646.5 L474.0,1646.5 L475.0,1646.5 L476.0,1646.5 L477.0,1646.5 L478.0,1646.5 L479.0,1646.5 L480.0,1646.5 L481.0,1646.5 L482.0,1646.5 L483.0,1646.5 L484.0,1646.5 L485.0,1646.5 L486.0,1646.5 L487.0,1646.5 L488.0,1646.5 L489.0,1646.5 L490.0,1646.5 L491.0,1646.5 L492.0,1646.5 L493.0,1646.5 L494.0,1646.5 L495.0,1646.5 L496.0,1646.5 L497.0,1646.5 L498.0,1646.5 L499.0,1646.5 L500.0,1646.5 L501.0,1646.3 L502.0,1645.9 L503.0,1645.2 L504.0,1644.5 L505.0,1643.9 L506.0,1643.5 L507.0,1643.5 L508.0,1643.9 L509.0,1644.5 L510.0,1645.2 L511.0,1645.9 L512.0,1646.3 L513.0,1646.5 L514.0,1646.5 L515.0,1646.5 L516.0,1646.5 L517.0,1646.5 L518.0,1646.5 L519.0,1646.5 L520.0,1646.5 L521.0,1646.5 L522.0,1646.5 L523.0,1646.5 L524.0,1646.5 L525.0,1646.5 L526.0,1646.5 L527.0,1646.5 L528.0,1646.5 L529.0,1646.5 L530.0,1646.5 L531.0,1646.5 L532.0,1646.5 L533.0,1646.5 L534.0,1646.5 L535.0,1646.5 L536.0,1646.5 L537.0,1646.5 L538.0,1646.5 L539.0,1646.5 L540.0,1646.5 L541.0,1646.5 L542.0,1646.5 L543.0,1646.5 L544.0,1646.5 L545.0,1646.5 L546.0,1646.5 L547.0,1646.5 L548.0,1646.5 L549.0,1646.5 L550.0,1646.5 L551.0,1646.5 L552.0,1646.5 L553.0,1646.5 L554.0,1646.5 L555.0,1646.5 L556.0,1646.5 L557.0,1646.5 L558.0,1646.5 L559.0,1646.5 L560.0,1646.5 L561.0,1646.5 L562.0,1646.5 L563.0,1646.5 L564.0,1646.5 L565.0,1646.5 L566.0,1646.5 L567.0,1646.5 L568.0,1646.5 L569.0,1646.5 L570.0,1646.5 L571.0,1646.5 L572.0,1646.5 L573.0,1646.5 L574.0,1646.5 L575.0,1646.5 L576.0,1646.5 L577.0,1646.5 L578.0,1646.5 L579.0,1646.5 L580.0,1646.5 L581.0,1646.5 L582.0,1646.5 L583.0,1646.5 L584.0,1646.5 L585.0,1646.5 L586.0,1646.5 L587.0,1646.5 L588.0,1646.5 L589.0,1646.5 L590.0,1646.5 L591.0,1646.5 L592.0,1646.5 L593.0,1646.5 L594.0,1646.5 L595.0,1646.5 L596.0,1646.5 L597.0,1646.5 L598.0,1646.5 L599.0,1646.5 L600.0,1646.5 L601.0,1646.5 L602.0,1646.5 L603.0,1646.5 L604.0,1646.5 L605.0,1646.5 L606.0,1646.5 L607.0,1646.5 L608.0,1646.5 L609.0,1646.5 L610.0,1646.5 L611.0,1646.5 L612.0,1646.5 L613.0,1646.5 L614.0,1646.5 L615.0,1646.5 L616.0,1646.5 L617.0,1646.5 L618.0,1646.5 L619.0,1646.5 L620.0,1646.5 L621.0,1646.5 L622.0,1646.5 L623.0,1646.5 L624.0,1646.5 L625.0,1646.5 L626.0,1646.5 L627.0,1646.5 L628.0,1646.5 L629.0,1646.5 L630.0,1646.5 L631.0,1646.5 L632.0,1646.5 L633.0,1646.5 L634.0,1646.5 L635.0,1646.5 L636.0,1646.5 L637.0,1646.5 L638.0,1646.5 L639.0,1646.5 L640.0,1646.5 L641.0,1646.5 L642.0,1646.5 L643.0,1646.5 L644.0,1646.5 L645.0,1646.5 L646.0,1646.5 L647.0,1646.5 L648.0,1646.5 L649.0,1646.5 L650.0,1646.5 L651.0,1646.5 L652.0,1646.5 L653.0,1646.5 L654.0,1646.5 L655.0,1646.5 L656.0,1646.5 L657.0,1646.5 L658.0,1646.5 L659.0,1646.5 L660.0,1646.5 L661.0,1646.5 L662.0,1646.5 L663.0,1646.5 L664.0,1646.5 L665.0,1646.5 L666.0,1646.5 L667.0,1646.5 L668.0,1646.5 L669.0,1646.5 L670.0,1646.5 L671.0,1646.5 L672.0,1646.5 L673.0,1646.5 L674.0,1646.5 L675.0,1646.5 L676.0,1646.5 L677.0,1646.5 L678.0,1646.5 L679.0,1646.5 L680.0,1646.5 L681.0,1646.5 L682.0,1646.5" fill="none" stroke="#585898" stroke-width="1" stroke-linejoin="round"/>
<path d="M76.0,1646.5 L77.0,1646.4 L78.0,1645.6 L79.0,1644.2 L80.0,1642.6 L81.0,1641.0 L82.0,1639.9 L83.0,1639.5 L84.0,1639.9 L85.0,1641.0 L86.0,1642.6 L87.0,1644.2 L88.0,1645.6 L89.0,1646.4 L90.0,1646.5 L91.0,1646.5 L92.0,1646.5 L93.0,1646.5 L94.0,1646.5 L95.0,1646.5 L96.0,1646.5 L97.0,1646.4 L98.0,1645.9 L99.0,1645.1 L100.0,1644.2 L101.0,1643.6 L102.0,1643.5 L103.0,1643.9 L104.0,1644.7 L105.0,1645.6 L106.0,1646.3 L107.0,1646.5 L108.0,1646.5 L109.0,1646.5 L110.0,1646.5 L111.0,1646.5 L112.0,1646.5 L113.0,1646.5 L114.0,1646.5 L115.0,1646.5 L116.0,1646.5 L117.0,1646.5 L118.0,1646.4 L119.0,1645.9 L120.0,1645.1 L121.0,1644.2 L122.0,1643.6 L123.0,1643.5 L124.0,1643.9 L125.0,1644.7 L126.0,1645.6 L127.0,1646.3 L128.0,1646.5 L129.0,1646.5 L130.0,1646.5 L131.0,1646.5 L132.0,1646.5 L133.0,1646.5 L134.0,1646.5 L135.0,1646.5 L136.0,1646.5 L137.0,1646.5 L138.0,1646.5 L139.0,1646.5 L140.0,1646.5 L141.0,1646.5 L142.0,1646.5 L143.0,1646.5 L144.0,1646.5 L145.0,1646.5 L146.0,1646.5 L147.0,1646.5 L148.0,1646.5 L149.0,1646.5 L150.0,1646.5 L151.0,1646.5 L152.0,1646.5 L153.0,1646.5 L154.0,1646.5 L155.0,1646.5 L156.0,1646.5 L157.0,1646.5 L158.0,1646.5 L159.0,1646.5 L160.0,1646.5 L161.0,1646.5 L162.0,1646.5 L163.0,1646.5 L164.0,1646.5 L165.0,1646.5 L166.0,1646.5 L167.0,1646.5 L168.0,1646.5 L169.0,1646.5 L170.0,1646.5 L171.0,1646.5 L172.0,1646.5 L173.0,1646.5 L174.0,1646.5 L175.0,1646.5 L176.0,1646.5 L177.0,1646.5 L178.0,1646.5 L179.0,1646.5 L180.0,1646.5 L181.0,1646.5 L182.0,1646.5 L183.0,1646.5 L184.0,1646.5 L185.0,1646.5 L186.0,1646.5 L187.0,1646.5 L188.0,1646.5 L189.0,1646.5 L190.0,1646.5 L191.0,1646.5 L192.0,1646.5 L193.0,1646.5 L194.0,1646.5 L195.0,1646.5 L196.0,1646.5 L197.0,1646.5 L198.0,1646.5 L199.0,1646.5 L200.0,1646.5 L201.0,1646.5 L202.0,1646.5 L203.0,1646.5 L204.0,1646.5 L205.0,1646.5 L206.0,1646.5 L207.0,1646.5 L208.0,1646.5 L209.0,1646.5 L210.0,1646.5 L211.0,1646.5 L212.0,1646.5 L213.0,1646.5 L214.0,1646.5 L215.0,1646.5 L216.0,1646.5 L217.0,1646.5 L218.0,1646.5 L219.0,1646.5 L220.0,1646.5 L221.0,1646.5 L222.0,1646.5 L223.0,1646.5 L224.0,1646.5 L225.0,1646.5 L226.0,1646.5 L227.0,1646.5 L228.0,1646.5 L229.0,1646.5 L230.0,1646.5 L231.0,1646.5 L232.0,1646.5 L233.0,1646.5 L234.0,1646.5 L235.0,1646.5 L236.0,1646.5 L237.0,1646.5 L238.0,1646.5 L239.0,1646.5 L240.0,1646.5 L241.0,1646.5 L242.0,1646.5 L243.0,1646.5 L244.0,1646.5 L245.0,1646.5 L246.0,1646.5 L247.0,1646.5 L248.0,1646.5 L249.0,1646.5 L250.0,1646.5 L251.0,1646.5 L252.0,1646.5 L253.0,1646.5 L254.0,1646.5 L255.0,1646.5 L256.0,1646.5 L257.0,1646.5 L258.0,1646.5 L259.0,1646.4 L260.0,1645.9 L261.0,1644.9 L262.0,1643.7 L263.0,1642.6 L264.0,1641.8 L265.0,1641.5 L266.0,1641.8 L267.0,1642.6 L268.0,1643.7 L269.0,1644.9 L270.0,1645.9 L271.0,1646.4 L272.0,1646.5 L273.0,1646.5 L274.0,1646.5 L275.0,1646.5 L276.0,1646.5 L277.0,1646.1 L278.0,1637.8 L279.0,1627.6 L280.0,1615.6 L281.0,1601.7 L282.0,1585.8 L283.0,1568.2 L284.0,1549.0 L285.0,1528.7 L286.0,1507.8 L287.0,1486.9 L288.0,1466.7 L289.0,1448.0 L290.0,1431.5 L291.0,1417.9 L292.0,1407.9 L293.0,1401.9 L294.0,1400.1 L295.0,1402.7 L296.0,1409.6 L297.0,1420.4 L298.0,1434.6 L299.0,1451.6 L300.0,1470.7 L301.0,1491.1 L302.0,1512.0 L303.0,1532.9 L304.0,1553.0 L305.0,1571.9 L306.0,1589.2 L307.0,1604.6 L308.0,1618.2 L309.0,1629.8 L310.0,1639.6 L311.0,1642.4 L312.0,1632.0 L313.0,1619.5 L314.0,1604.7 L315.0,1587.7 L316.0,1568.5 L317.0,1547.4 L318.0,1524.7 L319.0,1500.9 L320.0,1476.7 L321.0,1452.8 L322.0,1430.0 L323.0,1409.3 L324.0,1391.5 L325.0,1377.4 L326.0,1367.6 L327.0,1362.6 L328.0,1362.6 L329.0,1367.6 L330.0,1377.4 L331.0,1391.5 L332.0,1409.3 L333.0,1430.0 L334.0,1452.8 L335.0,1476.7 L336.0,1500.9 L337.0,1524.7 L338.0,1547.4 L339.0,1568.5 L340.0,1587.7 L341.0,1604.7 L342.0,1619.5 L343.0,1632.0 L344.0,1642.4 L345.0,1641.2 L346.0,1630.0 L347.0,1616.6 L348.0,1600.9 L349.0,1582.8 L350.0,1562.5 L351.0,1540.1 L352.0,1516.1 L353.0,1491.0 L354.0,1465.5 L355.0,1440.5 L356.0,1416.8 L357.0,1395.3 L358.0,1377.0 L359.0,1362.6 L360.0,1352.8 L361.0,1348.0 L362.0,1348.6 L363.0,1354.3 L364.0,1365.1 L365.0,1380.4 L366.0,1399.4 L367.0,1421.4 L368.0,1445.4 L369.0,1470.6 L370.0,1496.1 L371.0,1521.0 L372.0,1544.7 L373.0,1566.7 L374.0,1586.6 L375.0,1604.2 L376.0,1619.5 L377.0,1632.4 L378.0,1643.2 L379.0,1646.5 L380.0,1646.5 L381.0,1646.5 L382.0,1646.5 L383.0,1646.2 L384.0,1645.4 L385.0,1644.3 L386.0,1643.1 L387.0,1642.1 L388.0,1641.6 L389.0,1641.6 L390.0,1642.1 L391.0,1643.1 L392.0,1644.3 L393.0,1645.4 L394.0,1646.2 L395.0,1646.5 L396.0,1646.5 L397.0,1646.5 L398.0,1646.5 L399.0,1646.5 L400.0,1646.5 L401.0,1646.5 L402.0,1646.5 L403.0,1646.5 L404.0,1646.5 L405.0,1646.5 L406.0,1646.5 L407.0,1646.5 L408.0,1646.5 L409.0,1646.5 L410.0,1646.5 L411.0,1646.5 L412.0,1646.5 L413.0,1646.5 L414.0,1646.5 L415.0,1646.5 L416.0,1646.5 L417.0,1646.5 L418.0,1646.5 L419.0,1646.5 L420.0,1646.5 L421.0,1646.5 L422.0,1646.5 L423.0,1646.5 L424.0,1646.5 L425.0,1646.5 L426.0,1646.5 L427.0,1646.5 L428.0,1646.5 L429.0,1646.5 L430.0,1646.5 L431.0,1646.5 L432.0,1646.5 L433.0,1646.5 L434.0,1646.5 L435.0,1646.5 L436.0,1646.5 L437.0,1646.5 L438.0,1646.5 L439.0,1646.5 L440.0,1646.5 L441.0,1646.5 L442.0,1646.5 L443.0,1646.5 L444.0,1646.5 L445.0,1646.5 L446.0,1646.5 L447.0,1646.5 L448.0,1646.5 L449.0,1646.5 L450.0,1646.5 L451.0,1646.5 L452.0,1646.5 L453.0,1646.5 L454.0,1646.5 L455.0,1646.5 L456.0,1646.5 L457.0,1646.5 L458.0,1646.5 L459.0,1646.5 L460.0,1646.5 L461.0,1646.5 L462.0,1646.5 L463.0,1646.5 L464.0,1646.5 L465.0,1646.5 L466.0,1646.5 L467.0,1646.5 L468.0,1646.5 L469.0,1646.5 L470.0,1646.5 L471.0,1646.5 L472.0,1646.5 L473.0,1646.5 L474.0,1646.4 L475.0,1645.9 L476.0,1645.3 L477.0,1644.5 L478.0,1643.9 L479.0,1643.6 L480.0,1643.5 L481.0,1643.8 L482.0,1644.4 L483.0,1645.1 L484.0,1645.8 L485.0,1646.3 L486.0,1646.5 L487.0,1646.5 L488.0,1646.5 L489.0,1646.5 L490.0,1646.5 L491.0,1646.5 L492.0,1646.5 L493.0,1646.5 L494.0,1646.5 L495.0,1646.5 L496.0,1646.5 L497.0,1646.5 L498.0,1646.5 L499.0,1646.5 L500.0,1646.5 L501.0,1646.5 L502.0,1646.5 L503.0,1646.5 L504.0,1646.5 L505.0,1646.5 L506.0,1646.5 L507.0,1646.5 L508.0,1646.5 L509.0,1646.5 L510.0,1646.5 L511.0,1646.5 L512.0,1646.5 L513.0,1646.5 L514.0,1646.5 L515.0,1646.5 L516.0,1646.5 L517.0,1646.5 L518.0,1646.5 L519.0,1646.5 L520.0,1646.5 L521.0,1646.5 L522.0,1646.5 L523.0,1646.5 L524.0,1646.5 L525.0,1646.5 L526.0,1646.5 L527.0,1646.2 L528.0,1645.7 L529.0,1645.0 L530.0,1644.3 L531.0,1643.7 L532.0,1643.5 L533.0,1643.6 L534.0,1644.0 L535.0,1644.7 L536.0,1645.4 L537.0,1646.0 L538.0,1646.4 L539.0,1646.5 L540.0,1646.5 L541.0,1646.5 L542.0,1646.5 L543.0,1646.5 L544.0,1646.5 L545.0,1640.5 L546.0,1632.8 L547.0,1623.7 L548.0,1613.1 L549.0,1601.0 L550.0,1587.6 L551.0,1572.9 L552.0,1557.3 L553.0,1541.2 L554.0,1525.1 L555.0,1509.5 L556.0,1494.9 L557.0,1482.0 L558.0,1471.3 L559.0,1463.3 L560.0,1458.3 L561.0,1456.6 L562.0,1458.3 L563.0,1463.3 L564.0,1471.3 L565.0,1482.0 L566.0,1494.9 L567.0,1509.5 L568.0,1525.1 L569.0,1541.2 L570.0,1557.3 L571.0,1572.9 L572.0,1587.6 L573.0,1601.0 L574.0,1613.1 L575.0,1623.7 L576.0,1632.8 L577.0,1640.5 L578.0,1646.5 L579.0,1646.5 L580.0,1646.5 L581.0,1646.5 L582.0,1646.5 L583.0,1646.4 L584.0,1646.1 L585.0,1645.8 L586.0,1645.4 L587.0,1644.9 L588.0,1644.5 L589.0,1644.1 L590.0,1643.8 L591.0,1643.6 L592.0,1643.5 L593.0,1643.6 L594.0,1643.8 L595.0,1644.1 L596.0,1644.5 L597.0,1644.9 L598.0,1645.4 L599.0,1645.8 L600.0,1646.1 L601.0,1646.4 L602.0,1646.5 L603.0,1646.5 L604.0,1646.5 L605.0,1646.5 L606.0,1646.5 L607.0,1646.5 L608.0,1646.5 L609.0,1646.5 L610.0,1646.5 L611.0,1646.5 L612.0,1646.5 L613.0,1646.5 L614.0,1646.5 L615.0,1646.5 L616.0,1646.5 L617.0,1646.5 L618.0,1646.5 L619.0,1646.5 L620.0,1646.4 L621.0,1646.2 L622.0,1646.0 L623.0,1645.8 L624.0,1645.5 L625.0,1645.2 L626.0,1644.9 L627.0,1644.6 L628.0,1644.3 L629.0,1644.1 L630.0,1643.9 L631.0,1643.7 L632.0,1643.6 L633.0,1643.5 L634.0,1643.5 L635.0,1643.6 L636.0,1643.7 L637.0,1643.9 L638.0,1644.1 L639.0,1644.3 L640.0,1644.6 L641.0,1644.9 L642.0,1645.2 L643.0,1645.5 L644.0,1645.8 L645.0,1646.0 L646.0,1646.2 L647.0,1646.4 L648.0,1646.5 L649.0,1646.5 L650.0,1646.5 L651.0,1646.5 L652.0,1646.5 L653.0,1646.5 L654.0,1646.5 L655.0,1646.5 L656.0,1646.5 L657.0,1646.5 L658.0,1646.5 L659.0,1646.5 L660.0,1646.5 L661.0,1646.5 L662.0,1646.5 L663.0,1646.5 L664.0,1646.5 L665.0,1646.5 L666.0,1646.5 L667.0,1646.5 L668.0,1646.5 L669.0,1646.5 L670.0,1646.5 L671.0,1646.5 L672.0,1646.5 L673.0,1646.5 L674.0,1646.5 L675.0,1646.5 L676.0,1646.5 L677.0,1646.5 L678.0,1646.5 L679.0,1646.5 L680.0,1646.5 L681.0,1646.5 L682.0,1646.5" fill="none" stroke="#b86262" stroke-width="1" stroke-linejoin="round"/>
</g>
<rect x="182" y="1142" width="22.30000000000001" height="528" fill="none" stroke="#f3e51f" stroke-width="2.1"/>
<rect x="553.2" y="1144.7" width="16.299999999999955" height="525.3" fill="none" stroke="#f3e51f" stroke-width="2.1"/>
<rect x="559.0" y="1150.3" width="1.1" height="11.200000000000045" fill="#222"/>
<rect x="554.3" y="1160.9" width="14.200000000000045" height="1.2" fill="#333"/>
<text x="0" y="0" transform="translate(196.4,1438.9) rotate(-90)" font-size="11" textLength="47.3" lengthAdjust="spacingAndGlyphs" fill="#e2204e" stroke="#e2204e" stroke-width="0.5">Wild type</text>
<text x="0" y="0" transform="translate(564.7,1438.9) rotate(-90)" font-size="11" textLength="47.5" lengthAdjust="spacingAndGlyphs" fill="#e2204e" stroke="#e2204e" stroke-width="0.5">Wild type</text>
<path d="M34.6,1124.8 Q42,1138.3 34.6,1151.8 L32,1151.8 Q37.6,1138.3 32,1124.8 Z" fill="#000"/>
<path d="M29.4,1133.7 C27.7,1132.5 26.4,1132.2 25.1,1132.2 C22,1132.2 19.9,1134.8 19.9,1138.75 C19.9,1142.7 22,1145.3 25.1,1145.3 C26.4,1145.3 27.7,1145 29.4,1143.8" fill="none" stroke="#000" stroke-width="3.4"/>
</svg></body></html>
